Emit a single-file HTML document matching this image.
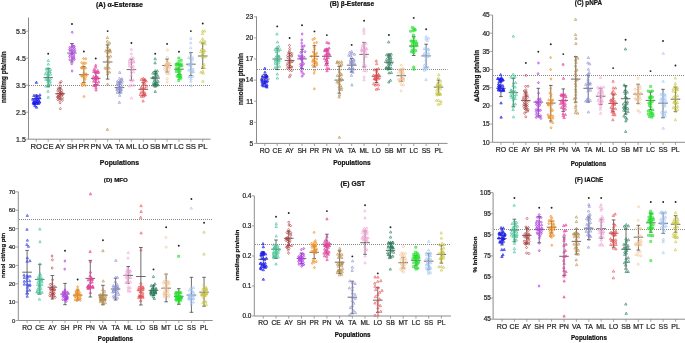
<!DOCTYPE html>
<html><head><meta charset="utf-8"><style>
html,body{margin:0;padding:0;background:#fff;}
svg{display:block;filter:blur(0.35px);}
text{font-family:"Liberation Sans", sans-serif;} .r{stroke:#262626;stroke-width:0.22px;} .b{stroke:#111;stroke-width:0.2px;}
</style></head><body>
<svg width="685" height="343" viewBox="0 0 685 343">
<rect width="685" height="343" fill="#fff"/>
<line x1="29" y1="85.5" x2="210.6" y2="85.5" stroke="#8a8a8a" stroke-width="1" stroke-dasharray="1 1"/>
<path d="M36.30,95.00V102.50M34.50,95.00H38.10M34.50,102.50H38.10" stroke="#3c3c3c" stroke-width="0.75" fill="none"/>
<path d="M31.50,98.70H41.10" stroke="#5a5a5a" stroke-width="0.9" fill="none"/>
<path d="M36.37,81.14L37.57,83.36L35.17,83.36ZM36.53,105.94L37.73,108.16L35.33,108.16ZM36.49,101.75L37.69,103.97L35.29,103.97ZM36.30,102.36L37.50,104.58L35.10,104.58ZM34.81,100.35L36.01,102.57L33.61,102.57ZM38.17,95.09L39.37,97.31L36.97,97.31ZM36.15,99.38L37.35,101.60L34.95,101.60ZM39.82,96.56L41.02,98.78L38.62,98.78ZM39.38,100.88L40.58,103.10L38.18,103.10ZM36.51,96.22L37.71,98.44L35.31,98.44ZM33.87,102.64L35.07,104.86L32.67,104.86ZM34.16,101.34L35.36,103.56L32.96,103.56ZM34.14,101.81L35.34,104.03L32.94,104.03ZM38.49,102.30L39.69,104.52L37.29,104.52ZM38.52,98.85L39.72,101.07L37.32,101.07ZM37.91,97.87L39.11,100.09L36.71,100.09ZM34.96,104.52L36.16,106.74L33.76,106.74ZM37.54,100.28L38.74,102.50L36.34,102.50ZM33.34,101.54L34.54,103.76L32.14,103.76ZM39.60,100.78L40.80,103.00L38.40,103.00ZM34.45,102.31L35.65,104.53L33.25,104.53ZM33.93,94.33L35.13,96.55L32.73,96.55ZM36.45,94.24L37.65,96.46L35.25,96.46ZM38.01,101.57L39.21,103.79L36.81,103.79ZM39.93,93.67L41.13,95.89L38.73,95.89ZM34.91,97.54L36.11,99.76L33.71,99.76ZM33.72,100.48L34.92,102.70L32.52,102.70ZM32.84,98.13L34.04,100.35L31.64,100.35Z" fill="#1818ee" fill-opacity="0.42" stroke="#1818ee" stroke-width="0.6"/>
<path d="M48.19,68.40V86.40M46.39,68.40H49.99M46.39,86.40H49.99" stroke="#3c3c3c" stroke-width="0.75" fill="none"/>
<path d="M43.39,77.60H52.99" stroke="#5a5a5a" stroke-width="0.9" fill="none"/>
<path d="M48.31,59.24L49.51,61.46L47.11,61.46ZM48.27,96.04L49.47,98.26L47.07,98.26ZM49.39,70.84L50.59,73.06L48.19,73.06ZM46.14,67.70L47.34,69.92L44.94,69.92ZM48.33,62.92L49.53,65.14L47.13,65.14ZM47.90,72.43L49.10,74.65L46.70,74.65ZM45.89,84.88L47.09,87.10L44.69,87.10ZM48.00,90.01L49.20,92.23L46.80,92.23ZM47.29,78.29L48.49,80.51L46.09,80.51ZM47.89,74.34L49.09,76.56L46.69,76.56ZM48.10,78.52L49.30,80.74L46.90,80.74ZM50.36,82.79L51.56,85.01L49.16,85.01ZM47.98,80.44L49.18,82.66L46.78,82.66ZM48.72,79.10L49.92,81.32L47.52,81.32ZM48.43,73.43L49.63,75.65L47.23,75.65ZM45.39,72.76L46.59,74.98L44.19,74.98ZM48.48,85.20L49.68,87.42L47.28,87.42ZM48.16,67.18L49.36,69.40L46.96,69.40ZM48.33,82.82L49.53,85.04L47.13,85.04ZM50.47,68.19L51.67,70.41L49.27,70.41ZM50.26,77.68L51.46,79.90L49.06,79.90ZM46.72,70.67L47.92,72.89L45.52,72.89ZM45.95,78.02L47.15,80.24L44.75,80.24ZM50.14,70.34L51.34,72.56L48.94,72.56ZM50.52,73.05L51.72,75.27L49.32,75.27ZM50.12,80.10L51.32,82.32L48.92,82.32Z" fill="none" stroke="#3cc494" stroke-width="0.62"/>
<circle cx="48.19" cy="53.70" r="0.95" fill="#222"/>
<path d="M60.08,88.00V99.00M58.28,88.00H61.88M58.28,99.00H61.88" stroke="#3c3c3c" stroke-width="0.75" fill="none"/>
<path d="M55.28,93.70H64.88" stroke="#5a5a5a" stroke-width="0.9" fill="none"/>
<path d="M61.19,80.40L62.23,81.70L61.19,83.00L60.15,81.70ZM60.13,101.50L61.17,102.80L60.13,104.10L59.09,102.80ZM58.28,95.38L59.32,96.68L58.28,97.98L57.24,96.68ZM61.58,88.96L62.62,90.26L61.58,91.56L60.54,90.26ZM59.92,90.54L60.96,91.84L59.92,93.14L58.88,91.84ZM58.13,87.62L59.17,88.92L58.13,90.22L57.09,88.92ZM57.63,96.18L58.67,97.48L57.63,98.78L56.59,97.48ZM57.78,89.57L58.82,90.87L57.78,92.17L56.74,90.87ZM59.91,81.85L60.95,83.15L59.91,84.45L58.87,83.15ZM61.64,93.85L62.68,95.15L61.64,96.45L60.60,95.15ZM62.64,93.29L63.68,94.59L62.64,95.89L61.60,94.59ZM61.98,91.37L63.02,92.67L61.98,93.97L60.94,92.67ZM62.34,92.80L63.38,94.10L62.34,95.40L61.30,94.10ZM60.10,93.87L61.14,95.17L60.10,96.47L59.06,95.17ZM59.22,94.55L60.26,95.85L59.22,97.15L58.18,95.85ZM59.90,98.95L60.94,100.25L59.90,101.55L58.86,100.25ZM62.47,96.47L63.51,97.77L62.47,99.07L61.43,97.77ZM57.89,98.27L58.93,99.57L57.89,100.87L56.85,99.57ZM59.80,96.42L60.84,97.72L59.80,99.02L58.76,97.72ZM57.86,95.36L58.90,96.66L57.86,97.96L56.82,96.66ZM61.44,91.76L62.48,93.06L61.44,94.36L60.40,93.06ZM57.69,92.81L58.73,94.11L57.69,95.41L56.65,94.11ZM60.19,85.13L61.23,86.43L60.19,87.73L59.15,86.43ZM62.43,98.87L63.47,100.17L62.43,101.47L61.39,100.17ZM59.92,91.95L60.96,93.25L59.92,94.55L58.88,93.25ZM59.83,87.05L60.87,88.35L59.83,89.65L58.79,88.35ZM60.36,107.40L61.40,108.70L60.36,110.00L59.32,108.70Z" fill="none" stroke="#b03838" stroke-width="0.62"/>
<path d="M71.97,43.50V62.00M70.17,43.50H73.77M70.17,62.00H73.77" stroke="#3c3c3c" stroke-width="0.75" fill="none"/>
<path d="M67.17,53.00H76.77" stroke="#5a5a5a" stroke-width="0.9" fill="none"/>
<path d="M72.24,30.90L73.28,32.20L72.24,33.50L71.20,32.20ZM72.09,69.70L73.13,71.00L72.09,72.30L71.05,71.00ZM69.93,53.22L70.97,54.52L69.93,55.82L68.89,54.52ZM71.80,49.45L72.84,50.75L71.80,52.05L70.76,50.75ZM73.49,45.09L74.53,46.39L73.49,47.69L72.45,46.39ZM71.72,62.54L72.76,63.84L71.72,65.14L70.68,63.84ZM71.95,52.20L72.99,53.50L71.95,54.80L70.91,53.50ZM72.25,43.61L73.29,44.91L72.25,46.21L71.21,44.91ZM74.09,55.80L75.13,57.10L74.09,58.40L73.05,57.10ZM73.97,53.70L75.01,55.00L73.97,56.30L72.93,55.00ZM73.70,57.18L74.74,58.48L73.70,59.78L72.66,58.48ZM73.57,51.05L74.61,52.35L73.57,53.65L72.53,52.35ZM74.29,58.15L75.33,59.45L74.29,60.75L73.25,59.45ZM69.88,46.27L70.92,47.57L69.88,48.87L68.84,47.57ZM69.79,58.51L70.83,59.81L69.79,61.11L68.75,59.81ZM70.07,49.44L71.11,50.74L70.07,52.04L69.03,50.74ZM72.08,58.87L73.12,60.17L72.08,61.47L71.04,60.17ZM71.80,52.95L72.84,54.25L71.80,55.55L70.76,54.25ZM69.63,55.27L70.67,56.57L69.63,57.87L68.59,56.57ZM74.59,47.19L75.63,48.49L74.59,49.79L73.55,48.49ZM75.04,49.56L76.08,50.86L75.04,52.16L74.00,50.86ZM69.67,48.23L70.71,49.53L69.67,50.83L68.63,49.53ZM73.52,48.32L74.56,49.62L73.52,50.92L72.48,49.62ZM72.04,56.21L73.08,57.51L72.04,58.81L71.00,57.51ZM74.30,45.08L75.34,46.38L74.30,47.68L73.26,46.38ZM71.72,45.76L72.76,47.06L71.72,48.36L70.68,47.06Z" fill="#b23ee6" fill-opacity="0.42" stroke="#b23ee6" stroke-width="0.6"/>
<circle cx="71.97" cy="24.00" r="0.95" fill="#222"/>
<path d="M83.86,66.70V82.50M82.06,66.70H85.66M82.06,82.50H85.66" stroke="#3c3c3c" stroke-width="0.75" fill="none"/>
<path d="M79.06,74.70H88.66" stroke="#5a5a5a" stroke-width="0.9" fill="none"/>
<path d="M83.57,57.30L84.61,58.60L83.57,59.90L82.53,58.60ZM82.39,84.40L83.43,85.70L82.39,87.00L81.35,85.70ZM83.84,67.08L84.88,68.38L83.84,69.68L82.80,68.38ZM81.93,74.23L82.97,75.53L81.93,76.83L80.89,75.53ZM83.39,74.64L84.43,75.94L83.39,77.24L82.35,75.94ZM83.42,63.45L84.46,64.75L83.42,66.05L82.38,64.75ZM86.07,75.03L87.11,76.33L86.07,77.63L85.03,76.33ZM83.79,71.72L84.83,73.02L83.79,74.32L82.75,73.02ZM81.39,66.46L82.43,67.76L81.39,69.06L80.35,67.76ZM85.82,57.52L86.86,58.82L85.82,60.12L84.78,58.82ZM81.58,74.82L82.62,76.12L81.58,77.42L80.54,76.12ZM83.73,76.54L84.77,77.84L83.73,79.14L82.69,77.84ZM85.67,61.92L86.71,63.22L85.67,64.52L84.63,63.22ZM83.79,74.08L84.83,75.38L83.79,76.68L82.75,75.38ZM82.04,66.82L83.08,68.12L82.04,69.42L81.00,68.12ZM81.53,66.27L82.57,67.57L81.53,68.87L80.49,67.57ZM85.76,66.81L86.80,68.11L85.76,69.41L84.72,68.11ZM85.30,83.95L86.34,85.25L85.30,86.55L84.26,85.25ZM83.75,82.76L84.79,84.06L83.75,85.36L82.71,84.06ZM85.97,72.70L87.01,74.00L85.97,75.30L84.93,74.00ZM85.21,77.87L86.25,79.17L85.21,80.47L84.17,79.17ZM81.91,82.52L82.95,83.82L81.91,85.12L80.87,83.82ZM84.15,80.85L85.19,82.15L84.15,83.45L83.11,82.15ZM83.87,61.59L84.91,62.89L83.87,64.19L82.83,62.89ZM86.33,73.24L87.37,74.54L86.33,75.84L85.29,74.54ZM81.68,61.45L82.72,62.75L81.68,64.05L80.64,62.75ZM83.99,95.30L85.03,96.60L83.99,97.90L82.95,96.60Z" fill="#f29022" fill-opacity="0.42" stroke="#f29022" stroke-width="0.6"/>
<circle cx="83.86" cy="51.50" r="0.95" fill="#222"/>
<path d="M95.75,72.20V84.50M93.95,72.20H97.55M93.95,84.50H97.55" stroke="#3c3c3c" stroke-width="0.75" fill="none"/>
<path d="M90.95,78.40H100.55" stroke="#5a5a5a" stroke-width="0.9" fill="none"/>
<path d="M95.74,63.94L96.94,66.16L94.54,66.16ZM96.05,88.74L97.25,90.96L94.85,90.96ZM93.55,75.19L94.75,77.41L92.35,77.41ZM95.38,84.58L96.58,86.80L94.18,86.80ZM93.79,70.35L94.99,72.57L92.59,72.57ZM95.62,69.30L96.82,71.52L94.42,71.52ZM96.42,74.83L97.62,77.05L95.22,77.05ZM93.95,68.24L95.15,70.46L92.75,70.46ZM95.62,71.52L96.82,73.74L94.42,73.74ZM98.68,80.62L99.88,82.84L97.48,82.84ZM93.69,84.27L94.89,86.49L92.49,86.49ZM96.09,76.31L97.29,78.53L94.89,78.53ZM93.70,77.53L94.90,79.75L92.50,79.75ZM97.72,71.35L98.92,73.57L96.52,73.57ZM97.69,83.25L98.89,85.47L96.49,85.47ZM97.45,77.58L98.65,79.80L96.25,79.80ZM98.49,70.99L99.69,73.21L97.29,73.21ZM97.92,76.29L99.12,78.51L96.72,78.51ZM95.66,78.05L96.86,80.27L94.46,80.27ZM96.05,80.67L97.25,82.89L94.85,82.89ZM95.99,86.30L97.19,88.52L94.79,88.52ZM93.69,80.09L94.89,82.31L92.49,82.31ZM95.55,66.00L96.75,68.22L94.35,68.22ZM95.83,75.18L97.03,77.40L94.63,77.40ZM95.53,83.87L96.73,86.09L94.33,86.09ZM97.73,69.37L98.93,71.59L96.53,71.59Z" fill="#e6409e" fill-opacity="0.42" stroke="#e6409e" stroke-width="0.6"/>
<circle cx="95.75" cy="58.50" r="0.95" fill="#222"/>
<path d="M107.64,45.00V79.10M105.84,45.00H109.44M105.84,79.10H109.44" stroke="#3c3c3c" stroke-width="0.75" fill="none"/>
<path d="M102.84,62.00H112.44" stroke="#5a5a5a" stroke-width="0.9" fill="none"/>
<path d="M107.40,36.34L108.60,38.56L106.20,38.56ZM107.71,82.94L108.91,85.16L106.51,85.16ZM109.08,66.81L110.28,69.03L107.88,69.03ZM105.08,66.81L106.28,69.03L103.88,69.03ZM109.24,49.59L110.44,51.81L108.04,51.81ZM107.72,63.10L108.92,65.32L106.52,65.32ZM109.50,70.91L110.70,73.13L108.30,73.13ZM107.57,42.91L108.77,45.13L106.37,45.13ZM110.48,54.86L111.68,57.08L109.28,57.08ZM107.49,51.37L108.69,53.59L106.29,53.59ZM105.84,49.60L107.04,51.82L104.64,51.82ZM107.45,48.51L108.65,50.73L106.25,50.73ZM107.48,70.10L108.68,72.32L106.28,72.32ZM109.61,49.09L110.81,51.31L108.41,51.31ZM107.58,45.88L108.78,48.10L106.38,48.10ZM109.63,41.77L110.83,43.99L108.43,43.99ZM110.36,50.58L111.56,52.80L109.16,52.80ZM108.84,56.02L110.04,58.24L107.64,58.24ZM107.88,58.57L109.08,60.79L106.68,60.79ZM106.99,67.77L108.19,69.99L105.79,69.99ZM107.54,72.63L108.74,74.85L106.34,74.85ZM109.93,48.64L111.13,50.86L108.73,50.86ZM107.36,65.26L108.56,67.48L106.16,67.48ZM108.24,61.20L109.44,63.42L107.04,63.42ZM107.38,39.93L108.58,42.15L106.18,42.15ZM107.34,54.71L108.54,56.93L106.14,56.93ZM107.38,128.14L108.58,130.36L106.18,130.36Z" fill="none" stroke="#b48a48" stroke-width="0.62"/>
<circle cx="107.64" cy="31.10" r="0.95" fill="#222"/>
<path d="M119.53,82.00V93.00M117.73,82.00H121.33M117.73,93.00H121.33" stroke="#3c3c3c" stroke-width="0.75" fill="none"/>
<path d="M114.73,87.60H124.33" stroke="#5a5a5a" stroke-width="0.9" fill="none"/>
<path d="M119.76,71.24L120.96,73.46L118.56,73.46ZM119.36,101.14L120.56,103.36L118.16,103.36ZM117.25,91.09L118.45,93.31L116.05,93.31ZM121.44,88.22L122.64,90.44L120.24,90.44ZM119.64,94.07L120.84,96.29L118.44,96.29ZM116.90,88.42L118.10,90.64L115.70,90.64ZM117.49,80.03L118.69,82.25L116.29,82.25ZM117.52,82.19L118.72,84.41L116.32,84.41ZM119.43,89.71L120.63,91.93L118.23,91.93ZM117.34,83.56L118.54,85.78L116.14,85.78ZM117.44,86.74L118.64,88.96L116.24,88.96ZM121.24,78.54L122.44,80.76L120.04,80.76ZM119.34,85.06L120.54,87.28L118.14,87.28ZM120.41,86.10L121.61,88.32L119.21,88.32ZM121.01,90.92L122.21,93.14L119.81,93.14ZM121.49,81.99L122.69,84.21L120.29,84.21ZM119.55,77.19L120.75,79.41L118.35,79.41ZM120.67,88.87L121.87,91.09L119.47,91.09ZM119.45,87.72L120.65,89.94L118.25,89.94ZM117.33,87.62L118.53,89.84L116.13,89.84ZM119.82,82.72L121.02,84.94L118.62,84.94ZM122.33,79.90L123.53,82.12L121.13,82.12ZM119.89,80.46L121.09,82.68L118.69,82.68ZM121.86,85.56L123.06,87.78L120.66,87.78ZM120.43,88.02L121.63,90.24L119.23,90.24ZM121.87,77.49L123.07,79.71L120.67,79.71ZM119.79,81.89L120.99,84.11L118.59,84.11ZM119.81,80.22L121.01,82.44L118.61,82.44Z" fill="none" stroke="#8c90d0" stroke-width="0.62"/>
<path d="M131.42,59.30V80.40M129.62,59.30H133.22M129.62,80.40H133.22" stroke="#3c3c3c" stroke-width="0.75" fill="none"/>
<path d="M126.62,69.60H136.22" stroke="#5a5a5a" stroke-width="0.9" fill="none"/>
<path d="M131.39,48.04L132.59,50.26L130.19,50.26ZM129.33,84.74L130.53,86.96L128.13,86.96ZM131.65,79.62L132.85,81.84L130.45,81.84ZM131.30,52.50L132.50,54.72L130.10,54.72ZM133.30,78.76L134.50,80.98L132.10,80.98ZM131.39,68.58L132.59,70.80L130.19,70.80ZM133.26,67.71L134.46,69.93L132.06,69.93ZM131.62,65.35L132.82,67.57L130.42,67.57ZM131.22,64.72L132.42,66.94L130.02,66.94ZM131.32,83.83L132.52,86.05L130.12,86.05ZM131.60,56.25L132.80,58.47L130.40,58.47ZM131.96,59.46L133.16,61.68L130.76,61.68ZM131.37,61.33L132.57,63.55L130.17,63.55ZM133.33,64.94L134.53,67.16L132.13,67.16ZM133.84,60.17L135.04,62.39L132.64,62.39ZM129.75,58.27L130.95,60.49L128.55,60.49ZM130.24,78.54L131.44,80.76L129.04,80.76ZM131.36,70.83L132.56,73.05L130.16,73.05ZM133.67,70.63L134.87,72.85L132.47,72.85ZM129.34,62.10L130.54,64.32L128.14,64.32ZM133.41,56.76L134.61,58.98L132.21,58.98ZM133.72,83.96L134.92,86.18L132.52,86.18ZM133.44,60.92L134.64,63.14L132.24,63.14ZM129.21,64.76L130.41,66.98L128.01,66.98ZM129.27,60.19L130.47,62.41L128.07,62.41ZM131.24,74.21L132.44,76.43L130.04,76.43ZM131.48,96.74L132.68,98.96L130.28,98.96Z" fill="none" stroke="#f0a6d6" stroke-width="0.62"/>
<circle cx="131.42" cy="43.00" r="0.95" fill="#222"/>
<path d="M143.31,82.70V95.80M141.51,82.70H145.11M141.51,95.80H145.11" stroke="#3c3c3c" stroke-width="0.75" fill="none"/>
<path d="M138.51,89.30H148.11" stroke="#5a5a5a" stroke-width="0.9" fill="none"/>
<path d="M143.21,77.14L144.41,79.36L142.01,79.36ZM143.13,99.74L144.33,101.96L141.93,101.96ZM141.37,86.05L142.57,88.27L140.17,88.27ZM144.92,78.59L146.12,80.81L143.72,80.81ZM141.18,87.62L142.38,89.84L139.98,89.84ZM143.46,80.19L144.66,82.41L142.26,82.41ZM143.01,90.33L144.21,92.55L141.81,92.55ZM143.47,78.65L144.67,80.87L142.27,80.87ZM144.98,93.61L146.18,95.83L143.78,95.83ZM141.33,78.20L142.53,80.42L140.13,80.42ZM143.41,92.97L144.61,95.19L142.21,95.19ZM143.68,93.15L144.88,95.37L142.48,95.37ZM145.13,83.14L146.33,85.36L143.93,85.36ZM144.75,78.90L145.95,81.12L143.55,81.12ZM146.18,79.80L147.38,82.02L144.98,82.02ZM141.09,91.08L142.29,93.30L139.89,93.30ZM144.76,91.51L145.96,93.73L143.56,93.73ZM146.34,84.98L147.54,87.20L145.14,87.20ZM143.40,87.40L144.60,89.62L142.20,89.62ZM145.22,93.58L146.42,95.80L144.02,95.80ZM140.36,93.34L141.56,95.56L139.16,95.56ZM141.39,95.13L142.59,97.35L140.19,97.35ZM144.87,78.33L146.07,80.55L143.67,80.55ZM143.28,83.30L144.48,85.52L142.08,85.52ZM145.12,87.15L146.32,89.37L143.92,89.37ZM143.49,95.04L144.69,97.26L142.29,97.26Z" fill="none" stroke="#ea4a4e" stroke-width="0.62"/>
<path d="M155.20,71.50V85.10M153.40,71.50H157.00M153.40,85.10H157.00" stroke="#3c3c3c" stroke-width="0.75" fill="none"/>
<path d="M150.40,78.10H160.00" stroke="#5a5a5a" stroke-width="0.9" fill="none"/>
<path d="M155.18,57.54L156.38,59.76L153.98,59.76ZM155.24,90.24L156.44,92.46L154.04,92.46ZM152.98,83.84L154.18,86.06L151.78,86.06ZM157.31,69.64L158.51,71.86L156.11,71.86ZM155.80,71.98L157.00,74.20L154.60,74.20ZM155.10,82.51L156.30,84.73L153.90,84.73ZM156.32,73.58L157.52,75.80L155.12,75.80ZM156.37,82.16L157.57,84.38L155.17,84.38ZM157.78,74.64L158.98,76.86L156.58,76.86ZM157.60,83.78L158.80,86.00L156.40,86.00ZM155.76,84.60L156.96,86.82L154.56,86.82ZM153.67,81.08L154.87,83.30L152.47,83.30ZM156.02,83.81L157.22,86.03L154.82,86.03ZM154.91,84.96L156.11,87.18L153.71,87.18ZM154.16,82.90L155.36,85.12L152.96,85.12ZM157.34,82.39L158.54,84.61L156.14,84.61ZM155.08,61.60L156.28,63.82L153.88,63.82ZM155.99,80.13L157.19,82.35L154.79,82.35ZM152.89,71.82L154.09,74.04L151.69,74.04ZM158.04,80.02L159.24,82.24L156.84,82.24ZM153.03,76.12L154.23,78.34L151.83,78.34ZM156.39,71.44L157.59,73.66L155.19,73.66ZM154.98,72.48L156.18,74.70L153.78,74.70ZM156.56,77.06L157.76,79.28L155.36,79.28ZM155.17,75.59L156.37,77.81L153.97,77.81ZM154.50,78.46L155.70,80.68L153.30,80.68ZM155.33,69.49L156.53,71.71L154.13,71.71ZM152.99,76.56L154.19,78.78L151.79,78.78Z" fill="none" stroke="#287e5c" stroke-width="0.62"/>
<circle cx="155.20" cy="53.70" r="0.95" fill="#222"/>
<path d="M167.09,59.00V72.00M165.29,59.00H168.89M165.29,72.00H168.89" stroke="#3c3c3c" stroke-width="0.75" fill="none"/>
<path d="M162.29,65.50H171.89" stroke="#5a5a5a" stroke-width="0.9" fill="none"/>
<path d="M166.34,50.00a1.05,1.05 0 1,0 2.1,0a1.05,1.05 0 1,0 -2.1,0M166.13,82.00a1.05,1.05 0 1,0 2.1,0a1.05,1.05 0 1,0 -2.1,0M168.48,67.65a1.05,1.05 0 1,0 2.1,0a1.05,1.05 0 1,0 -2.1,0M167.09,63.75a1.05,1.05 0 1,0 2.1,0a1.05,1.05 0 1,0 -2.1,0M165.87,73.75a1.05,1.05 0 1,0 2.1,0a1.05,1.05 0 1,0 -2.1,0M165.77,70.59a1.05,1.05 0 1,0 2.1,0a1.05,1.05 0 1,0 -2.1,0M167.47,65.25a1.05,1.05 0 1,0 2.1,0a1.05,1.05 0 1,0 -2.1,0M164.93,65.10a1.05,1.05 0 1,0 2.1,0a1.05,1.05 0 1,0 -2.1,0M166.28,57.42a1.05,1.05 0 1,0 2.1,0a1.05,1.05 0 1,0 -2.1,0M168.01,70.69a1.05,1.05 0 1,0 2.1,0a1.05,1.05 0 1,0 -2.1,0M167.87,65.09a1.05,1.05 0 1,0 2.1,0a1.05,1.05 0 1,0 -2.1,0M165.86,66.43a1.05,1.05 0 1,0 2.1,0a1.05,1.05 0 1,0 -2.1,0M167.51,64.18a1.05,1.05 0 1,0 2.1,0a1.05,1.05 0 1,0 -2.1,0M163.83,67.43a1.05,1.05 0 1,0 2.1,0a1.05,1.05 0 1,0 -2.1,0M165.90,64.73a1.05,1.05 0 1,0 2.1,0a1.05,1.05 0 1,0 -2.1,0M168.89,63.30a1.05,1.05 0 1,0 2.1,0a1.05,1.05 0 1,0 -2.1,0M163.83,69.60a1.05,1.05 0 1,0 2.1,0a1.05,1.05 0 1,0 -2.1,0M166.80,63.00a1.05,1.05 0 1,0 2.1,0a1.05,1.05 0 1,0 -2.1,0M166.15,78.69a1.05,1.05 0 1,0 2.1,0a1.05,1.05 0 1,0 -2.1,0M166.27,67.60a1.05,1.05 0 1,0 2.1,0a1.05,1.05 0 1,0 -2.1,0M168.00,73.83a1.05,1.05 0 1,0 2.1,0a1.05,1.05 0 1,0 -2.1,0M165.31,63.68a1.05,1.05 0 1,0 2.1,0a1.05,1.05 0 1,0 -2.1,0M166.56,64.16a1.05,1.05 0 1,0 2.1,0a1.05,1.05 0 1,0 -2.1,0M168.40,67.07a1.05,1.05 0 1,0 2.1,0a1.05,1.05 0 1,0 -2.1,0M166.05,61.19a1.05,1.05 0 1,0 2.1,0a1.05,1.05 0 1,0 -2.1,0M164.20,64.98a1.05,1.05 0 1,0 2.1,0a1.05,1.05 0 1,0 -2.1,0" fill="none" stroke="#f2c290" stroke-width="0.62"/>
<circle cx="167.09" cy="43.90" r="0.95" fill="#222"/>
<path d="M178.98,64.00V74.50M177.18,64.00H180.78M177.18,74.50H180.78" stroke="#3c3c3c" stroke-width="0.75" fill="none"/>
<path d="M174.18,69.20H183.78" stroke="#5a5a5a" stroke-width="0.9" fill="none"/>
<path d="M177.80,57.00h2.0v2.0h-2.0ZM177.70,79.50h2.0v2.0h-2.0ZM179.56,64.88h2.0v2.0h-2.0ZM178.48,72.80h2.0v2.0h-2.0ZM177.85,75.22h2.0v2.0h-2.0ZM175.34,70.60h2.0v2.0h-2.0ZM175.20,63.44h2.0v2.0h-2.0ZM179.11,69.78h2.0v2.0h-2.0ZM179.19,64.45h2.0v2.0h-2.0ZM177.93,60.34h2.0v2.0h-2.0ZM180.94,64.85h2.0v2.0h-2.0ZM180.23,59.32h2.0v2.0h-2.0ZM176.25,62.63h2.0v2.0h-2.0ZM177.86,71.03h2.0v2.0h-2.0ZM176.18,75.23h2.0v2.0h-2.0ZM175.26,63.63h2.0v2.0h-2.0ZM175.91,68.73h2.0v2.0h-2.0ZM177.87,67.63h2.0v2.0h-2.0ZM175.69,66.70h2.0v2.0h-2.0ZM179.31,75.91h2.0v2.0h-2.0ZM180.28,62.93h2.0v2.0h-2.0ZM179.81,74.51h2.0v2.0h-2.0ZM179.90,77.18h2.0v2.0h-2.0ZM177.77,63.41h2.0v2.0h-2.0ZM178.28,75.17h2.0v2.0h-2.0ZM178.05,77.39h2.0v2.0h-2.0Z" fill="#22e02a" fill-opacity="0.42" stroke="#22e02a" stroke-width="0.6"/>
<circle cx="178.98" cy="51.80" r="0.95" fill="#222"/>
<path d="M190.87,52.50V75.50M189.07,52.50H192.67M189.07,75.50H192.67" stroke="#3c3c3c" stroke-width="0.75" fill="none"/>
<path d="M186.07,64.20H195.67" stroke="#5a5a5a" stroke-width="0.9" fill="none"/>
<path d="M190.83,37.14L192.03,39.36L189.63,39.36ZM191.15,84.44L192.35,86.66L189.95,86.66ZM188.81,68.83L190.01,71.05L187.61,71.05ZM193.31,70.20L194.51,72.42L192.11,72.42ZM191.06,69.16L192.26,71.38L189.86,71.38ZM190.61,51.65L191.81,53.87L189.41,53.87ZM193.11,67.80L194.31,70.02L191.91,70.02ZM192.97,70.47L194.17,72.69L191.77,72.69ZM189.06,75.53L190.26,77.75L187.86,77.75ZM192.69,56.52L193.89,58.74L191.49,58.74ZM188.89,56.37L190.09,58.59L187.69,58.59ZM190.83,79.95L192.03,82.17L189.63,82.17ZM190.59,61.45L191.79,63.67L189.39,63.67ZM190.93,75.50L192.13,77.72L189.73,77.72ZM192.37,58.63L193.57,60.85L191.17,60.85ZM188.85,63.70L190.05,65.92L187.65,65.92ZM190.65,46.53L191.85,48.75L189.45,48.75ZM191.08,71.07L192.28,73.29L189.88,73.29ZM190.81,57.26L192.01,59.48L189.61,59.48ZM190.74,41.59L191.94,43.81L189.54,43.81ZM191.05,77.50L192.25,79.72L189.85,79.72ZM189.45,62.92L190.65,65.14L188.25,65.14ZM192.85,74.99L194.05,77.21L191.65,77.21ZM192.40,62.70L193.60,64.92L191.20,64.92ZM191.00,66.44L192.20,68.66L189.80,68.66ZM190.85,64.33L192.05,66.55L189.65,66.55Z" fill="none" stroke="#a2c4f4" stroke-width="0.62"/>
<circle cx="190.87" cy="31.10" r="0.95" fill="#222"/>
<path d="M202.76,43.00V68.30M200.96,43.00H204.56M200.96,68.30H204.56" stroke="#3c3c3c" stroke-width="0.75" fill="none"/>
<path d="M197.96,56.00H207.56" stroke="#5a5a5a" stroke-width="0.9" fill="none"/>
<path d="M204.57,29.74L205.77,31.96L203.37,31.96ZM202.86,80.04L204.06,82.26L201.66,82.26ZM201.44,54.31L202.64,56.53L200.24,56.53ZM200.70,50.54L201.90,52.76L199.50,52.76ZM203.75,49.33L204.95,51.55L202.55,51.55ZM202.78,39.94L203.98,42.16L201.58,42.16ZM202.91,52.25L204.11,54.47L201.71,54.47ZM204.25,66.50L205.45,68.72L203.05,68.72ZM202.68,29.86L203.88,32.08L201.48,32.08ZM204.84,49.47L206.04,51.69L203.64,51.69ZM203.31,71.88L204.51,74.10L202.11,74.10ZM200.50,40.58L201.70,42.80L199.30,42.80ZM202.75,70.04L203.95,72.26L201.55,72.26ZM204.10,63.24L205.30,65.46L202.90,65.46ZM202.52,42.08L203.72,44.30L201.32,44.30ZM200.89,71.07L202.09,73.29L199.69,73.29ZM202.64,55.90L203.84,58.12L201.44,58.12ZM205.05,55.64L206.25,57.86L203.85,57.86ZM201.43,48.37L202.63,50.59L200.23,50.59ZM202.66,37.44L203.86,39.66L201.46,39.66ZM203.44,51.18L204.64,53.40L202.24,53.40ZM202.63,50.00L203.83,52.22L201.43,52.22ZM204.99,40.11L206.19,42.33L203.79,42.33ZM202.54,32.32L203.74,34.54L201.34,34.54ZM202.77,64.85L203.97,67.07L201.57,67.07ZM205.07,42.59L206.27,44.81L203.87,44.81Z" fill="none" stroke="#c8c444" stroke-width="0.62"/>
<circle cx="202.76" cy="23.50" r="0.95" fill="#222"/>
<path d="M28.5,17.5V139.2H210.6" stroke="#8c8c8c" stroke-width="1" fill="none"/>
<path d="M26.1,31.2H28.5M26.1,58.2H28.5M26.1,85.2H28.5M26.1,112.2H28.5M26.1,139.2H28.5" stroke="#8c8c8c" stroke-width="0.8" fill="none"/>
<text x="25.80" y="33.65" text-anchor="end" font-size="7.0" fill="#262626" class="r">5.5</text>
<text x="25.80" y="60.65" text-anchor="end" font-size="7.0" fill="#262626" class="r">4.5</text>
<text x="25.80" y="87.65" text-anchor="end" font-size="7.0" fill="#262626" class="r">3.5</text>
<text x="25.80" y="114.65" text-anchor="end" font-size="7.0" fill="#262626" class="r">2.5</text>
<text x="25.80" y="141.65" text-anchor="end" font-size="7.0" fill="#262626" class="r">1.5</text>
<path d="M36.30,139.2v2.6M48.19,139.2v2.6M60.08,139.2v2.6M71.97,139.2v2.6M83.86,139.2v2.6M95.75,139.2v2.6M107.64,139.2v2.6M119.53,139.2v2.6M131.42,139.2v2.6M143.31,139.2v2.6M155.20,139.2v2.6M167.09,139.2v2.6M178.98,139.2v2.6M190.87,139.2v2.6M202.76,139.2v2.6" stroke="#8c8c8c" stroke-width="0.8" fill="none"/>
<text x="36.30" y="148.9" text-anchor="middle" font-size="7.7" fill="#262626" class="r">RO</text>
<text x="48.19" y="148.9" text-anchor="middle" font-size="7.7" fill="#262626" class="r">CE</text>
<text x="60.08" y="148.9" text-anchor="middle" font-size="7.7" fill="#262626" class="r">AY</text>
<text x="71.97" y="148.9" text-anchor="middle" font-size="7.7" fill="#262626" class="r">SH</text>
<text x="83.86" y="148.9" text-anchor="middle" font-size="7.7" fill="#262626" class="r">PR</text>
<text x="95.75" y="148.9" text-anchor="middle" font-size="7.7" fill="#262626" class="r">PN</text>
<text x="107.64" y="148.9" text-anchor="middle" font-size="7.7" fill="#262626" class="r">VA</text>
<text x="119.53" y="148.9" text-anchor="middle" font-size="7.7" fill="#262626" class="r">TA</text>
<text x="131.42" y="148.9" text-anchor="middle" font-size="7.7" fill="#262626" class="r">ML</text>
<text x="143.31" y="148.9" text-anchor="middle" font-size="7.7" fill="#262626" class="r">LO</text>
<text x="155.20" y="148.9" text-anchor="middle" font-size="7.7" fill="#262626" class="r">SB</text>
<text x="167.09" y="148.9" text-anchor="middle" font-size="7.7" fill="#262626" class="r">MT</text>
<text x="178.98" y="148.9" text-anchor="middle" font-size="7.7" fill="#262626" class="r">LC</text>
<text x="190.87" y="148.9" text-anchor="middle" font-size="7.7" fill="#262626" class="r">SS</text>
<text x="202.76" y="148.9" text-anchor="middle" font-size="7.7" fill="#262626" class="r">PL</text>
<text x="95.93" y="6.70" font-size="6.4" font-weight="bold" fill="#111" class="b" textLength="47.04" lengthAdjust="spacingAndGlyphs">(A) α-Esterase</text>
<text x="99.86" y="164.90" font-size="6.9" font-weight="bold" fill="#111" class="b" textLength="39.28" lengthAdjust="spacingAndGlyphs">Populations</text>
<text transform="rotate(-90)" x="-102.96" y="6.30" font-size="6.3" font-weight="bold" fill="#111" class="b" textLength="51.59" lengthAdjust="spacingAndGlyphs">nmol/mg pts/min</text>
<line x1="257" y1="69.5" x2="447.6" y2="69.5" stroke="#8a8a8a" stroke-width="1" stroke-dasharray="1 1"/>
<path d="M264.80,74.50V84.00M263.00,74.50H266.60M263.00,84.00H266.60" stroke="#3c3c3c" stroke-width="0.75" fill="none"/>
<path d="M260.00,79.10H269.60" stroke="#5a5a5a" stroke-width="0.9" fill="none"/>
<path d="M264.83,67.14L266.03,69.36L263.63,69.36ZM266.86,85.84L268.06,88.06L265.66,88.06ZM267.10,75.11L268.30,77.33L265.90,77.33ZM266.12,76.31L267.32,78.53L264.92,78.53ZM266.47,75.50L267.67,77.72L265.27,77.72ZM264.98,70.98L266.18,73.20L263.78,73.20ZM264.29,79.28L265.49,81.50L263.09,81.50ZM261.74,78.58L262.94,80.80L260.54,80.80ZM264.80,81.12L266.00,83.34L263.60,83.34ZM262.59,76.09L263.79,78.31L261.39,78.31ZM266.37,84.92L267.57,87.14L265.17,87.14ZM262.09,80.80L263.29,83.02L260.89,83.02ZM266.79,80.65L267.99,82.87L265.59,82.87ZM262.19,79.17L263.39,81.39L260.99,81.39ZM265.03,84.75L266.23,86.97L263.83,86.97ZM264.73,82.15L265.93,84.37L263.53,84.37ZM266.60,74.25L267.80,76.47L265.40,76.47ZM262.92,81.83L264.12,84.05L261.72,84.05ZM262.45,74.73L263.65,76.95L261.25,76.95ZM267.01,83.85L268.21,86.07L265.81,86.07ZM264.91,75.17L266.11,77.39L263.71,77.39ZM265.77,79.68L266.97,81.90L264.57,81.90ZM266.37,74.18L267.57,76.40L265.17,76.40ZM267.52,79.56L268.72,81.78L266.32,81.78ZM263.05,84.63L264.25,86.85L261.85,86.85ZM262.18,83.51L263.38,85.73L260.98,85.73Z" fill="#1818ee" fill-opacity="0.42" stroke="#1818ee" stroke-width="0.6"/>
<path d="M277.21,48.30V69.60M275.41,48.30H279.01M275.41,69.60H279.01" stroke="#3c3c3c" stroke-width="0.75" fill="none"/>
<path d="M272.41,59.00H282.01" stroke="#5a5a5a" stroke-width="0.9" fill="none"/>
<path d="M277.50,40.74L278.70,42.96L276.30,42.96ZM277.37,76.84L278.57,79.06L276.17,79.06ZM279.17,59.21L280.37,61.43L277.97,61.43ZM277.00,62.72L278.20,64.94L275.80,64.94ZM279.05,55.02L280.25,57.24L277.85,57.24ZM278.78,55.73L279.98,57.95L277.58,57.95ZM275.24,62.07L276.44,64.29L274.04,64.29ZM278.56,45.03L279.76,47.25L277.36,47.25ZM277.28,72.78L278.48,75.00L276.08,75.00ZM278.57,58.89L279.77,61.11L277.37,61.11ZM279.39,65.07L280.59,67.29L278.19,67.29ZM275.09,48.49L276.29,50.71L273.89,50.71ZM278.47,49.62L279.67,51.84L277.27,51.84ZM277.18,58.35L278.38,60.57L275.98,60.57ZM274.90,66.23L276.10,68.45L273.70,68.45ZM276.37,50.53L277.57,52.75L275.17,52.75ZM276.76,46.32L277.96,48.54L275.56,48.54ZM280.16,48.37L281.36,50.59L278.96,50.59ZM275.93,55.62L277.13,57.84L274.73,57.84ZM277.16,65.84L278.36,68.06L275.96,68.06ZM277.34,54.35L278.54,56.57L276.14,56.57ZM277.48,47.99L278.68,50.21L276.28,50.21ZM278.63,54.85L279.83,57.07L277.43,57.07ZM275.58,59.82L276.78,62.04L274.38,62.04ZM275.32,58.47L276.52,60.69L274.12,60.69ZM278.75,61.62L279.95,63.84L277.55,63.84ZM276.94,32.74L278.14,34.96L275.74,34.96Z" fill="none" stroke="#3cc494" stroke-width="0.62"/>
<circle cx="277.21" cy="26.40" r="0.95" fill="#222"/>
<path d="M289.62,53.00V68.00M287.82,53.00H291.42M287.82,68.00H291.42" stroke="#3c3c3c" stroke-width="0.75" fill="none"/>
<path d="M284.82,60.40H294.42" stroke="#5a5a5a" stroke-width="0.9" fill="none"/>
<path d="M289.44,44.10L290.48,45.40L289.44,46.70L288.40,45.40ZM289.40,75.60L290.44,76.90L289.40,78.20L288.36,76.90ZM288.98,59.64L290.02,60.94L288.98,62.24L287.94,60.94ZM287.25,63.97L288.29,65.27L287.25,66.57L286.21,65.27ZM291.96,65.73L293.00,67.03L291.96,68.33L290.92,67.03ZM291.82,69.27L292.86,70.57L291.82,71.87L290.78,70.57ZM289.45,49.64L290.49,50.94L289.45,52.24L288.41,50.94ZM290.12,53.32L291.16,54.62L290.12,55.92L289.08,54.62ZM289.41,65.73L290.45,67.03L289.41,68.33L288.37,67.03ZM287.75,54.30L288.79,55.60L287.75,56.90L286.71,55.60ZM289.64,63.82L290.68,65.12L289.64,66.42L288.60,65.12ZM292.52,60.24L293.56,61.54L292.52,62.84L291.48,61.54ZM289.77,47.28L290.81,48.58L289.77,49.88L288.73,48.58ZM289.88,57.87L290.92,59.17L289.88,60.47L288.84,59.17ZM287.62,66.92L288.66,68.22L287.62,69.52L286.58,68.22ZM291.89,54.70L292.93,56.00L291.89,57.30L290.85,56.00ZM291.44,60.56L292.48,61.86L291.44,63.16L290.40,61.86ZM289.58,69.05L290.62,70.35L289.58,71.65L288.54,70.35ZM290.56,65.29L291.60,66.59L290.56,67.89L289.52,66.59ZM287.78,56.41L288.82,57.71L287.78,59.01L286.74,57.71ZM290.41,73.83L291.45,75.13L290.41,76.43L289.37,75.13ZM291.79,52.29L292.83,53.59L291.79,54.89L290.75,53.59ZM288.73,51.49L289.77,52.79L288.73,54.09L287.69,52.79ZM289.60,55.11L290.64,56.41L289.60,57.71L288.56,56.41ZM289.77,61.60L290.81,62.90L289.77,64.20L288.73,62.90ZM287.70,61.73L288.74,63.03L287.70,64.33L286.66,63.03Z" fill="none" stroke="#b03838" stroke-width="0.62"/>
<circle cx="289.62" cy="38.00" r="0.95" fill="#222"/>
<path d="M302.03,49.30V68.50M300.23,49.30H303.83M300.23,68.50H303.83" stroke="#3c3c3c" stroke-width="0.75" fill="none"/>
<path d="M297.23,58.90H306.83" stroke="#5a5a5a" stroke-width="0.9" fill="none"/>
<path d="M301.80,38.70L302.84,40.00L301.80,41.30L300.76,40.00ZM302.08,74.90L303.12,76.20L302.08,77.50L301.04,76.20ZM301.37,69.46L302.41,70.76L301.37,72.06L300.33,70.76ZM300.85,65.28L301.89,66.58L300.85,67.88L299.81,66.58ZM304.26,44.58L305.30,45.88L304.26,47.18L303.22,45.88ZM302.06,71.23L303.10,72.53L302.06,73.83L301.02,72.53ZM302.20,64.04L303.24,65.34L302.20,66.64L301.16,65.34ZM302.32,60.76L303.36,62.06L302.32,63.36L301.28,62.06ZM302.17,58.48L303.21,59.78L302.17,61.08L301.13,59.78ZM303.66,62.57L304.70,63.87L303.66,65.17L302.62,63.87ZM300.88,57.68L301.92,58.98L300.88,60.28L299.84,58.98ZM304.27,56.02L305.31,57.32L304.27,58.62L303.23,57.32ZM300.42,62.94L301.46,64.24L300.42,65.54L299.38,64.24ZM298.96,54.52L300.00,55.82L298.96,57.12L297.92,55.82ZM300.79,51.07L301.83,52.37L300.79,53.67L299.75,52.37ZM301.74,41.80L302.78,43.10L301.74,44.40L300.70,43.10ZM302.24,56.50L303.28,57.80L302.24,59.10L301.20,57.80ZM302.30,50.07L303.34,51.37L302.30,52.67L301.26,51.37ZM303.57,72.84L304.61,74.14L303.57,75.44L302.53,74.14ZM301.34,54.78L302.38,56.08L301.34,57.38L300.30,56.08ZM302.23,54.45L303.27,55.75L302.23,57.05L301.19,55.75ZM305.03,50.40L306.07,51.70L305.03,53.00L303.99,51.70ZM301.88,44.68L302.92,45.98L301.88,47.28L300.84,45.98ZM301.78,67.32L302.82,68.62L301.78,69.92L300.74,68.62ZM302.51,46.55L303.55,47.85L302.51,49.15L301.47,47.85ZM300.18,56.46L301.22,57.76L300.18,59.06L299.14,57.76ZM302.16,32.70L303.20,34.00L302.16,35.30L301.12,34.00Z" fill="#b23ee6" fill-opacity="0.42" stroke="#b23ee6" stroke-width="0.6"/>
<circle cx="302.03" cy="25.20" r="0.95" fill="#222"/>
<path d="M314.44,45.70V67.00M312.64,45.70H316.24M312.64,67.00H316.24" stroke="#3c3c3c" stroke-width="0.75" fill="none"/>
<path d="M309.64,56.30H319.24" stroke="#5a5a5a" stroke-width="0.9" fill="none"/>
<path d="M314.65,37.10L315.69,38.40L314.65,39.70L313.61,38.40ZM314.17,71.90L315.21,73.20L314.17,74.50L313.13,73.20ZM314.24,45.92L315.28,47.22L314.24,48.52L313.20,47.22ZM311.53,55.01L312.57,56.31L311.53,57.61L310.49,56.31ZM313.96,58.97L315.00,60.27L313.96,61.57L312.92,60.27ZM314.68,59.83L315.72,61.13L314.68,62.43L313.64,61.13ZM312.88,38.19L313.92,39.49L312.88,40.79L311.84,39.49ZM317.03,63.62L318.07,64.92L317.03,66.22L315.99,64.92ZM314.69,64.15L315.73,65.45L314.69,66.75L313.65,65.45ZM314.55,62.22L315.59,63.52L314.55,64.82L313.51,63.52ZM312.86,58.66L313.90,59.96L312.86,61.26L311.82,59.96ZM313.82,54.38L314.86,55.68L313.82,56.98L312.78,55.68ZM315.84,53.89L316.88,55.19L315.84,56.49L314.80,55.19ZM314.61,52.30L315.65,53.60L314.61,54.90L313.57,53.60ZM312.56,60.55L313.60,61.85L312.56,63.15L311.52,61.85ZM316.77,57.74L317.81,59.04L316.77,60.34L315.73,59.04ZM312.53,64.17L313.57,65.47L312.53,66.77L311.49,65.47ZM314.51,69.31L315.55,70.61L314.51,71.91L313.47,70.61ZM316.67,61.76L317.71,63.06L316.67,64.36L315.63,63.06ZM313.03,50.72L314.07,52.02L313.03,53.32L311.99,52.02ZM315.98,61.08L317.02,62.38L315.98,63.68L314.94,62.38ZM314.60,47.88L315.64,49.18L314.60,50.48L313.56,49.18ZM314.51,57.00L315.55,58.30L314.51,59.60L313.47,58.30ZM316.76,41.10L317.80,42.40L316.76,43.70L315.72,42.40ZM314.26,41.90L315.30,43.20L314.26,44.50L313.22,43.20ZM316.66,51.88L317.70,53.18L316.66,54.48L315.62,53.18ZM314.36,87.60L315.40,88.90L314.36,90.20L313.32,88.90Z" fill="#f29022" fill-opacity="0.42" stroke="#f29022" stroke-width="0.6"/>
<circle cx="314.44" cy="31.40" r="0.95" fill="#222"/>
<path d="M326.85,49.00V63.50M325.05,49.00H328.65M325.05,63.50H328.65" stroke="#3c3c3c" stroke-width="0.75" fill="none"/>
<path d="M322.05,56.30H331.65" stroke="#5a5a5a" stroke-width="0.9" fill="none"/>
<path d="M326.90,41.14L328.10,43.36L325.70,43.36ZM327.04,69.54L328.24,71.76L325.84,71.76ZM325.61,49.05L326.81,51.27L324.41,51.27ZM326.90,54.43L328.10,56.65L325.70,56.65ZM328.90,53.09L330.10,55.31L327.70,55.31ZM324.68,49.63L325.88,51.85L323.48,51.85ZM326.86,48.64L328.06,50.86L325.66,50.86ZM324.49,57.21L325.69,59.43L323.29,59.43ZM324.88,48.47L326.08,50.69L323.68,50.69ZM329.10,46.82L330.30,49.04L327.90,49.04ZM326.98,67.04L328.18,69.26L325.78,69.26ZM325.67,59.64L326.87,61.86L324.47,61.86ZM328.12,49.04L329.32,51.26L326.92,51.26ZM328.28,56.25L329.48,58.47L327.08,58.47ZM324.94,54.26L326.14,56.48L323.74,56.48ZM327.45,60.06L328.65,62.28L326.25,62.28ZM326.71,57.74L327.91,59.96L325.51,59.96ZM328.01,50.98L329.21,53.20L326.81,53.20ZM325.68,63.54L326.88,65.76L324.48,65.76ZM329.40,52.98L330.60,55.20L328.20,55.20ZM326.60,52.26L327.80,54.48L325.40,54.48ZM328.94,67.41L330.14,69.63L327.74,69.63ZM328.86,41.90L330.06,44.12L327.66,44.12ZM326.87,47.68L328.07,49.90L325.67,49.90ZM326.78,61.91L327.98,64.13L325.58,64.13ZM327.35,63.79L328.55,66.01L326.15,66.01Z" fill="#e6409e" fill-opacity="0.42" stroke="#e6409e" stroke-width="0.6"/>
<circle cx="326.85" cy="35.10" r="0.95" fill="#222"/>
<path d="M339.26,66.40V93.20M337.46,66.40H341.06M337.46,93.20H341.06" stroke="#3c3c3c" stroke-width="0.75" fill="none"/>
<path d="M334.46,80.10H344.06" stroke="#5a5a5a" stroke-width="0.9" fill="none"/>
<path d="M337.22,60.34L338.42,62.56L336.02,62.56ZM339.14,95.74L340.34,97.96L337.94,97.96ZM341.54,86.41L342.74,88.63L340.34,88.63ZM339.48,76.80L340.68,79.02L338.28,79.02ZM340.73,79.06L341.93,81.28L339.53,81.28ZM341.79,63.12L342.99,65.34L340.59,65.34ZM340.60,64.74L341.80,66.96L339.40,66.96ZM337.37,74.35L338.57,76.57L336.17,76.57ZM341.57,77.34L342.77,79.56L340.37,79.56ZM339.43,70.44L340.63,72.66L338.23,72.66ZM339.48,74.20L340.68,76.42L338.28,76.42ZM339.03,82.07L340.23,84.29L337.83,84.29ZM338.99,80.02L340.19,82.24L337.79,82.24ZM341.49,88.43L342.69,90.65L340.29,90.65ZM341.58,73.50L342.78,75.72L340.38,75.72ZM339.29,85.58L340.49,87.80L338.09,87.80ZM340.70,72.78L341.90,75.00L339.50,75.00ZM337.03,80.78L338.23,83.00L335.83,83.00ZM340.43,84.14L341.63,86.36L339.23,86.36ZM339.26,68.00L340.46,70.22L338.06,70.22ZM339.42,87.80L340.62,90.02L338.22,90.02ZM339.11,60.69L340.31,62.91L337.91,62.91ZM341.62,60.50L342.82,62.72L340.42,62.72ZM339.46,63.08L340.66,65.30L338.26,65.30ZM339.54,93.65L340.74,95.87L338.34,95.87ZM337.07,61.49L338.27,63.71L335.87,63.71ZM339.39,136.04L340.59,138.26L338.19,138.26Z" fill="none" stroke="#b48a48" stroke-width="0.62"/>
<path d="M351.67,58.50V72.00M349.87,58.50H353.47M349.87,72.00H353.47" stroke="#3c3c3c" stroke-width="0.75" fill="none"/>
<path d="M346.87,65.20H356.47" stroke="#5a5a5a" stroke-width="0.9" fill="none"/>
<path d="M351.52,50.24L352.72,52.46L350.32,52.46ZM351.41,74.14L352.61,76.36L350.21,76.36ZM352.39,62.02L353.59,64.24L351.19,64.24ZM350.37,61.30L351.57,63.52L349.17,63.52ZM350.44,58.98L351.64,61.20L349.24,61.20ZM352.48,66.02L353.68,68.24L351.28,68.24ZM353.58,68.05L354.78,70.27L352.38,70.27ZM354.50,52.99L355.70,55.21L353.30,55.21ZM353.00,62.08L354.20,64.30L351.80,64.30ZM351.55,67.37L352.75,69.59L350.35,69.59ZM351.93,59.95L353.13,62.17L350.73,62.17ZM351.38,70.01L352.58,72.23L350.18,72.23ZM349.75,51.02L350.95,53.24L348.55,53.24ZM350.75,53.83L351.95,56.05L349.55,56.05ZM354.60,62.29L355.80,64.51L353.40,64.51ZM349.44,67.39L350.64,69.61L348.24,69.61ZM353.53,58.95L354.73,61.17L352.33,61.17ZM354.09,58.88L355.29,61.10L352.89,61.10ZM350.76,63.38L351.96,65.60L349.56,65.60ZM348.82,54.01L350.02,56.23L347.62,56.23ZM352.24,52.06L353.44,54.28L351.04,54.28ZM351.50,60.31L352.70,62.53L350.30,62.53ZM351.80,67.88L353.00,70.10L350.60,70.10ZM349.24,67.11L350.44,69.33L348.04,69.33ZM352.88,70.97L354.08,73.19L351.68,73.19ZM351.53,56.00L352.73,58.22L350.33,58.22ZM351.94,83.64L353.14,85.86L350.74,85.86Z" fill="none" stroke="#8c90d0" stroke-width="0.62"/>
<circle cx="351.67" cy="44.90" r="0.95" fill="#222"/>
<path d="M364.08,42.40V67.00M362.28,42.40H365.88M362.28,67.00H365.88" stroke="#3c3c3c" stroke-width="0.75" fill="none"/>
<path d="M359.28,54.40H368.88" stroke="#5a5a5a" stroke-width="0.9" fill="none"/>
<path d="M363.88,27.64L365.08,29.86L362.68,29.86ZM366.35,69.54L367.55,71.76L365.15,71.76ZM361.81,47.85L363.01,50.07L360.61,50.07ZM366.14,42.04L367.34,44.26L364.94,44.26ZM366.54,47.17L367.74,49.39L365.34,49.39ZM363.82,29.70L365.02,31.92L362.62,31.92ZM362.82,43.49L364.02,45.71L361.62,45.71ZM364.48,44.84L365.68,47.06L363.28,47.06ZM362.40,45.57L363.60,47.79L361.20,47.79ZM364.02,60.45L365.22,62.67L362.82,62.67ZM365.74,50.89L366.94,53.11L364.54,53.11ZM363.95,48.47L365.15,50.69L362.75,50.69ZM364.12,54.35L365.32,56.57L362.92,56.57ZM363.87,62.90L365.07,65.12L362.67,65.12ZM364.23,42.20L365.43,44.42L363.03,44.42ZM366.07,55.11L367.27,57.33L364.87,57.33ZM364.81,48.05L366.01,50.27L363.61,50.27ZM362.50,50.94L363.70,53.16L361.30,53.16ZM364.33,67.00L365.53,69.22L363.13,69.22ZM365.49,64.23L366.69,66.45L364.29,66.45ZM361.68,49.06L362.88,51.28L360.48,51.28ZM363.97,69.32L365.17,71.54L362.77,71.54ZM364.15,52.33L365.35,54.55L362.95,54.55ZM361.75,48.87L362.95,51.09L360.55,51.09ZM364.12,32.11L365.32,34.33L362.92,34.33ZM366.12,47.91L367.32,50.13L364.92,50.13ZM364.19,75.64L365.39,77.86L362.99,77.86ZM364.09,78.54L365.29,80.76L362.89,80.76Z" fill="none" stroke="#f0a6d6" stroke-width="0.62"/>
<circle cx="364.08" cy="20.80" r="0.95" fill="#222"/>
<path d="M376.49,69.30V82.50M374.69,69.30H378.29M374.69,82.50H378.29" stroke="#3c3c3c" stroke-width="0.75" fill="none"/>
<path d="M371.69,76.20H381.29" stroke="#5a5a5a" stroke-width="0.9" fill="none"/>
<path d="M376.29,59.54L377.49,61.76L375.09,61.76ZM376.33,88.04L377.53,90.26L375.13,90.26ZM378.39,73.08L379.59,75.30L377.19,75.30ZM376.99,76.28L378.19,78.50L375.79,78.50ZM378.67,67.36L379.87,69.58L377.47,69.58ZM375.33,83.83L376.53,86.05L374.13,86.05ZM376.28,78.89L377.48,81.11L375.08,81.11ZM374.30,68.53L375.50,70.75L373.10,70.75ZM376.72,70.12L377.92,72.34L375.52,72.34ZM376.67,62.48L377.87,64.70L375.47,64.70ZM378.42,73.48L379.62,75.70L377.22,75.70ZM376.48,73.52L377.68,75.74L375.28,75.74ZM374.99,77.41L376.19,79.63L373.79,79.63ZM378.68,83.66L379.88,85.88L377.48,85.88ZM375.05,77.85L376.25,80.07L373.85,80.07ZM378.34,77.52L379.54,79.74L377.14,79.74ZM376.56,82.61L377.76,84.83L375.36,84.83ZM376.21,73.57L377.41,75.79L375.01,75.79ZM378.32,87.49L379.52,89.71L377.12,89.71ZM373.70,74.06L374.90,76.28L372.50,76.28ZM376.78,76.35L377.98,78.57L375.58,78.57ZM376.77,68.20L377.97,70.42L375.57,70.42ZM375.49,75.18L376.69,77.40L374.29,77.40ZM374.33,77.38L375.53,79.60L373.13,79.60ZM379.29,76.32L380.49,78.54L378.09,78.54ZM373.64,82.55L374.84,84.77L372.44,84.77Z" fill="none" stroke="#ea4a4e" stroke-width="0.62"/>
<path d="M388.90,54.00V69.60M387.10,54.00H390.70M387.10,69.60H390.70" stroke="#3c3c3c" stroke-width="0.75" fill="none"/>
<path d="M384.10,62.20H393.70" stroke="#5a5a5a" stroke-width="0.9" fill="none"/>
<path d="M388.68,40.74L389.88,42.96L387.48,42.96ZM388.81,80.74L390.01,82.96L387.61,82.96ZM390.45,79.02L391.65,81.24L389.25,81.24ZM388.61,62.14L389.81,64.36L387.41,64.36ZM387.79,67.80L388.99,70.02L386.59,70.02ZM389.11,66.67L390.31,68.89L387.91,68.89ZM389.75,67.27L390.95,69.49L388.55,69.49ZM391.46,61.63L392.66,63.85L390.26,63.85ZM390.93,56.33L392.13,58.55L389.73,58.55ZM386.11,67.01L387.31,69.23L384.91,69.23ZM386.55,58.24L387.75,60.46L385.35,60.46ZM390.01,54.46L391.21,56.68L388.81,56.68ZM388.24,55.38L389.44,57.60L387.04,57.60ZM387.67,65.22L388.87,67.44L386.47,67.44ZM388.91,53.49L390.11,55.71L387.71,55.71ZM390.85,58.29L392.05,60.51L389.65,60.51ZM391.15,52.88L392.35,55.10L389.95,55.10ZM387.05,60.89L388.25,63.11L385.85,63.11ZM388.98,57.46L390.18,59.68L387.78,59.68ZM386.17,66.55L387.37,68.77L384.97,68.77ZM389.03,71.62L390.23,73.84L387.83,73.84ZM389.79,60.50L390.99,62.72L388.59,62.72ZM386.67,53.58L387.87,55.80L385.47,55.80ZM391.30,71.32L392.50,73.54L390.10,73.54ZM390.39,63.69L391.59,65.91L389.19,65.91ZM391.28,67.04L392.48,69.26L390.08,69.26Z" fill="none" stroke="#287e5c" stroke-width="0.62"/>
<circle cx="388.90" cy="35.00" r="0.95" fill="#222"/>
<path d="M401.31,69.90V81.50M399.51,69.90H403.11M399.51,81.50H403.11" stroke="#3c3c3c" stroke-width="0.75" fill="none"/>
<path d="M396.51,75.70H406.11" stroke="#5a5a5a" stroke-width="0.9" fill="none"/>
<path d="M400.13,65.20a1.05,1.05 0 1,0 2.1,0a1.05,1.05 0 1,0 -2.1,0M400.07,90.80a1.05,1.05 0 1,0 2.1,0a1.05,1.05 0 1,0 -2.1,0M401.88,79.21a1.05,1.05 0 1,0 2.1,0a1.05,1.05 0 1,0 -2.1,0M398.36,70.16a1.05,1.05 0 1,0 2.1,0a1.05,1.05 0 1,0 -2.1,0M400.48,69.28a1.05,1.05 0 1,0 2.1,0a1.05,1.05 0 1,0 -2.1,0M401.83,78.49a1.05,1.05 0 1,0 2.1,0a1.05,1.05 0 1,0 -2.1,0M399.29,69.77a1.05,1.05 0 1,0 2.1,0a1.05,1.05 0 1,0 -2.1,0M398.74,81.48a1.05,1.05 0 1,0 2.1,0a1.05,1.05 0 1,0 -2.1,0M402.26,73.07a1.05,1.05 0 1,0 2.1,0a1.05,1.05 0 1,0 -2.1,0M400.11,80.75a1.05,1.05 0 1,0 2.1,0a1.05,1.05 0 1,0 -2.1,0M397.47,72.77a1.05,1.05 0 1,0 2.1,0a1.05,1.05 0 1,0 -2.1,0M399.99,75.02a1.05,1.05 0 1,0 2.1,0a1.05,1.05 0 1,0 -2.1,0M401.79,70.93a1.05,1.05 0 1,0 2.1,0a1.05,1.05 0 1,0 -2.1,0M402.63,68.98a1.05,1.05 0 1,0 2.1,0a1.05,1.05 0 1,0 -2.1,0M401.42,68.76a1.05,1.05 0 1,0 2.1,0a1.05,1.05 0 1,0 -2.1,0M402.31,84.97a1.05,1.05 0 1,0 2.1,0a1.05,1.05 0 1,0 -2.1,0M397.56,79.48a1.05,1.05 0 1,0 2.1,0a1.05,1.05 0 1,0 -2.1,0M400.18,84.56a1.05,1.05 0 1,0 2.1,0a1.05,1.05 0 1,0 -2.1,0M402.46,80.83a1.05,1.05 0 1,0 2.1,0a1.05,1.05 0 1,0 -2.1,0M402.30,78.36a1.05,1.05 0 1,0 2.1,0a1.05,1.05 0 1,0 -2.1,0M402.54,79.07a1.05,1.05 0 1,0 2.1,0a1.05,1.05 0 1,0 -2.1,0M401.82,73.90a1.05,1.05 0 1,0 2.1,0a1.05,1.05 0 1,0 -2.1,0M397.97,79.86a1.05,1.05 0 1,0 2.1,0a1.05,1.05 0 1,0 -2.1,0M399.88,71.51a1.05,1.05 0 1,0 2.1,0a1.05,1.05 0 1,0 -2.1,0M399.97,72.33a1.05,1.05 0 1,0 2.1,0a1.05,1.05 0 1,0 -2.1,0M400.28,78.19a1.05,1.05 0 1,0 2.1,0a1.05,1.05 0 1,0 -2.1,0" fill="none" stroke="#f2c290" stroke-width="0.62"/>
<path d="M413.72,36.60V55.50M411.92,36.60H415.52M411.92,55.50H415.52" stroke="#3c3c3c" stroke-width="0.75" fill="none"/>
<path d="M408.92,46.00H418.52" stroke="#5a5a5a" stroke-width="0.9" fill="none"/>
<path d="M411.38,26.40h2.0v2.0h-2.0ZM412.83,68.30h2.0v2.0h-2.0ZM412.86,36.70h2.0v2.0h-2.0ZM412.53,34.07h2.0v2.0h-2.0ZM413.32,42.03h2.0v2.0h-2.0ZM412.78,66.10h2.0v2.0h-2.0ZM409.98,39.97h2.0v2.0h-2.0ZM411.14,40.27h2.0v2.0h-2.0ZM414.95,44.68h2.0v2.0h-2.0ZM411.58,43.26h2.0v2.0h-2.0ZM414.54,40.00h2.0v2.0h-2.0ZM411.21,49.20h2.0v2.0h-2.0ZM412.92,45.25h2.0v2.0h-2.0ZM412.74,27.69h2.0v2.0h-2.0ZM412.80,51.89h2.0v2.0h-2.0ZM413.81,28.56h2.0v2.0h-2.0ZM410.39,45.20h2.0v2.0h-2.0ZM409.63,30.13h2.0v2.0h-2.0ZM415.77,42.11h2.0v2.0h-2.0ZM412.25,29.79h2.0v2.0h-2.0ZM415.64,43.14h2.0v2.0h-2.0ZM412.46,40.39h2.0v2.0h-2.0ZM410.63,50.88h2.0v2.0h-2.0ZM414.79,49.71h2.0v2.0h-2.0ZM414.11,29.09h2.0v2.0h-2.0ZM412.85,48.65h2.0v2.0h-2.0Z" fill="#22e02a" fill-opacity="0.42" stroke="#22e02a" stroke-width="0.6"/>
<circle cx="413.72" cy="17.90" r="0.95" fill="#222"/>
<path d="M426.13,44.20V67.40M424.33,44.20H427.93M424.33,67.40H427.93" stroke="#3c3c3c" stroke-width="0.75" fill="none"/>
<path d="M421.33,55.90H430.93" stroke="#5a5a5a" stroke-width="0.9" fill="none"/>
<path d="M426.00,35.34L427.20,37.56L424.80,37.56ZM426.00,78.24L427.20,80.46L424.80,80.46ZM425.97,37.83L427.17,40.05L424.77,40.05ZM428.06,55.22L429.26,57.44L426.86,57.44ZM424.45,68.98L425.65,71.20L423.25,71.20ZM425.91,47.89L427.11,50.11L424.71,50.11ZM426.15,65.29L427.35,67.51L424.95,67.51ZM424.25,52.15L425.45,54.37L423.05,54.37ZM424.20,47.43L425.40,49.65L423.00,49.65ZM424.32,64.06L425.52,66.28L423.12,66.28ZM428.36,48.24L429.56,50.46L427.16,50.46ZM426.34,67.90L427.54,70.12L425.14,70.12ZM425.99,62.21L427.19,64.43L424.79,64.43ZM425.46,66.37L426.66,68.59L424.26,68.59ZM426.00,52.49L427.20,54.71L424.80,54.71ZM426.31,46.72L427.51,48.94L425.11,48.94ZM428.46,47.83L429.66,50.05L427.26,50.05ZM427.95,65.93L429.15,68.15L426.75,68.15ZM423.79,54.12L424.99,56.34L422.59,56.34ZM425.89,55.34L427.09,57.56L424.69,57.56ZM428.36,51.67L429.56,53.89L427.16,53.89ZM428.41,36.90L429.61,39.12L427.21,39.12ZM425.94,58.33L427.14,60.55L424.74,60.55ZM428.88,53.79L430.08,56.01L427.68,56.01ZM423.48,67.25L424.68,69.47L422.28,69.47ZM427.39,39.20L428.59,41.42L426.19,41.42Z" fill="none" stroke="#a2c4f4" stroke-width="0.62"/>
<circle cx="426.13" cy="29.20" r="0.95" fill="#222"/>
<path d="M438.54,80.10V94.10M436.74,80.10H440.34M436.74,94.10H440.34" stroke="#3c3c3c" stroke-width="0.75" fill="none"/>
<path d="M433.74,87.10H443.34" stroke="#5a5a5a" stroke-width="0.9" fill="none"/>
<path d="M438.76,73.44L439.96,75.66L437.56,75.66ZM438.24,103.04L439.44,105.26L437.04,105.26ZM436.65,85.03L437.85,87.25L435.45,87.25ZM440.51,92.59L441.71,94.81L439.31,94.81ZM438.35,93.32L439.55,95.54L437.15,95.54ZM438.38,87.09L439.58,89.31L437.18,89.31ZM438.46,80.82L439.66,83.04L437.26,83.04ZM436.85,88.73L438.05,90.95L435.65,90.95ZM440.04,83.74L441.24,85.96L438.84,85.96ZM438.71,91.75L439.91,93.97L437.51,93.97ZM437.92,83.16L439.12,85.38L436.72,85.38ZM438.64,99.25L439.84,101.47L437.44,101.47ZM438.65,89.97L439.85,92.19L437.45,92.19ZM438.42,76.82L439.62,79.04L437.22,79.04ZM440.25,93.19L441.45,95.41L439.05,95.41ZM437.00,93.58L438.20,95.80L435.80,95.80ZM440.79,83.55L441.99,85.77L439.59,85.77ZM436.49,91.86L437.69,94.08L435.29,94.08ZM436.45,98.98L437.65,101.20L435.25,101.20ZM438.82,92.78L440.02,95.00L437.62,95.00ZM438.58,84.17L439.78,86.39L437.38,86.39ZM440.53,102.47L441.73,104.69L439.33,104.69ZM440.90,100.24L442.10,102.46L439.70,102.46ZM437.18,82.86L438.38,85.08L435.98,85.08ZM440.71,79.87L441.91,82.09L439.51,82.09ZM440.40,87.58L441.60,89.80L439.20,89.80Z" fill="none" stroke="#c8c444" stroke-width="0.62"/>
<path d="M256.5,16.5V143.4H447.6" stroke="#8c8c8c" stroke-width="1" fill="none"/>
<path d="M254.1,16.8H256.5M254.1,37.9H256.5M254.1,59.0H256.5M254.1,80.1H256.5M254.1,101.2H256.5M254.1,122.3H256.5M254.1,143.4H256.5" stroke="#8c8c8c" stroke-width="0.8" fill="none"/>
<text x="253.30" y="19.14" text-anchor="end" font-size="6.7" fill="#262626" class="r">23</text>
<text x="253.30" y="40.24" text-anchor="end" font-size="6.7" fill="#262626" class="r">20</text>
<text x="253.30" y="61.34" text-anchor="end" font-size="6.7" fill="#262626" class="r">17</text>
<text x="253.30" y="82.44" text-anchor="end" font-size="6.7" fill="#262626" class="r">14</text>
<text x="253.30" y="103.55" text-anchor="end" font-size="6.7" fill="#262626" class="r">11</text>
<text x="253.30" y="124.64" text-anchor="end" font-size="6.7" fill="#262626" class="r">8</text>
<text x="253.30" y="145.75" text-anchor="end" font-size="6.7" fill="#262626" class="r">5</text>
<path d="M264.80,143.4v2.6M277.21,143.4v2.6M289.62,143.4v2.6M302.03,143.4v2.6M314.44,143.4v2.6M326.85,143.4v2.6M339.26,143.4v2.6M351.67,143.4v2.6M364.08,143.4v2.6M376.49,143.4v2.6M388.90,143.4v2.6M401.31,143.4v2.6M413.72,143.4v2.6M426.13,143.4v2.6M438.54,143.4v2.6" stroke="#8c8c8c" stroke-width="0.8" fill="none"/>
<text x="264.80" y="152.8" text-anchor="middle" font-size="6.7" fill="#262626" class="r">RO</text>
<text x="277.21" y="152.8" text-anchor="middle" font-size="6.7" fill="#262626" class="r">CE</text>
<text x="289.62" y="152.8" text-anchor="middle" font-size="6.7" fill="#262626" class="r">AY</text>
<text x="302.03" y="152.8" text-anchor="middle" font-size="6.7" fill="#262626" class="r">SH</text>
<text x="314.44" y="152.8" text-anchor="middle" font-size="6.7" fill="#262626" class="r">PR</text>
<text x="326.85" y="152.8" text-anchor="middle" font-size="6.7" fill="#262626" class="r">PN</text>
<text x="339.26" y="152.8" text-anchor="middle" font-size="6.7" fill="#262626" class="r">VA</text>
<text x="351.67" y="152.8" text-anchor="middle" font-size="6.7" fill="#262626" class="r">TA</text>
<text x="364.08" y="152.8" text-anchor="middle" font-size="6.7" fill="#262626" class="r">ML</text>
<text x="376.49" y="152.8" text-anchor="middle" font-size="6.7" fill="#262626" class="r">LO</text>
<text x="388.90" y="152.8" text-anchor="middle" font-size="6.7" fill="#262626" class="r">SB</text>
<text x="401.31" y="152.8" text-anchor="middle" font-size="6.7" fill="#262626" class="r">MT</text>
<text x="413.72" y="152.8" text-anchor="middle" font-size="6.7" fill="#262626" class="r">LC</text>
<text x="426.13" y="152.8" text-anchor="middle" font-size="6.7" fill="#262626" class="r">SS</text>
<text x="438.54" y="152.8" text-anchor="middle" font-size="6.7" fill="#262626" class="r">PL</text>
<text x="329.84" y="5.90" font-size="6.3" font-weight="bold" fill="#111" class="b" textLength="44.23" lengthAdjust="spacingAndGlyphs">(B) β-Esterase</text>
<text x="333.21" y="165.20" font-size="6.7" font-weight="bold" fill="#111" class="b" textLength="37.42" lengthAdjust="spacingAndGlyphs">Populations</text>
<text transform="rotate(-90)" x="-104.96" y="242.80" font-size="6.3" font-weight="bold" fill="#111" class="b" textLength="51.89" lengthAdjust="spacingAndGlyphs">nmol/mg ptn/min</text>
<line x1="493" y1="75.5" x2="685" y2="75.5" stroke="#8a8a8a" stroke-width="1" stroke-dasharray="1 1"/>
<path d="M500.90,79.80V96.60M499.10,79.80H502.70M499.10,96.60H502.70" stroke="#3c3c3c" stroke-width="0.75" fill="none"/>
<path d="M496.10,88.30H505.70" stroke="#5a5a5a" stroke-width="0.9" fill="none"/>
<path d="M500.70,73.44L501.90,75.66L499.50,75.66ZM501.05,101.74L502.25,103.96L499.85,103.96ZM502.97,86.87L504.17,89.09L501.77,89.09ZM503.18,88.29L504.38,90.51L501.98,90.51ZM500.83,86.56L502.03,88.78L499.63,88.78ZM501.11,89.65L502.31,91.87L499.91,91.87ZM502.81,78.90L504.01,81.12L501.61,81.12ZM501.16,79.65L502.36,81.87L499.96,81.87ZM500.47,77.96L501.67,80.18L499.27,80.18ZM500.60,78.39L501.80,80.61L499.40,80.61ZM498.47,88.66L499.67,90.88L497.27,90.88ZM502.85,84.39L504.05,86.61L501.65,86.61ZM500.11,78.32L501.31,80.54L498.91,80.54ZM503.11,78.60L504.31,80.82L501.91,80.82ZM500.16,88.66L501.36,90.88L498.96,90.88ZM497.93,77.14L499.13,79.36L496.73,79.36ZM500.85,80.17L502.05,82.39L499.65,82.39ZM499.80,85.24L501.00,87.46L498.60,87.46ZM502.83,89.06L504.03,91.28L501.63,91.28ZM503.73,89.31L504.93,91.53L502.53,91.53ZM499.06,80.21L500.26,82.43L497.86,82.43ZM501.37,76.37L502.57,78.59L500.17,78.59ZM501.70,77.23L502.90,79.45L500.50,79.45ZM498.66,84.85L499.86,87.07L497.46,87.07ZM500.64,83.82L501.84,86.04L499.44,86.04ZM498.85,88.79L500.05,91.01L497.65,91.01ZM498.55,87.00L499.75,89.22L497.35,89.22ZM503.48,88.25L504.68,90.47L502.28,90.47ZM499.94,77.65L501.14,79.87L498.74,79.87ZM497.93,77.31L499.13,79.53L496.73,79.53ZM498.50,82.79L499.70,85.01L497.30,85.01ZM498.90,84.94L500.10,87.16L497.70,87.16ZM501.13,115.94L502.33,118.16L499.93,118.16Z" fill="#1818ee" fill-opacity="0.42" stroke="#1818ee" stroke-width="0.6"/>
<path d="M513.37,78.40V106.40M511.57,78.40H515.17M511.57,106.40H515.17" stroke="#3c3c3c" stroke-width="0.75" fill="none"/>
<path d="M508.57,92.70H518.17" stroke="#5a5a5a" stroke-width="0.9" fill="none"/>
<path d="M513.19,73.04L514.39,75.26L511.99,75.26ZM513.12,108.34L514.32,110.56L511.92,110.56ZM511.81,90.81L513.01,93.03L510.61,93.03ZM515.21,97.29L516.41,99.51L514.01,99.51ZM513.16,84.36L514.36,86.58L511.96,86.58ZM513.49,81.71L514.69,83.93L512.29,83.93ZM515.31,102.76L516.51,104.98L514.11,104.98ZM515.06,85.83L516.26,88.05L513.86,88.05ZM513.29,102.78L514.49,105.00L512.09,105.00ZM510.99,88.88L512.19,91.10L509.79,91.10ZM513.15,76.70L514.35,78.92L511.95,78.92ZM510.87,94.14L512.07,96.36L509.67,96.36ZM513.52,89.65L514.72,91.87L512.32,91.87ZM513.27,105.47L514.47,107.69L512.07,107.69ZM511.30,89.48L512.50,91.70L510.10,91.70ZM510.98,75.83L512.18,78.05L509.78,78.05ZM513.13,96.54L514.33,98.76L511.93,98.76ZM512.57,93.66L513.77,95.88L511.37,95.88ZM511.55,95.95L512.75,98.17L510.35,98.17ZM515.46,90.37L516.66,92.59L514.26,92.59ZM515.70,81.39L516.90,83.61L514.50,83.61ZM514.58,95.02L515.78,97.24L513.38,97.24ZM514.89,75.39L516.09,77.61L513.69,77.61ZM516.16,93.59L517.36,95.81L514.96,95.81ZM513.19,98.77L514.39,100.99L511.99,100.99ZM513.40,89.72L514.60,91.94L512.20,91.94ZM513.35,34.94L514.55,37.16L512.15,37.16ZM513.46,115.64L514.66,117.86L512.26,117.86Z" fill="none" stroke="#3cc494" stroke-width="0.62"/>
<path d="M525.84,92.00V109.00M524.04,92.00H527.64M524.04,109.00H527.64" stroke="#3c3c3c" stroke-width="0.75" fill="none"/>
<path d="M521.04,100.40H530.64" stroke="#5a5a5a" stroke-width="0.9" fill="none"/>
<path d="M526.00,74.10L527.04,75.40L526.00,76.70L524.96,75.40ZM524.58,111.90L525.62,113.20L524.58,114.50L523.54,113.20ZM527.82,109.72L528.86,111.02L527.82,112.32L526.78,111.02ZM525.59,85.02L526.63,86.32L525.59,87.62L524.55,86.32ZM528.08,84.94L529.12,86.24L528.08,87.54L527.04,86.24ZM525.73,97.78L526.77,99.08L525.73,100.38L524.69,99.08ZM524.44,107.07L525.48,108.37L524.44,109.67L523.40,108.37ZM523.98,103.04L525.02,104.34L523.98,105.64L522.94,104.34ZM525.76,104.14L526.80,105.44L525.76,106.74L524.72,105.44ZM523.61,95.82L524.65,97.12L523.61,98.42L522.57,97.12ZM526.01,94.60L527.05,95.90L526.01,97.20L524.97,95.90ZM525.05,103.09L526.09,104.39L525.05,105.69L524.01,104.39ZM524.71,92.70L525.75,94.00L524.71,95.30L523.67,94.00ZM528.00,108.23L529.04,109.53L528.00,110.83L526.96,109.53ZM523.80,104.98L524.84,106.28L523.80,107.58L522.76,106.28ZM528.13,99.96L529.17,101.26L528.13,102.56L527.09,101.26ZM527.73,95.94L528.77,97.24L527.73,98.54L526.69,97.24ZM526.08,110.43L527.12,111.73L526.08,113.03L525.04,111.73ZM523.87,100.28L524.91,101.58L523.87,102.88L522.83,101.58ZM524.16,89.70L525.20,91.00L524.16,92.30L523.12,91.00ZM526.01,95.17L527.05,96.47L526.01,97.77L524.97,96.47ZM526.05,88.58L527.09,89.88L526.05,91.18L525.01,89.88ZM527.17,105.48L528.21,106.78L527.17,108.08L526.13,106.78ZM527.25,93.66L528.29,94.96L527.25,96.26L526.21,94.96ZM525.82,100.17L526.86,101.47L525.82,102.77L524.78,101.47ZM527.14,103.17L528.18,104.47L527.14,105.77L526.10,104.47ZM525.92,108.26L526.96,109.56L525.92,110.86L524.88,109.56ZM526.05,91.57L527.09,92.87L526.05,94.17L525.01,92.87ZM525.66,104.36L526.70,105.66L525.66,106.96L524.62,105.66ZM523.45,97.73L524.49,99.03L523.45,100.33L522.41,99.03ZM525.76,115.60L526.80,116.90L525.76,118.20L524.72,116.90Z" fill="none" stroke="#b03838" stroke-width="0.62"/>
<circle cx="525.84" cy="62.90" r="0.95" fill="#222"/>
<path d="M538.31,88.30V116.00M536.51,88.30H540.11M536.51,116.00H540.11" stroke="#3c3c3c" stroke-width="0.75" fill="none"/>
<path d="M533.51,102.10H543.11" stroke="#5a5a5a" stroke-width="0.9" fill="none"/>
<path d="M538.42,81.40L539.46,82.70L538.42,84.00L537.38,82.70ZM540.93,117.10L541.97,118.40L540.93,119.70L539.89,118.40ZM540.31,102.18L541.35,103.48L540.31,104.78L539.27,103.48ZM540.69,114.51L541.73,115.81L540.69,117.11L539.65,115.81ZM538.20,108.84L539.24,110.14L538.20,111.44L537.16,110.14ZM537.63,101.54L538.67,102.84L537.63,104.14L536.59,102.84ZM538.21,102.16L539.25,103.46L538.21,104.76L537.17,103.46ZM538.34,107.93L539.38,109.23L538.34,110.53L537.30,109.23ZM538.47,100.10L539.51,101.40L538.47,102.70L537.43,101.40ZM538.54,109.90L539.58,111.20L538.54,112.50L537.50,111.20ZM536.28,113.08L537.32,114.38L536.28,115.68L535.24,114.38ZM536.20,110.29L537.24,111.59L536.20,112.89L535.16,111.59ZM540.17,97.64L541.21,98.94L540.17,100.24L539.13,98.94ZM538.43,115.25L539.47,116.55L538.43,117.85L537.39,116.55ZM538.07,105.22L539.11,106.52L538.07,107.82L537.03,106.52ZM536.14,116.08L537.18,117.38L536.14,118.68L535.10,117.38ZM540.56,108.93L541.60,110.23L540.56,111.53L539.52,110.23ZM539.61,104.16L540.65,105.46L539.61,106.76L538.57,105.46ZM538.59,91.89L539.63,93.19L538.59,94.49L537.55,93.19ZM540.51,99.57L541.55,100.87L540.51,102.17L539.47,100.87ZM536.10,108.26L537.14,109.56L536.10,110.86L535.06,109.56ZM538.28,112.20L539.32,113.50L538.28,114.80L537.24,113.50ZM539.51,115.51L540.55,116.81L539.51,118.11L538.47,116.81ZM538.23,98.09L539.27,99.39L538.23,100.69L537.19,99.39ZM536.08,100.58L537.12,101.88L536.08,103.18L535.04,101.88ZM536.41,103.13L537.45,104.43L536.41,105.73L535.37,104.43ZM538.46,61.70L539.50,63.00L538.46,64.30L537.42,63.00ZM538.09,72.40L539.13,73.70L538.09,75.00L537.05,73.70Z" fill="#b23ee6" fill-opacity="0.42" stroke="#b23ee6" stroke-width="0.6"/>
<circle cx="538.31" cy="51.80" r="0.95" fill="#222"/>
<path d="M550.78,85.40V121.00M548.98,85.40H552.58M548.98,121.00H552.58" stroke="#3c3c3c" stroke-width="0.75" fill="none"/>
<path d="M545.98,103.10H555.58" stroke="#5a5a5a" stroke-width="0.9" fill="none"/>
<path d="M550.99,77.70L552.03,79.00L550.99,80.30L549.95,79.00ZM552.81,121.40L553.85,122.70L552.81,124.00L551.77,122.70ZM548.07,113.49L549.11,114.79L548.07,116.09L547.03,114.79ZM550.91,98.92L551.95,100.22L550.91,101.52L549.87,100.22ZM552.98,116.99L554.02,118.29L552.98,119.59L551.94,118.29ZM551.23,93.28L552.27,94.58L551.23,95.88L550.19,94.58ZM548.70,98.74L549.74,100.04L548.70,101.34L547.66,100.04ZM547.76,102.47L548.80,103.77L547.76,105.07L546.72,103.77ZM550.91,95.10L551.95,96.40L550.91,97.70L549.87,96.40ZM549.80,103.79L550.84,105.09L549.80,106.39L548.76,105.09ZM552.69,109.14L553.73,110.44L552.69,111.74L551.65,110.44ZM550.85,114.01L551.89,115.31L550.85,116.61L549.81,115.31ZM548.23,102.83L549.27,104.13L548.23,105.43L547.19,104.13ZM551.04,101.40L552.08,102.70L551.04,104.00L550.00,102.70ZM548.92,115.29L549.96,116.59L548.92,117.89L547.88,116.59ZM550.97,107.26L552.01,108.56L550.97,109.86L549.93,108.56ZM549.93,91.65L550.97,92.95L549.93,94.25L548.89,92.95ZM550.88,117.25L551.92,118.55L550.88,119.85L549.84,118.55ZM549.51,115.91L550.55,117.21L549.51,118.51L548.47,117.21ZM552.93,98.69L553.97,99.99L552.93,101.29L551.89,99.99ZM548.90,116.44L549.94,117.74L548.90,119.04L547.86,117.74ZM552.01,102.99L553.05,104.29L552.01,105.59L550.97,104.29ZM552.97,114.90L554.01,116.20L552.97,117.50L551.93,116.20ZM551.93,99.84L552.97,101.14L551.93,102.44L550.89,101.14ZM550.77,120.77L551.81,122.07L550.77,123.37L549.73,122.07ZM550.59,86.99L551.63,88.29L550.59,89.59L549.55,88.29ZM548.25,103.79L549.29,105.09L548.25,106.39L547.21,105.09ZM550.84,109.61L551.88,110.91L550.84,112.21L549.80,110.91ZM550.59,56.30L551.63,57.60L550.59,58.90L549.55,57.60ZM550.61,68.30L551.65,69.60L550.61,70.90L549.57,69.60ZM551.00,126.50L552.04,127.80L551.00,129.10L549.96,127.80Z" fill="#f29022" fill-opacity="0.42" stroke="#f29022" stroke-width="0.6"/>
<circle cx="550.78" cy="44.20" r="0.95" fill="#222"/>
<path d="M563.25,88.90V111.40M561.45,88.90H565.05M561.45,111.40H565.05" stroke="#3c3c3c" stroke-width="0.75" fill="none"/>
<path d="M558.45,100.40H568.05" stroke="#5a5a5a" stroke-width="0.9" fill="none"/>
<path d="M563.48,77.14L564.68,79.36L562.28,79.36ZM564.14,116.34L565.34,118.56L562.94,118.56ZM562.61,101.21L563.81,103.43L561.41,103.43ZM563.31,93.04L564.51,95.26L562.11,95.26ZM565.09,93.46L566.29,95.68L563.89,95.68ZM563.37,93.10L564.57,95.32L562.17,95.32ZM561.45,106.31L562.65,108.53L560.25,108.53ZM563.26,101.68L564.46,103.90L562.06,103.90ZM565.44,99.16L566.64,101.38L564.24,101.38ZM561.01,93.49L562.21,95.71L559.81,95.71ZM565.25,104.89L566.45,107.11L564.05,107.11ZM561.76,94.51L562.96,96.73L560.56,96.73ZM563.55,107.06L564.75,109.28L562.35,109.28ZM565.20,102.55L566.40,104.77L564.00,104.77ZM565.31,107.98L566.51,110.20L564.11,110.20ZM565.39,113.37L566.59,115.59L564.19,115.59ZM563.08,112.36L564.28,114.58L561.88,114.58ZM563.41,103.99L564.61,106.21L562.21,106.21ZM560.53,102.35L561.73,104.57L559.33,104.57ZM563.07,100.59L564.27,102.81L561.87,102.81ZM561.90,93.96L563.10,96.18L560.70,96.18ZM564.00,95.44L565.20,97.66L562.80,97.66ZM563.21,114.54L564.41,116.76L562.01,116.76ZM561.44,99.67L562.64,101.89L560.24,101.89ZM565.98,95.53L567.18,97.75L564.78,97.75ZM563.05,98.38L564.25,100.60L561.85,100.60ZM563.10,63.04L564.30,65.26L561.90,65.26Z" fill="#e6409e" fill-opacity="0.42" stroke="#e6409e" stroke-width="0.6"/>
<circle cx="563.25" cy="54.10" r="0.95" fill="#222"/>
<path d="M575.72,56.50V102.20M573.92,56.50H577.52M573.92,102.20H577.52" stroke="#3c3c3c" stroke-width="0.75" fill="none"/>
<path d="M570.92,79.10H580.52" stroke="#5a5a5a" stroke-width="0.9" fill="none"/>
<path d="M575.72,55.74L576.92,57.96L574.52,57.96ZM577.67,111.94L578.87,114.16L576.47,114.16ZM577.79,56.99L578.99,59.21L576.59,59.21ZM575.59,58.71L576.79,60.93L574.39,60.93ZM575.95,61.17L577.15,63.39L574.75,63.39ZM575.50,64.42L576.70,66.64L574.30,66.64ZM576.83,68.51L578.03,70.73L575.63,70.73ZM575.66,69.81L576.86,72.03L574.46,72.03ZM575.50,72.34L576.70,74.56L574.30,74.56ZM575.80,74.77L577.00,76.99L574.60,76.99ZM577.12,78.16L578.32,80.38L575.92,80.38ZM575.76,79.64L576.96,81.86L574.56,81.86ZM575.44,82.28L576.64,84.50L574.24,84.50ZM575.88,84.70L577.08,86.92L574.68,86.92ZM575.53,87.86L576.73,90.08L574.33,90.08ZM575.88,90.17L577.08,92.39L574.68,92.39ZM575.77,93.04L576.97,95.26L574.57,95.26ZM575.95,96.45L577.15,98.67L574.75,98.67ZM574.25,97.49L575.45,99.71L573.05,99.71ZM575.42,100.76L576.62,102.98L574.22,102.98ZM575.92,104.26L577.12,106.48L574.72,106.48ZM575.50,106.17L576.70,108.39L574.30,108.39ZM576.00,108.99L577.20,111.21L574.80,111.21ZM575.43,111.46L576.63,113.68L574.23,113.68ZM575.58,18.14L576.78,20.36L574.38,20.36ZM575.53,33.44L576.73,35.66L574.33,35.66ZM575.92,37.14L577.12,39.36L574.72,39.36ZM575.93,42.24L577.13,44.46L574.73,44.46Z" fill="none" stroke="#b48a48" stroke-width="0.62"/>
<path d="M588.19,75.10V102.10M586.39,75.10H589.99M586.39,102.10H589.99" stroke="#3c3c3c" stroke-width="0.75" fill="none"/>
<path d="M583.39,88.30H592.99" stroke="#5a5a5a" stroke-width="0.9" fill="none"/>
<path d="M588.33,56.34L589.53,58.56L587.13,58.56ZM588.41,110.74L589.61,112.96L587.21,112.96ZM587.91,61.63L589.11,63.85L586.71,63.85ZM590.33,81.84L591.53,84.06L589.13,84.06ZM589.93,82.97L591.13,85.19L588.73,85.19ZM587.06,98.42L588.26,100.64L585.86,100.64ZM588.21,82.42L589.41,84.64L587.01,84.64ZM588.03,89.79L589.23,92.01L586.83,92.01ZM585.67,99.80L586.87,102.02L584.47,102.02ZM585.81,83.13L587.01,85.35L584.61,85.35ZM590.51,88.95L591.71,91.17L589.31,91.17ZM588.29,87.57L589.49,89.79L587.09,89.79ZM588.40,75.10L589.60,77.32L587.20,77.32ZM588.16,96.95L589.36,99.17L586.96,99.17ZM589.16,71.26L590.36,73.48L587.96,73.48ZM590.25,99.23L591.45,101.45L589.05,101.45ZM589.73,62.65L590.93,64.87L588.53,64.87ZM588.28,82.73L589.48,84.95L587.08,84.95ZM588.12,100.36L589.32,102.58L586.92,102.58ZM587.92,72.98L589.12,75.20L586.72,75.20ZM587.99,80.15L589.19,82.37L586.79,82.37ZM587.01,86.23L588.21,88.45L585.81,88.45ZM588.36,68.06L589.56,70.28L587.16,70.28ZM588.08,78.01L589.28,80.23L586.88,80.23Z" fill="none" stroke="#8c90d0" stroke-width="0.62"/>
<path d="M600.66,88.30V104.50M598.86,88.30H602.46M598.86,104.50H602.46" stroke="#3c3c3c" stroke-width="0.75" fill="none"/>
<path d="M595.86,96.20H605.46" stroke="#5a5a5a" stroke-width="0.9" fill="none"/>
<path d="M600.53,76.34L601.73,78.56L599.33,78.56ZM600.62,111.94L601.82,114.16L599.42,114.16ZM597.86,86.00L599.06,88.22L596.66,88.22ZM602.10,89.16L603.30,91.38L600.90,91.38ZM600.89,88.77L602.09,90.99L599.69,90.99ZM599.52,87.13L600.72,89.35L598.32,89.35ZM599.05,102.11L600.25,104.33L597.85,104.33ZM602.48,99.75L603.68,101.97L601.28,101.97ZM599.25,97.41L600.45,99.63L598.05,99.63ZM601.39,97.86L602.59,100.08L600.19,100.08ZM599.32,90.25L600.52,92.47L598.12,92.47ZM602.68,92.67L603.88,94.89L601.48,94.89ZM600.37,103.44L601.57,105.66L599.17,105.66ZM601.26,101.39L602.46,103.61L600.06,103.61ZM600.95,86.01L602.15,88.23L599.75,88.23ZM600.49,91.76L601.69,93.98L599.29,93.98ZM597.98,99.23L599.18,101.45L596.78,101.45ZM602.32,95.62L603.52,97.84L601.12,97.84ZM598.37,92.09L599.57,94.31L597.17,94.31ZM600.59,94.22L601.79,96.44L599.39,96.44ZM601.53,100.67L602.73,102.89L600.33,102.89ZM600.40,99.64L601.60,101.86L599.20,101.86ZM600.42,107.93L601.62,110.15L599.22,110.15ZM602.27,90.31L603.47,92.53L601.07,92.53ZM600.60,105.69L601.80,107.91L599.40,107.91ZM603.72,85.76L604.92,87.98L602.52,87.98Z" fill="none" stroke="#f0a6d6" stroke-width="0.62"/>
<path d="M613.13,94.10V111.80M611.33,94.10H614.93M611.33,111.80H614.93" stroke="#3c3c3c" stroke-width="0.75" fill="none"/>
<path d="M608.33,103.40H617.93" stroke="#5a5a5a" stroke-width="0.9" fill="none"/>
<path d="M613.10,80.04L614.30,82.26L611.90,82.26ZM612.86,118.54L614.06,120.76L611.66,120.76ZM615.50,86.77L616.70,88.99L614.30,88.99ZM613.16,89.90L614.36,92.12L611.96,92.12ZM615.51,107.55L616.71,109.77L614.31,109.77ZM613.34,106.72L614.54,108.94L612.14,108.94ZM611.29,99.09L612.49,101.31L610.09,101.31ZM611.96,91.72L613.16,93.94L610.76,93.94ZM613.06,113.31L614.26,115.53L611.86,115.53ZM612.98,101.57L614.18,103.79L611.78,103.79ZM613.28,96.67L614.48,98.89L612.08,98.89ZM612.14,108.42L613.34,110.64L610.94,110.64ZM613.25,86.71L614.45,88.93L612.05,88.93ZM614.60,103.02L615.80,105.24L613.40,105.24ZM614.14,102.72L615.34,104.94L612.94,104.94ZM615.22,92.63L616.42,94.85L614.02,94.85ZM613.30,93.33L614.50,95.55L612.10,95.55ZM612.02,110.59L613.22,112.81L610.82,112.81ZM611.03,106.20L612.23,108.42L609.83,108.42ZM613.96,111.51L615.16,113.73L612.76,113.73ZM611.09,101.18L612.29,103.40L609.89,103.40ZM612.63,103.54L613.83,105.76L611.43,105.76ZM615.24,100.53L616.44,102.75L614.04,102.75ZM610.78,98.70L611.98,100.92L609.58,100.92ZM613.23,98.69L614.43,100.91L612.03,100.91ZM614.94,113.64L616.14,115.86L613.74,115.86Z" fill="none" stroke="#ea4a4e" stroke-width="0.62"/>
<circle cx="613.13" cy="68.10" r="0.95" fill="#222"/>
<path d="M625.60,85.70V114.00M623.80,85.70H627.40M623.80,114.00H627.40" stroke="#3c3c3c" stroke-width="0.75" fill="none"/>
<path d="M620.80,98.70H630.40" stroke="#5a5a5a" stroke-width="0.9" fill="none"/>
<path d="M624.13,83.74L625.33,85.96L622.93,85.96ZM625.83,119.74L627.03,121.96L624.63,121.96ZM627.42,100.73L628.62,102.95L626.22,102.95ZM625.37,107.28L626.57,109.50L624.17,109.50ZM623.78,108.98L624.98,111.20L622.58,111.20ZM625.78,84.91L626.98,87.13L624.58,87.13ZM625.35,100.33L626.55,102.55L624.15,102.55ZM626.76,117.74L627.96,119.96L625.56,119.96ZM625.33,92.38L626.53,94.60L624.13,94.60ZM623.54,105.97L624.74,108.19L622.34,108.19ZM625.66,105.85L626.86,108.07L624.46,108.07ZM625.46,95.33L626.66,97.55L624.26,97.55ZM625.56,104.01L626.76,106.23L624.36,106.23ZM626.84,96.90L628.04,99.12L625.64,99.12ZM624.42,90.41L625.62,92.63L623.22,92.63ZM628.00,110.32L629.20,112.54L626.80,112.54ZM625.71,116.14L626.91,118.36L624.51,118.36ZM625.32,88.67L626.52,90.89L624.12,90.89ZM627.22,90.86L628.42,93.08L626.02,93.08ZM623.96,114.85L625.16,117.07L622.76,117.07ZM627.70,107.20L628.90,109.42L626.50,109.42ZM624.62,106.24L625.82,108.46L623.42,108.46ZM626.92,102.48L628.12,104.70L625.72,104.70ZM625.55,109.41L626.75,111.63L624.35,111.63ZM623.39,102.82L624.59,105.04L622.19,105.04ZM625.68,112.38L626.88,114.60L624.48,114.60ZM625.45,47.74L626.65,49.96L624.25,49.96ZM625.67,130.24L626.87,132.46L624.47,132.46Z" fill="none" stroke="#287e5c" stroke-width="0.62"/>
<circle cx="625.60" cy="39.80" r="0.95" fill="#222"/>
<path d="M638.07,84.20V103.40M636.27,84.20H639.87M636.27,103.40H639.87" stroke="#3c3c3c" stroke-width="0.75" fill="none"/>
<path d="M633.27,94.10H642.87" stroke="#5a5a5a" stroke-width="0.9" fill="none"/>
<path d="M637.02,78.40a1.05,1.05 0 1,0 2.1,0a1.05,1.05 0 1,0 -2.1,0M638.54,112.20a1.05,1.05 0 1,0 2.1,0a1.05,1.05 0 1,0 -2.1,0M638.11,94.77a1.05,1.05 0 1,0 2.1,0a1.05,1.05 0 1,0 -2.1,0M636.53,95.31a1.05,1.05 0 1,0 2.1,0a1.05,1.05 0 1,0 -2.1,0M635.40,94.97a1.05,1.05 0 1,0 2.1,0a1.05,1.05 0 1,0 -2.1,0M639.02,86.32a1.05,1.05 0 1,0 2.1,0a1.05,1.05 0 1,0 -2.1,0M635.08,99.38a1.05,1.05 0 1,0 2.1,0a1.05,1.05 0 1,0 -2.1,0M637.01,110.55a1.05,1.05 0 1,0 2.1,0a1.05,1.05 0 1,0 -2.1,0M637.12,103.68a1.05,1.05 0 1,0 2.1,0a1.05,1.05 0 1,0 -2.1,0M636.43,99.79a1.05,1.05 0 1,0 2.1,0a1.05,1.05 0 1,0 -2.1,0M636.85,87.09a1.05,1.05 0 1,0 2.1,0a1.05,1.05 0 1,0 -2.1,0M636.95,85.03a1.05,1.05 0 1,0 2.1,0a1.05,1.05 0 1,0 -2.1,0M638.99,88.53a1.05,1.05 0 1,0 2.1,0a1.05,1.05 0 1,0 -2.1,0M637.84,91.74a1.05,1.05 0 1,0 2.1,0a1.05,1.05 0 1,0 -2.1,0M639.02,97.65a1.05,1.05 0 1,0 2.1,0a1.05,1.05 0 1,0 -2.1,0M637.01,100.30a1.05,1.05 0 1,0 2.1,0a1.05,1.05 0 1,0 -2.1,0M634.15,89.44a1.05,1.05 0 1,0 2.1,0a1.05,1.05 0 1,0 -2.1,0M636.79,89.38a1.05,1.05 0 1,0 2.1,0a1.05,1.05 0 1,0 -2.1,0M640.04,93.28a1.05,1.05 0 1,0 2.1,0a1.05,1.05 0 1,0 -2.1,0M639.25,103.38a1.05,1.05 0 1,0 2.1,0a1.05,1.05 0 1,0 -2.1,0M636.93,98.31a1.05,1.05 0 1,0 2.1,0a1.05,1.05 0 1,0 -2.1,0M637.09,93.56a1.05,1.05 0 1,0 2.1,0a1.05,1.05 0 1,0 -2.1,0M634.25,98.52a1.05,1.05 0 1,0 2.1,0a1.05,1.05 0 1,0 -2.1,0M634.36,93.38a1.05,1.05 0 1,0 2.1,0a1.05,1.05 0 1,0 -2.1,0M638.38,94.95a1.05,1.05 0 1,0 2.1,0a1.05,1.05 0 1,0 -2.1,0M639.19,99.55a1.05,1.05 0 1,0 2.1,0a1.05,1.05 0 1,0 -2.1,0" fill="none" stroke="#f2c290" stroke-width="0.62"/>
<path d="M650.54,92.20V109.60M648.74,92.20H652.34M648.74,109.60H652.34" stroke="#3c3c3c" stroke-width="0.75" fill="none"/>
<path d="M645.74,100.40H655.34" stroke="#5a5a5a" stroke-width="0.9" fill="none"/>
<path d="M649.65,85.40h2.0v2.0h-2.0ZM650.65,116.20h2.0v2.0h-2.0ZM647.24,110.00h2.0v2.0h-2.0ZM649.72,90.44h2.0v2.0h-2.0ZM652.08,114.74h2.0v2.0h-2.0ZM651.92,112.77h2.0v2.0h-2.0ZM651.43,96.15h2.0v2.0h-2.0ZM650.47,112.30h2.0v2.0h-2.0ZM647.94,101.91h2.0v2.0h-2.0ZM649.82,103.00h2.0v2.0h-2.0ZM649.61,109.97h2.0v2.0h-2.0ZM649.67,100.77h2.0v2.0h-2.0ZM648.43,96.57h2.0v2.0h-2.0ZM648.26,115.66h2.0v2.0h-2.0ZM649.82,96.62h2.0v2.0h-2.0ZM651.43,89.97h2.0v2.0h-2.0ZM648.32,104.44h2.0v2.0h-2.0ZM647.17,90.07h2.0v2.0h-2.0ZM647.28,113.08h2.0v2.0h-2.0ZM651.75,108.91h2.0v2.0h-2.0ZM649.32,97.27h2.0v2.0h-2.0ZM651.63,100.29h2.0v2.0h-2.0ZM649.72,95.42h2.0v2.0h-2.0ZM649.63,112.09h2.0v2.0h-2.0ZM649.83,114.61h2.0v2.0h-2.0ZM649.84,105.98h2.0v2.0h-2.0Z" fill="#22e02a" fill-opacity="0.42" stroke="#22e02a" stroke-width="0.6"/>
<circle cx="650.54" cy="71.10" r="0.95" fill="#222"/>
<path d="M663.01,89.30V117.60M661.21,89.30H664.81M661.21,117.60H664.81" stroke="#3c3c3c" stroke-width="0.75" fill="none"/>
<path d="M658.21,103.20H667.81" stroke="#5a5a5a" stroke-width="0.9" fill="none"/>
<path d="M663.11,80.04L664.31,82.26L661.91,82.26ZM663.00,116.34L664.20,118.56L661.80,118.56ZM662.75,96.13L663.95,98.35L661.55,98.35ZM662.91,114.40L664.11,116.62L661.71,116.62ZM662.84,112.48L664.04,114.70L661.64,114.70ZM662.82,100.55L664.02,102.77L661.62,102.77ZM662.62,98.40L663.82,100.62L661.42,100.62ZM665.17,104.76L666.37,106.98L663.97,106.98ZM664.12,99.21L665.32,101.43L662.92,101.43ZM661.09,93.05L662.29,95.27L659.89,95.27ZM666.09,100.17L667.29,102.39L664.89,102.39ZM660.77,97.81L661.97,100.03L659.57,100.03ZM664.55,102.41L665.75,104.63L663.35,104.63ZM662.99,97.01L664.19,99.23L661.79,99.23ZM665.27,94.06L666.47,96.28L664.07,96.28ZM665.12,97.07L666.32,99.29L663.92,99.29ZM665.19,114.48L666.39,116.70L663.99,116.70ZM664.62,93.07L665.82,95.29L663.42,95.29ZM663.18,109.75L664.38,111.97L661.98,111.97ZM662.94,103.95L664.14,106.17L661.74,106.17ZM662.93,91.82L664.13,94.04L661.73,94.04ZM660.66,100.93L661.86,103.15L659.46,103.15ZM665.77,110.35L666.97,112.57L664.57,112.57ZM664.87,112.04L666.07,114.26L663.67,114.26ZM661.56,111.02L662.76,113.24L660.36,113.24ZM663.10,94.07L664.30,96.29L661.90,96.29ZM663.25,52.14L664.45,54.36L662.05,54.36ZM663.23,127.04L664.43,129.26L662.03,129.26Z" fill="none" stroke="#a2c4f4" stroke-width="0.62"/>
<circle cx="663.01" cy="41.00" r="0.95" fill="#222"/>
<path d="M675.48,87.10V111.40M673.68,87.10H677.28M673.68,111.40H677.28" stroke="#3c3c3c" stroke-width="0.75" fill="none"/>
<path d="M670.68,99.20H680.28" stroke="#5a5a5a" stroke-width="0.9" fill="none"/>
<path d="M675.36,76.84L676.56,79.06L674.16,79.06ZM675.73,110.14L676.93,112.36L674.53,112.36ZM677.64,105.18L678.84,107.40L676.44,107.40ZM675.20,94.43L676.40,96.65L674.00,96.65ZM675.39,82.17L676.59,84.39L674.19,84.39ZM677.49,86.39L678.69,88.61L676.29,88.61ZM673.43,87.30L674.63,89.52L672.23,89.52ZM676.06,101.63L677.26,103.85L674.86,103.85ZM675.44,107.65L676.64,109.87L674.24,109.87ZM673.67,95.78L674.87,98.00L672.47,98.00ZM674.66,100.84L675.86,103.06L673.46,103.06ZM677.40,101.31L678.60,103.53L676.20,103.53ZM673.18,89.83L674.38,92.05L671.98,92.05ZM673.28,106.30L674.48,108.52L672.08,108.52ZM675.26,98.83L676.46,101.05L674.06,101.05ZM675.66,102.43L676.86,104.65L674.46,104.65ZM675.59,90.68L676.79,92.90L674.39,92.90ZM675.21,84.65L676.41,86.87L674.01,86.87ZM677.54,108.17L678.74,110.39L676.34,110.39ZM677.44,94.31L678.64,96.53L676.24,96.53ZM675.55,105.35L676.75,107.57L674.35,107.57ZM676.61,88.07L677.81,90.29L675.41,90.29ZM673.83,100.98L675.03,103.20L672.63,103.20ZM675.74,96.53L676.94,98.75L674.54,98.75ZM677.39,88.49L678.59,90.71L676.19,90.71ZM675.56,87.53L676.76,89.75L674.36,89.75ZM675.47,118.54L676.67,120.76L674.27,120.76Z" fill="none" stroke="#c8c444" stroke-width="0.62"/>
<circle cx="675.48" cy="65.50" r="0.95" fill="#222"/>
<path d="M492.6,15V142.3H685" stroke="#8c8c8c" stroke-width="1" fill="none"/>
<path d="M490.20000000000005,15H492.6M490.20000000000005,33.2H492.6M490.20000000000005,51.4H492.6M490.20000000000005,69.5H492.6M490.20000000000005,87.7H492.6M490.20000000000005,105.9H492.6M490.20000000000005,124.1H492.6M490.20000000000005,142.3H492.6" stroke="#8c8c8c" stroke-width="0.8" fill="none"/>
<text x="489.75" y="17.31" text-anchor="end" font-size="6.6" fill="#262626" class="r">45</text>
<text x="489.75" y="35.51" text-anchor="end" font-size="6.6" fill="#262626" class="r">40</text>
<text x="489.75" y="53.71" text-anchor="end" font-size="6.6" fill="#262626" class="r">35</text>
<text x="489.75" y="71.81" text-anchor="end" font-size="6.6" fill="#262626" class="r">30</text>
<text x="489.75" y="90.01" text-anchor="end" font-size="6.6" fill="#262626" class="r">25</text>
<text x="489.75" y="108.21" text-anchor="end" font-size="6.6" fill="#262626" class="r">20</text>
<text x="489.75" y="126.41" text-anchor="end" font-size="6.6" fill="#262626" class="r">15</text>
<text x="489.75" y="144.61" text-anchor="end" font-size="6.6" fill="#262626" class="r">10</text>
<path d="M500.90,142.3v2.6M513.37,142.3v2.6M525.84,142.3v2.6M538.31,142.3v2.6M550.78,142.3v2.6M563.25,142.3v2.6M575.72,142.3v2.6M588.19,142.3v2.6M600.66,142.3v2.6M613.13,142.3v2.6M625.60,142.3v2.6M638.07,142.3v2.6M650.54,142.3v2.6M663.01,142.3v2.6M675.48,142.3v2.6" stroke="#8c8c8c" stroke-width="0.8" fill="none"/>
<text x="500.90" y="151.8" text-anchor="middle" font-size="6.9" fill="#262626" class="r">RO</text>
<text x="513.37" y="151.8" text-anchor="middle" font-size="6.9" fill="#262626" class="r">CE</text>
<text x="525.84" y="151.8" text-anchor="middle" font-size="6.9" fill="#262626" class="r">AY</text>
<text x="538.31" y="151.8" text-anchor="middle" font-size="6.9" fill="#262626" class="r">SH</text>
<text x="550.78" y="151.8" text-anchor="middle" font-size="6.9" fill="#262626" class="r">PR</text>
<text x="563.25" y="151.8" text-anchor="middle" font-size="6.9" fill="#262626" class="r">PN</text>
<text x="575.72" y="151.8" text-anchor="middle" font-size="6.9" fill="#262626" class="r">VA</text>
<text x="588.19" y="151.8" text-anchor="middle" font-size="6.9" fill="#262626" class="r">TA</text>
<text x="600.66" y="151.8" text-anchor="middle" font-size="6.9" fill="#262626" class="r">ML</text>
<text x="613.13" y="151.8" text-anchor="middle" font-size="6.9" fill="#262626" class="r">LO</text>
<text x="625.60" y="151.8" text-anchor="middle" font-size="6.9" fill="#262626" class="r">SB</text>
<text x="638.07" y="151.8" text-anchor="middle" font-size="6.9" fill="#262626" class="r">MT</text>
<text x="650.54" y="151.8" text-anchor="middle" font-size="6.9" fill="#262626" class="r">LC</text>
<text x="663.01" y="151.8" text-anchor="middle" font-size="6.9" fill="#262626" class="r">SS</text>
<text x="675.48" y="151.8" text-anchor="middle" font-size="6.9" fill="#262626" class="r">PL</text>
<text x="574.81" y="4.85" font-size="6.8" font-weight="bold" fill="#111" class="b" textLength="27.24" lengthAdjust="spacingAndGlyphs">(C) pNPA</text>
<text x="570.73" y="166.30" font-size="6.5" font-weight="bold" fill="#111" class="b" textLength="35.40" lengthAdjust="spacingAndGlyphs">Populations</text>
<text transform="rotate(-90)" x="-101.88" y="479.00" font-size="6.3" font-weight="bold" fill="#111" class="b" textLength="52.02" lengthAdjust="spacingAndGlyphs">∆Abs/mg ptn/min</text>
<line x1="19" y1="219.5" x2="212.7" y2="219.5" stroke="#8a8a8a" stroke-width="1" stroke-dasharray="1 1"/>
<path d="M27.10,250.40V294.00M25.30,250.40H28.90M25.30,294.00H28.90" stroke="#3c3c3c" stroke-width="0.75" fill="none"/>
<path d="M22.30,272.20H31.90" stroke="#5a5a5a" stroke-width="0.9" fill="none"/>
<path d="M27.32,256.74L28.52,258.96L26.12,258.96ZM27.19,295.04L28.39,297.26L25.99,297.26ZM27.23,291.87L28.43,294.09L26.03,294.09ZM27.13,277.00L28.33,279.22L25.93,279.22ZM30.05,274.94L31.25,277.16L28.85,277.16ZM29.94,259.56L31.14,261.78L28.74,261.78ZM26.85,279.80L28.05,282.02L25.65,282.02ZM30.06,283.46L31.26,285.68L28.86,285.68ZM24.04,273.85L25.24,276.07L22.84,276.07ZM27.78,275.06L28.98,277.28L26.58,277.28ZM27.07,260.13L28.27,262.35L25.87,262.35ZM24.33,282.93L25.53,285.15L23.13,285.15ZM27.09,274.40L28.29,276.62L25.89,276.62ZM27.39,286.14L28.59,288.36L26.19,288.36ZM27.22,282.95L28.42,285.17L26.02,285.17ZM24.23,280.01L25.43,282.23L23.03,282.23ZM24.37,276.37L25.57,278.59L23.17,278.59ZM29.74,279.63L30.94,281.85L28.54,281.85ZM29.49,284.39L30.69,286.61L28.29,286.61ZM29.63,288.90L30.83,291.12L28.43,291.12ZM27.14,289.24L28.34,291.46L25.94,291.46ZM27.77,283.74L28.97,285.96L26.57,285.96ZM27.29,214.24L28.49,216.46L26.09,216.46ZM26.98,228.14L28.18,230.36L25.78,230.36ZM27.40,238.94L28.60,241.16L26.20,241.16ZM26.86,243.34L28.06,245.56L25.66,245.56ZM28.43,245.14L29.63,247.36L27.23,247.36Z" fill="#3c4ce6" fill-opacity="0.42" stroke="#3c4ce6" stroke-width="0.6"/>
<path d="M39.74,264.30V294.10M37.94,264.30H41.54M37.94,294.10H41.54" stroke="#3c3c3c" stroke-width="0.75" fill="none"/>
<path d="M34.94,279.40H44.54" stroke="#5a5a5a" stroke-width="0.9" fill="none"/>
<path d="M40.03,262.74L41.23,264.96L38.83,264.96ZM38.30,292.14L39.50,294.36L37.10,294.36ZM39.60,288.37L40.80,290.59L38.40,290.59ZM42.01,277.42L43.21,279.64L40.81,279.64ZM41.87,283.50L43.07,285.72L40.67,285.72ZM40.53,274.25L41.73,276.47L39.33,276.47ZM39.91,279.73L41.11,281.95L38.71,281.95ZM41.54,278.46L42.74,280.68L40.34,280.68ZM36.99,290.79L38.19,293.01L35.79,293.01ZM40.91,287.07L42.11,289.29L39.71,289.29ZM40.04,276.69L41.24,278.91L38.84,278.91ZM37.82,287.86L39.02,290.08L36.62,290.08ZM39.76,282.10L40.96,284.32L38.56,284.32ZM38.89,286.07L40.09,288.29L37.69,288.29ZM38.07,280.90L39.27,283.12L36.87,283.12ZM38.44,275.51L39.64,277.73L37.24,277.73ZM42.06,291.10L43.26,293.32L40.86,293.32ZM39.96,290.85L41.16,293.07L38.76,293.07ZM39.43,284.42L40.63,286.64L38.23,286.64ZM40.01,272.32L41.21,274.54L38.81,274.54ZM42.00,280.46L43.20,282.68L40.80,282.68ZM38.19,277.71L39.39,279.93L36.99,279.93ZM39.96,278.55L41.16,280.77L38.76,280.77ZM37.41,290.11L38.61,292.33L36.21,292.33ZM39.72,284.05L40.92,286.27L38.52,286.27ZM37.79,283.32L38.99,285.54L36.59,285.54ZM39.85,227.84L41.05,230.06L38.65,230.06ZM40.00,240.44L41.20,242.66L38.80,242.66ZM39.45,297.94L40.65,300.16L38.25,300.16Z" fill="none" stroke="#3cc494" stroke-width="0.62"/>
<path d="M52.38,275.50V299.00M50.58,275.50H54.18M50.58,299.00H54.18" stroke="#3c3c3c" stroke-width="0.75" fill="none"/>
<path d="M47.58,287.20H57.18" stroke="#5a5a5a" stroke-width="0.9" fill="none"/>
<path d="M52.21,266.70L53.25,268.00L52.21,269.30L51.17,268.00ZM52.47,296.40L53.51,297.70L52.47,299.00L51.43,297.70ZM54.34,284.90L55.38,286.20L54.34,287.50L53.30,286.20ZM52.11,285.71L53.15,287.01L52.11,288.31L51.07,287.01ZM54.55,288.22L55.59,289.52L54.55,290.82L53.51,289.52ZM52.09,282.44L53.13,283.74L52.09,285.04L51.05,283.74ZM53.38,292.77L54.42,294.07L53.38,295.37L52.34,294.07ZM53.97,294.53L55.01,295.83L53.97,297.13L52.93,295.83ZM50.16,292.01L51.20,293.31L50.16,294.61L49.12,293.31ZM54.34,291.95L55.38,293.25L54.34,294.55L53.30,293.25ZM52.55,278.46L53.59,279.76L52.55,281.06L51.51,279.76ZM53.10,289.01L54.14,290.31L53.10,291.61L52.06,290.31ZM51.54,287.23L52.58,288.53L51.54,289.83L50.50,288.53ZM52.62,287.94L53.66,289.24L52.62,290.54L51.58,289.24ZM50.26,287.69L51.30,288.99L50.26,290.29L49.22,288.99ZM49.83,294.50L50.87,295.80L49.83,297.10L48.79,295.80ZM52.61,291.47L53.65,292.77L52.61,294.07L51.57,292.77ZM52.82,292.96L53.86,294.26L52.82,295.56L51.78,294.26ZM53.14,288.14L54.18,289.44L53.14,290.74L52.10,289.44ZM51.10,287.19L52.14,288.49L51.10,289.79L50.06,288.49ZM50.26,283.17L51.30,284.47L50.26,285.77L49.22,284.47ZM52.25,292.96L53.29,294.26L52.25,295.56L51.21,294.26ZM50.81,289.89L51.85,291.19L50.81,292.49L49.77,291.19ZM55.20,296.02L56.24,297.32L55.20,298.62L54.16,297.32ZM54.62,288.73L55.66,290.03L54.62,291.33L53.58,290.03ZM51.60,294.66L52.64,295.96L51.60,297.26L50.56,295.96ZM52.10,254.70L53.14,256.00L52.10,257.30L51.06,256.00ZM52.41,258.60L53.45,259.90L52.41,261.20L51.37,259.90Z" fill="none" stroke="#b03838" stroke-width="0.62"/>
<path d="M65.02,283.40V304.70M63.22,283.40H66.82M63.22,304.70H66.82" stroke="#3c3c3c" stroke-width="0.75" fill="none"/>
<path d="M60.22,294.10H69.82" stroke="#5a5a5a" stroke-width="0.9" fill="none"/>
<path d="M65.07,288.70L66.11,290.00L65.07,291.30L64.03,290.00ZM66.26,300.10L67.30,301.40L66.26,302.70L65.22,301.40ZM66.67,295.27L67.71,296.57L66.67,297.87L65.63,296.57ZM68.00,291.60L69.04,292.90L68.00,294.20L66.96,292.90ZM67.07,290.92L68.11,292.22L67.07,293.52L66.03,292.22ZM64.90,295.91L65.94,297.21L64.90,298.51L63.86,297.21ZM66.02,297.69L67.06,298.99L66.02,300.29L64.98,298.99ZM63.16,290.62L64.20,291.92L63.16,293.22L62.12,291.92ZM66.52,297.42L67.56,298.72L66.52,300.02L65.48,298.72ZM66.94,295.05L67.98,296.35L66.94,297.65L65.90,296.35ZM65.02,291.21L66.06,292.51L65.02,293.81L63.98,292.51ZM63.04,294.04L64.08,295.34L63.04,296.64L62.00,295.34ZM63.30,295.23L64.34,296.53L63.30,297.83L62.26,296.53ZM67.33,297.65L68.37,298.95L67.33,300.25L66.29,298.95ZM67.33,296.30L68.37,297.60L67.33,298.90L66.29,297.60ZM66.37,294.45L67.41,295.75L66.37,297.05L65.33,295.75ZM62.80,298.41L63.84,299.71L62.80,301.01L61.76,299.71ZM65.08,297.97L66.12,299.27L65.08,300.57L64.04,299.27ZM65.06,298.54L66.10,299.84L65.06,301.14L64.02,299.84ZM62.85,291.83L63.89,293.13L62.85,294.43L61.81,293.13ZM64.76,290.65L65.80,291.95L64.76,293.25L63.72,291.95ZM66.94,295.65L67.98,296.95L66.94,298.25L65.90,296.95ZM63.12,295.10L64.16,296.40L63.12,297.70L62.08,296.40ZM67.26,296.82L68.30,298.12L67.26,299.42L66.22,298.12ZM65.00,293.06L66.04,294.36L65.00,295.66L63.96,294.36ZM66.20,296.62L67.24,297.92L66.20,299.22L65.16,297.92ZM64.94,259.70L65.98,261.00L64.94,262.30L63.90,261.00ZM64.74,267.80L65.78,269.10L64.74,270.40L63.70,269.10Z" fill="#b23ee6" fill-opacity="0.42" stroke="#b23ee6" stroke-width="0.6"/>
<circle cx="65.02" cy="250.70" r="0.95" fill="#222"/>
<path d="M77.66,290.00V300.00M75.86,290.00H79.46M75.86,300.00H79.46" stroke="#3c3c3c" stroke-width="0.75" fill="none"/>
<path d="M72.86,295.10H82.46" stroke="#5a5a5a" stroke-width="0.9" fill="none"/>
<path d="M77.65,285.50L78.69,286.80L77.65,288.10L76.61,286.80ZM77.07,299.40L78.11,300.70L77.07,302.00L76.03,300.70ZM80.17,297.17L81.21,298.47L80.17,299.77L79.13,298.47ZM79.68,293.64L80.72,294.94L79.68,296.24L78.64,294.94ZM79.79,291.34L80.83,292.64L79.79,293.94L78.75,292.64ZM80.69,294.49L81.73,295.79L80.69,297.09L79.65,295.79ZM76.06,292.11L77.10,293.41L76.06,294.71L75.02,293.41ZM75.00,298.59L76.04,299.89L75.00,301.19L73.96,299.89ZM75.45,295.20L76.49,296.50L75.45,297.80L74.41,296.50ZM78.32,290.80L79.36,292.10L78.32,293.40L77.28,292.10ZM76.26,290.04L77.30,291.34L76.26,292.64L75.22,291.34ZM77.67,287.72L78.71,289.02L77.67,290.32L76.63,289.02ZM77.29,292.87L78.33,294.17L77.29,295.47L76.25,294.17ZM78.52,295.63L79.56,296.93L78.52,298.23L77.48,296.93ZM76.29,296.24L77.33,297.54L76.29,298.84L75.25,297.54ZM76.01,290.49L77.05,291.79L76.01,293.09L74.97,291.79ZM77.94,297.62L78.98,298.92L77.94,300.22L76.90,298.92ZM74.76,294.83L75.80,296.13L74.76,297.43L73.72,296.13ZM78.84,293.42L79.88,294.72L78.84,296.02L77.80,294.72ZM77.72,292.05L78.76,293.35L77.72,294.65L76.68,293.35ZM75.74,292.82L76.78,294.12L75.74,295.42L74.70,294.12ZM77.57,293.13L78.61,294.43L77.57,295.73L76.53,294.43ZM77.09,294.42L78.13,295.72L77.09,297.02L76.05,295.72ZM79.69,297.34L80.73,298.64L79.69,299.94L78.65,298.64ZM80.25,298.93L81.29,300.23L80.25,301.53L79.21,300.23ZM78.20,289.53L79.24,290.83L78.20,292.13L77.16,290.83Z" fill="#f29022" fill-opacity="0.42" stroke="#f29022" stroke-width="0.6"/>
<circle cx="77.66" cy="279.50" r="0.95" fill="#222"/>
<path d="M90.30,260.40V297.00M88.50,260.40H92.10M88.50,297.00H92.10" stroke="#3c3c3c" stroke-width="0.75" fill="none"/>
<path d="M85.50,278.40H95.10" stroke="#5a5a5a" stroke-width="0.9" fill="none"/>
<path d="M90.45,260.14L91.65,262.36L89.25,262.36ZM90.37,291.34L91.57,293.56L89.17,293.56ZM92.91,285.33L94.11,287.55L91.71,287.55ZM91.67,277.35L92.87,279.57L90.47,279.57ZM87.75,285.88L88.95,288.10L86.55,288.10ZM92.54,285.29L93.74,287.51L91.34,287.51ZM89.32,286.70L90.52,288.92L88.12,288.92ZM90.58,285.63L91.78,287.85L89.38,287.85ZM90.71,285.53L91.91,287.75L89.51,287.75ZM92.96,286.46L94.16,288.68L91.76,288.68ZM92.47,278.02L93.67,280.24L91.27,280.24ZM89.02,284.12L90.22,286.34L87.82,286.34ZM91.12,276.38L92.32,278.60L89.92,278.60ZM88.24,278.67L89.44,280.89L87.04,280.89ZM90.71,285.76L91.91,287.98L89.51,287.98ZM90.13,278.07L91.33,280.29L88.93,280.29ZM90.03,274.55L91.23,276.77L88.83,276.77ZM91.84,278.10L93.04,280.32L90.64,280.32ZM87.88,284.94L89.08,287.16L86.68,287.16ZM88.36,287.06L89.56,289.28L87.16,289.28ZM88.67,284.22L89.87,286.44L87.47,286.44ZM88.16,287.04L89.36,289.26L86.96,289.26ZM90.47,270.88L91.67,273.10L89.27,273.10ZM90.39,281.14L91.59,283.36L89.19,283.36ZM87.95,285.89L89.15,288.11L86.75,288.11ZM92.13,280.74L93.33,282.96L90.93,282.96ZM90.47,192.64L91.67,194.86L89.27,194.86ZM90.14,250.34L91.34,252.56L88.94,252.56Z" fill="#e6409e" fill-opacity="0.42" stroke="#e6409e" stroke-width="0.6"/>
<path d="M102.94,285.30V304.30M101.14,285.30H104.74M101.14,304.30H104.74" stroke="#3c3c3c" stroke-width="0.75" fill="none"/>
<path d="M98.14,295.10H107.74" stroke="#5a5a5a" stroke-width="0.9" fill="none"/>
<path d="M102.80,288.44L104.00,290.66L101.60,290.66ZM102.94,303.04L104.14,305.26L101.74,305.26ZM105.24,301.50L106.44,303.72L104.04,303.72ZM105.16,293.88L106.36,296.10L103.96,296.10ZM100.98,298.78L102.18,301.00L99.78,301.00ZM101.00,298.85L102.20,301.07L99.80,301.07ZM104.02,297.34L105.22,299.56L102.82,299.56ZM100.65,298.10L101.85,300.32L99.45,300.32ZM100.36,300.43L101.56,302.65L99.16,302.65ZM104.61,290.09L105.81,292.31L103.41,292.31ZM100.59,293.31L101.79,295.53L99.39,295.53ZM100.32,296.51L101.52,298.73L99.12,298.73ZM102.66,296.49L103.86,298.71L101.46,298.71ZM104.75,298.72L105.95,300.94L103.55,300.94ZM103.08,291.96L104.28,294.18L101.88,294.18ZM102.77,294.50L103.97,296.72L101.57,296.72ZM100.77,297.43L101.97,299.65L99.57,299.65ZM100.35,294.61L101.55,296.83L99.15,296.83ZM103.08,298.64L104.28,300.86L101.88,300.86ZM105.61,295.76L106.81,297.98L104.41,297.98ZM104.55,297.91L105.75,300.13L103.35,300.13ZM102.82,300.80L104.02,303.02L101.62,303.02ZM100.84,295.80L102.04,298.02L99.64,298.02ZM101.48,298.48L102.68,300.70L100.28,300.70ZM105.20,297.88L106.40,300.10L104.00,300.10ZM99.98,295.22L101.18,297.44L98.78,297.44ZM102.92,249.44L104.12,251.66L101.72,251.66ZM103.23,279.74L104.43,281.96L102.03,281.96Z" fill="none" stroke="#b48a48" stroke-width="0.62"/>
<circle cx="102.94" cy="240.20" r="0.95" fill="#222"/>
<path d="M115.58,278.20V300.00M113.78,278.20H117.38M113.78,300.00H117.38" stroke="#3c3c3c" stroke-width="0.75" fill="none"/>
<path d="M110.78,289.00H120.38" stroke="#5a5a5a" stroke-width="0.9" fill="none"/>
<path d="M117.39,276.04L118.59,278.26L116.19,278.26ZM117.45,296.74L118.65,298.96L116.25,298.96ZM115.50,288.52L116.70,290.74L114.30,290.74ZM113.57,294.90L114.77,297.12L112.37,297.12ZM117.91,287.75L119.11,289.97L116.71,289.97ZM115.79,290.46L116.99,292.68L114.59,292.68ZM113.48,288.99L114.68,291.21L112.28,291.21ZM116.98,287.83L118.18,290.05L115.78,290.05ZM117.82,291.07L119.02,293.29L116.62,293.29ZM115.84,292.93L117.04,295.15L114.64,295.15ZM113.57,288.25L114.77,290.47L112.37,290.47ZM113.34,284.42L114.54,286.64L112.14,286.64ZM115.37,280.39L116.57,282.61L114.17,282.61ZM114.05,296.41L115.25,298.63L112.85,298.63ZM113.79,285.58L114.99,287.80L112.59,287.80ZM117.84,285.33L119.04,287.55L116.64,287.55ZM115.72,276.43L116.92,278.65L114.52,278.65ZM116.49,286.28L117.69,288.50L115.29,288.50ZM117.08,283.10L118.28,285.32L115.88,285.32ZM117.95,286.57L119.15,288.79L116.75,288.79ZM112.81,290.83L114.01,293.05L111.61,293.05ZM115.85,284.65L117.05,286.87L114.65,286.87ZM113.31,290.23L114.51,292.45L112.11,292.45ZM114.93,286.47L116.13,288.69L113.73,288.69ZM115.76,295.73L116.96,297.95L114.56,297.95ZM118.68,293.19L119.88,295.41L117.48,295.41ZM115.85,259.14L117.05,261.36L114.65,261.36Z" fill="none" stroke="#8c90d0" stroke-width="0.62"/>
<path d="M128.22,266.50V283.40M126.42,266.50H130.02M126.42,283.40H130.02" stroke="#3c3c3c" stroke-width="0.75" fill="none"/>
<path d="M123.42,275.40H133.02" stroke="#5a5a5a" stroke-width="0.9" fill="none"/>
<path d="M128.01,256.74L129.21,258.96L126.81,258.96ZM130.11,289.94L131.31,292.16L128.91,292.16ZM128.65,268.81L129.85,271.03L127.45,271.03ZM125.63,273.31L126.83,275.53L124.43,275.53ZM130.11,276.42L131.31,278.64L128.91,278.64ZM126.84,271.84L128.04,274.06L125.64,274.06ZM127.93,279.29L129.13,281.51L126.73,281.51ZM127.70,267.08L128.90,269.30L126.50,269.30ZM128.34,287.66L129.54,289.88L127.14,289.88ZM126.79,269.44L127.99,271.66L125.59,271.66ZM127.57,270.08L128.77,272.30L126.37,272.30ZM126.02,281.23L127.22,283.45L124.82,283.45ZM126.14,275.82L127.34,278.04L124.94,278.04ZM130.47,276.22L131.67,278.44L129.27,278.44ZM129.60,272.31L130.80,274.53L128.40,274.53ZM126.92,280.67L128.12,282.89L125.72,282.89ZM128.38,276.33L129.58,278.55L127.18,278.55ZM130.42,280.78L131.62,283.00L129.22,283.00ZM128.38,281.78L129.58,284.00L127.18,284.00ZM128.50,270.68L129.70,272.90L127.30,272.90ZM128.28,285.68L129.48,287.90L127.08,287.90ZM127.01,276.88L128.21,279.10L125.81,279.10ZM130.09,270.02L131.29,272.24L128.89,272.24ZM130.28,286.22L131.48,288.44L129.08,288.44ZM130.38,269.58L131.58,271.80L129.18,271.80ZM128.13,289.84L129.33,292.06L126.93,292.06ZM128.30,251.34L129.50,253.56L127.10,253.56Z" fill="none" stroke="#f0a6d6" stroke-width="0.62"/>
<path d="M140.86,247.50V305.00M139.06,247.50H142.66M139.06,305.00H142.66" stroke="#3c3c3c" stroke-width="0.75" fill="none"/>
<path d="M136.06,276.50H145.66" stroke="#5a5a5a" stroke-width="0.9" fill="none"/>
<path d="M140.95,248.74L142.15,250.96L139.75,250.96ZM140.65,299.44L141.85,301.66L139.45,301.66ZM138.94,286.02L140.14,288.24L137.74,288.24ZM140.53,290.32L141.73,292.54L139.33,292.54ZM143.02,296.01L144.22,298.23L141.82,298.23ZM142.50,295.62L143.70,297.84L141.30,297.84ZM139.05,294.51L140.25,296.73L137.85,296.73ZM143.15,286.63L144.35,288.85L141.95,288.85ZM140.93,284.53L142.13,286.75L139.73,286.75ZM140.88,281.85L142.08,284.07L139.68,284.07ZM140.62,290.69L141.82,292.91L139.42,292.91ZM141.05,294.67L142.25,296.89L139.85,296.89ZM142.80,293.89L144.00,296.11L141.60,296.11ZM138.73,296.44L139.93,298.66L137.53,298.66ZM142.29,288.40L143.49,290.62L141.09,290.62ZM140.82,286.99L142.02,289.21L139.62,289.21ZM140.33,294.90L141.53,297.12L139.13,297.12ZM143.01,288.05L144.21,290.27L141.81,290.27ZM142.89,285.78L144.09,288.00L141.69,288.00ZM140.03,295.77L141.23,297.99L138.83,297.99ZM138.28,288.70L139.48,290.92L137.08,290.92ZM138.85,288.30L140.05,290.52L137.65,290.52ZM142.83,291.60L144.03,293.82L141.63,293.82ZM139.98,294.81L141.18,297.03L138.78,297.03ZM141.10,204.54L142.30,206.76L139.90,206.76ZM141.15,210.34L142.35,212.56L139.95,212.56ZM140.66,216.14L141.86,218.36L139.46,218.36ZM141.12,231.74L142.32,233.96L139.92,233.96Z" fill="none" stroke="#ea4a4e" stroke-width="0.62"/>
<path d="M153.50,285.30V295.50M151.70,285.30H155.30M151.70,295.50H155.30" stroke="#3c3c3c" stroke-width="0.75" fill="none"/>
<path d="M148.70,290.40H158.30" stroke="#5a5a5a" stroke-width="0.9" fill="none"/>
<path d="M153.40,275.34L154.60,277.56L152.20,277.56ZM154.23,297.24L155.43,299.46L153.03,299.46ZM155.41,289.82L156.61,292.04L154.21,292.04ZM152.33,287.00L153.53,289.22L151.13,289.22ZM155.21,291.28L156.41,293.50L154.01,293.50ZM150.95,291.61L152.15,293.83L149.75,293.83ZM153.71,284.25L154.91,286.47L152.51,286.47ZM155.63,291.81L156.83,294.03L154.43,294.03ZM151.40,293.62L152.60,295.84L150.20,295.84ZM156.06,287.22L157.26,289.44L154.86,289.44ZM151.09,290.68L152.29,292.90L149.89,292.90ZM155.71,291.08L156.91,293.30L154.51,293.30ZM151.24,284.42L152.44,286.64L150.04,286.64ZM153.55,286.56L154.75,288.78L152.35,288.78ZM151.08,290.78L152.28,293.00L149.88,293.00ZM155.68,287.77L156.88,289.99L154.48,289.99ZM152.68,291.38L153.88,293.60L151.48,293.60ZM155.32,290.69L156.52,292.91L154.12,292.91ZM154.91,282.62L156.11,284.84L153.71,284.84ZM151.12,289.67L152.32,291.89L149.92,291.89ZM152.06,288.06L153.26,290.28L150.86,290.28ZM151.00,292.17L152.20,294.39L149.80,294.39ZM153.75,292.85L154.95,295.07L152.55,295.07ZM153.65,293.20L154.85,295.42L152.45,295.42ZM153.39,288.89L154.59,291.11L152.19,291.11ZM153.37,295.48L154.57,297.70L152.17,297.70Z" fill="none" stroke="#287e5c" stroke-width="0.62"/>
<circle cx="153.50" cy="269.40" r="0.95" fill="#222"/>
<path d="M166.14,274.10V301.80M164.34,274.10H167.94M164.34,301.80H167.94" stroke="#3c3c3c" stroke-width="0.75" fill="none"/>
<path d="M161.34,288.20H170.94" stroke="#5a5a5a" stroke-width="0.9" fill="none"/>
<path d="M164.95,274.00a1.05,1.05 0 1,0 2.1,0a1.05,1.05 0 1,0 -2.1,0M167.36,297.00a1.05,1.05 0 1,0 2.1,0a1.05,1.05 0 1,0 -2.1,0M163.21,281.34a1.05,1.05 0 1,0 2.1,0a1.05,1.05 0 1,0 -2.1,0M162.78,287.70a1.05,1.05 0 1,0 2.1,0a1.05,1.05 0 1,0 -2.1,0M163.19,296.73a1.05,1.05 0 1,0 2.1,0a1.05,1.05 0 1,0 -2.1,0M162.36,283.27a1.05,1.05 0 1,0 2.1,0a1.05,1.05 0 1,0 -2.1,0M165.01,280.43a1.05,1.05 0 1,0 2.1,0a1.05,1.05 0 1,0 -2.1,0M164.05,288.39a1.05,1.05 0 1,0 2.1,0a1.05,1.05 0 1,0 -2.1,0M163.21,291.60a1.05,1.05 0 1,0 2.1,0a1.05,1.05 0 1,0 -2.1,0M168.00,283.95a1.05,1.05 0 1,0 2.1,0a1.05,1.05 0 1,0 -2.1,0M162.90,293.81a1.05,1.05 0 1,0 2.1,0a1.05,1.05 0 1,0 -2.1,0M163.41,295.09a1.05,1.05 0 1,0 2.1,0a1.05,1.05 0 1,0 -2.1,0M165.24,291.27a1.05,1.05 0 1,0 2.1,0a1.05,1.05 0 1,0 -2.1,0M167.22,288.57a1.05,1.05 0 1,0 2.1,0a1.05,1.05 0 1,0 -2.1,0M167.98,295.16a1.05,1.05 0 1,0 2.1,0a1.05,1.05 0 1,0 -2.1,0M167.59,281.92a1.05,1.05 0 1,0 2.1,0a1.05,1.05 0 1,0 -2.1,0M165.86,284.04a1.05,1.05 0 1,0 2.1,0a1.05,1.05 0 1,0 -2.1,0M165.18,296.54a1.05,1.05 0 1,0 2.1,0a1.05,1.05 0 1,0 -2.1,0M167.27,291.20a1.05,1.05 0 1,0 2.1,0a1.05,1.05 0 1,0 -2.1,0M164.18,282.90a1.05,1.05 0 1,0 2.1,0a1.05,1.05 0 1,0 -2.1,0M165.09,288.01a1.05,1.05 0 1,0 2.1,0a1.05,1.05 0 1,0 -2.1,0M166.68,281.97a1.05,1.05 0 1,0 2.1,0a1.05,1.05 0 1,0 -2.1,0M163.79,293.65a1.05,1.05 0 1,0 2.1,0a1.05,1.05 0 1,0 -2.1,0M166.35,292.97a1.05,1.05 0 1,0 2.1,0a1.05,1.05 0 1,0 -2.1,0M165.02,294.26a1.05,1.05 0 1,0 2.1,0a1.05,1.05 0 1,0 -2.1,0M165.80,286.23a1.05,1.05 0 1,0 2.1,0a1.05,1.05 0 1,0 -2.1,0M164.84,237.50a1.05,1.05 0 1,0 2.1,0a1.05,1.05 0 1,0 -2.1,0M165.20,247.20a1.05,1.05 0 1,0 2.1,0a1.05,1.05 0 1,0 -2.1,0" fill="none" stroke="#f2c290" stroke-width="0.62"/>
<circle cx="166.14" cy="227.20" r="0.95" fill="#222"/>
<path d="M178.78,288.70V304.30M176.98,288.70H180.58M176.98,304.30H180.58" stroke="#3c3c3c" stroke-width="0.75" fill="none"/>
<path d="M173.98,296.30H183.58" stroke="#5a5a5a" stroke-width="0.9" fill="none"/>
<path d="M178.68,291.20h2.0v2.0h-2.0ZM177.90,301.80h2.0v2.0h-2.0ZM179.49,296.07h2.0v2.0h-2.0ZM177.91,292.29h2.0v2.0h-2.0ZM180.33,296.97h2.0v2.0h-2.0ZM178.34,298.51h2.0v2.0h-2.0ZM178.79,297.55h2.0v2.0h-2.0ZM176.41,292.20h2.0v2.0h-2.0ZM179.63,299.31h2.0v2.0h-2.0ZM179.90,291.88h2.0v2.0h-2.0ZM177.92,298.49h2.0v2.0h-2.0ZM177.79,296.71h2.0v2.0h-2.0ZM176.44,295.05h2.0v2.0h-2.0ZM174.68,293.25h2.0v2.0h-2.0ZM175.69,291.36h2.0v2.0h-2.0ZM176.55,297.33h2.0v2.0h-2.0ZM180.12,295.94h2.0v2.0h-2.0ZM180.10,297.04h2.0v2.0h-2.0ZM175.38,296.92h2.0v2.0h-2.0ZM174.88,298.85h2.0v2.0h-2.0ZM178.49,295.25h2.0v2.0h-2.0ZM175.31,295.62h2.0v2.0h-2.0ZM177.88,299.27h2.0v2.0h-2.0ZM175.77,299.19h2.0v2.0h-2.0ZM178.33,295.93h2.0v2.0h-2.0ZM174.92,291.90h2.0v2.0h-2.0ZM177.64,255.30h2.0v2.0h-2.0Z" fill="#22e02a" fill-opacity="0.42" stroke="#22e02a" stroke-width="0.6"/>
<circle cx="178.78" cy="245.80" r="0.95" fill="#222"/>
<path d="M191.42,277.30V312.30M189.62,277.30H193.22M189.62,312.30H193.22" stroke="#3c3c3c" stroke-width="0.75" fill="none"/>
<path d="M186.62,295.10H196.22" stroke="#5a5a5a" stroke-width="0.9" fill="none"/>
<path d="M193.44,286.24L194.64,288.46L192.24,288.46ZM191.21,303.04L192.41,305.26L190.01,305.26ZM190.02,296.98L191.22,299.20L188.82,299.20ZM191.67,294.16L192.87,296.38L190.47,296.38ZM194.13,294.21L195.33,296.43L192.93,296.43ZM193.67,292.43L194.87,294.65L192.47,294.65ZM191.55,297.97L192.75,300.19L190.35,300.19ZM193.53,297.41L194.73,299.63L192.33,299.63ZM189.60,294.26L190.80,296.48L188.40,296.48ZM193.45,296.94L194.65,299.16L192.25,299.16ZM193.44,300.88L194.64,303.10L192.24,303.10ZM191.40,290.38L192.60,292.60L190.20,292.60ZM190.05,293.43L191.25,295.65L188.85,295.65ZM189.74,294.67L190.94,296.89L188.54,296.89ZM192.15,294.30L193.35,296.52L190.95,296.52ZM193.23,290.74L194.43,292.96L192.03,292.96ZM188.83,296.20L190.03,298.42L187.63,298.42ZM191.26,286.39L192.46,288.61L190.06,288.61ZM189.42,297.31L190.62,299.53L188.22,299.53ZM189.43,288.64L190.63,290.86L188.23,290.86ZM191.74,296.94L192.94,299.16L190.54,299.16ZM191.69,288.46L192.89,290.68L190.49,290.68ZM189.05,297.95L190.25,300.17L187.85,300.17ZM191.12,300.63L192.32,302.85L189.92,302.85ZM188.83,293.64L190.03,295.86L187.63,295.86ZM189.15,296.87L190.35,299.09L187.95,299.09ZM191.26,206.94L192.46,209.16L190.06,209.16Z" fill="none" stroke="#a2c4f4" stroke-width="0.62"/>
<circle cx="191.42" cy="199.00" r="0.95" fill="#222"/>
<path d="M204.06,277.30V306.20M202.26,277.30H205.86M202.26,306.20H205.86" stroke="#3c3c3c" stroke-width="0.75" fill="none"/>
<path d="M199.26,292.20H208.86" stroke="#5a5a5a" stroke-width="0.9" fill="none"/>
<path d="M203.84,283.34L205.04,285.56L202.64,285.56ZM206.37,303.44L207.57,305.66L205.17,305.66ZM201.92,291.96L203.12,294.18L200.72,294.18ZM204.21,300.07L205.41,302.29L203.01,302.29ZM202.00,293.94L203.20,296.16L200.80,296.16ZM203.55,295.98L204.75,298.20L202.35,298.20ZM204.83,294.27L206.03,296.49L203.63,296.49ZM202.98,293.30L204.18,295.52L201.78,295.52ZM205.96,300.52L207.16,302.74L204.76,302.74ZM202.92,301.36L204.12,303.58L201.72,303.58ZM206.74,291.59L207.94,293.81L205.54,293.81ZM206.10,286.19L207.30,288.41L204.90,288.41ZM206.28,287.28L207.48,289.50L205.08,289.50ZM204.86,294.33L206.06,296.55L203.66,296.55ZM205.99,292.14L207.19,294.36L204.79,294.36ZM202.82,288.08L204.02,290.30L201.62,290.30ZM204.17,303.00L205.37,305.22L202.97,305.22ZM206.77,292.58L207.97,294.80L205.57,294.80ZM204.04,292.37L205.24,294.59L202.84,294.59ZM206.43,288.86L207.63,291.08L205.23,291.08ZM202.32,293.36L203.52,295.58L201.12,295.58ZM203.88,286.55L205.08,288.77L202.68,288.77ZM205.35,293.31L206.55,295.53L204.15,295.53ZM206.20,288.41L207.40,290.63L205.00,290.63ZM204.32,289.05L205.52,291.27L203.12,291.27ZM201.78,292.94L202.98,295.16L200.58,295.16ZM204.02,230.94L205.22,233.16L202.82,233.16ZM203.94,252.84L205.14,255.06L202.74,255.06Z" fill="none" stroke="#c8c444" stroke-width="0.62"/>
<circle cx="204.06" cy="222.80" r="0.95" fill="#222"/>
<path d="M18.3,191.8V320.5H212.7" stroke="#8c8c8c" stroke-width="1" fill="none"/>
<path d="M15.9,191.8H18.3M15.9,210.2H18.3M15.9,228.6H18.3M15.9,247.0H18.3M15.9,265.4H18.3M15.9,283.8H18.3M15.9,302.1H18.3M15.9,320.5H18.3" stroke="#8c8c8c" stroke-width="0.8" fill="none"/>
<text x="15.45" y="193.90" text-anchor="end" font-size="6.0" fill="#262626" class="r">70</text>
<text x="15.45" y="212.30" text-anchor="end" font-size="6.0" fill="#262626" class="r">60</text>
<text x="15.45" y="230.70" text-anchor="end" font-size="6.0" fill="#262626" class="r">50</text>
<text x="15.45" y="249.10" text-anchor="end" font-size="6.0" fill="#262626" class="r">40</text>
<text x="15.45" y="267.50" text-anchor="end" font-size="6.0" fill="#262626" class="r">30</text>
<text x="15.45" y="285.90" text-anchor="end" font-size="6.0" fill="#262626" class="r">20</text>
<text x="15.45" y="304.20" text-anchor="end" font-size="6.0" fill="#262626" class="r">10</text>
<text x="15.45" y="322.60" text-anchor="end" font-size="6.0" fill="#262626" class="r">0</text>
<path d="M27.10,320.5v2.6M39.74,320.5v2.6M52.38,320.5v2.6M65.02,320.5v2.6M77.66,320.5v2.6M90.30,320.5v2.6M102.94,320.5v2.6M115.58,320.5v2.6M128.22,320.5v2.6M140.86,320.5v2.6M153.50,320.5v2.6M166.14,320.5v2.6M178.78,320.5v2.6M191.42,320.5v2.6M204.06,320.5v2.6" stroke="#8c8c8c" stroke-width="0.8" fill="none"/>
<text x="27.10" y="329.8" text-anchor="middle" font-size="6.6" fill="#262626" class="r">RO</text>
<text x="39.74" y="329.8" text-anchor="middle" font-size="6.6" fill="#262626" class="r">CE</text>
<text x="52.38" y="329.8" text-anchor="middle" font-size="6.6" fill="#262626" class="r">AY</text>
<text x="65.02" y="329.8" text-anchor="middle" font-size="6.6" fill="#262626" class="r">SH</text>
<text x="77.66" y="329.8" text-anchor="middle" font-size="6.6" fill="#262626" class="r">PR</text>
<text x="90.30" y="329.8" text-anchor="middle" font-size="6.6" fill="#262626" class="r">PN</text>
<text x="102.94" y="329.8" text-anchor="middle" font-size="6.6" fill="#262626" class="r">VA</text>
<text x="115.58" y="329.8" text-anchor="middle" font-size="6.6" fill="#262626" class="r">TA</text>
<text x="128.22" y="329.8" text-anchor="middle" font-size="6.6" fill="#262626" class="r">ML</text>
<text x="140.86" y="329.8" text-anchor="middle" font-size="6.6" fill="#262626" class="r">LO</text>
<text x="153.50" y="329.8" text-anchor="middle" font-size="6.6" fill="#262626" class="r">SB</text>
<text x="166.14" y="329.8" text-anchor="middle" font-size="6.6" fill="#262626" class="r">MT</text>
<text x="178.78" y="329.8" text-anchor="middle" font-size="6.6" fill="#262626" class="r">LC</text>
<text x="191.42" y="329.8" text-anchor="middle" font-size="6.6" fill="#262626" class="r">SS</text>
<text x="204.06" y="329.8" text-anchor="middle" font-size="6.6" fill="#262626" class="r">PL</text>
<text x="103.84" y="181.90" font-size="6.2" font-weight="bold" fill="#111" class="b" textLength="24.08" lengthAdjust="spacingAndGlyphs">(D) MFO</text>
<text x="97.83" y="341.00" font-size="6.5" font-weight="bold" fill="#111" class="b" textLength="35.00" lengthAdjust="spacingAndGlyphs">Populations</text>
<text transform="rotate(-90)" x="-277.94" y="4.80" font-size="6.0" font-weight="bold" fill="#111" class="b" textLength="45.14" lengthAdjust="spacingAndGlyphs">nmol cit/mg ptn</text>
<line x1="255" y1="244.5" x2="451" y2="244.5" stroke="#8a8a8a" stroke-width="1" stroke-dasharray="1 1"/>
<path d="M263.30,252.00V266.00M261.50,252.00H265.10M261.50,266.00H265.10" stroke="#3c3c3c" stroke-width="0.75" fill="none"/>
<path d="M258.50,259.30H268.10" stroke="#5a5a5a" stroke-width="0.9" fill="none"/>
<path d="M263.02,242.44L264.22,244.66L261.82,244.66ZM263.29,268.54L264.49,270.76L262.09,270.76ZM261.29,254.51L262.49,256.73L260.09,256.73ZM261.45,257.47L262.65,259.69L260.25,259.69ZM261.88,253.04L263.08,255.26L260.68,255.26ZM263.58,252.67L264.78,254.89L262.38,254.89ZM261.01,267.72L262.21,269.94L259.81,269.94ZM264.59,258.49L265.79,260.71L263.39,260.71ZM266.31,256.84L267.51,259.06L265.11,259.06ZM264.34,265.48L265.54,267.70L263.14,267.70ZM261.25,265.57L262.45,267.79L260.05,267.79ZM266.32,264.95L267.52,267.17L265.12,267.17ZM260.95,253.20L262.15,255.42L259.75,255.42ZM260.45,266.88L261.65,269.10L259.25,269.10ZM264.71,264.03L265.91,266.25L263.51,266.25ZM262.75,251.01L263.95,253.23L261.55,253.23ZM263.43,253.25L264.63,255.47L262.23,255.47ZM265.22,261.94L266.42,264.16L264.02,264.16ZM263.51,250.92L264.71,253.14L262.31,253.14ZM261.40,251.23L262.60,253.45L260.20,253.45ZM263.90,251.43L265.10,253.65L262.70,253.65ZM263.42,262.26L264.62,264.48L262.22,264.48ZM265.63,252.77L266.83,254.99L264.43,254.99ZM263.32,256.82L264.52,259.04L262.12,259.04ZM261.04,261.92L262.24,264.14L259.84,264.14ZM265.45,266.25L266.65,268.47L264.25,268.47ZM263.51,265.67L264.71,267.89L262.31,267.89ZM262.09,263.61L263.29,265.83L260.89,265.83ZM260.21,262.24L261.41,264.46L259.01,264.46ZM263.34,245.59L264.54,247.81L262.14,247.81ZM263.35,278.04L264.55,280.26L262.15,280.26Z" fill="#1818ee" fill-opacity="0.42" stroke="#1818ee" stroke-width="0.6"/>
<path d="M276.02,240.00V258.40M274.22,240.00H277.82M274.22,258.40H277.82" stroke="#3c3c3c" stroke-width="0.75" fill="none"/>
<path d="M271.22,249.20H280.82" stroke="#5a5a5a" stroke-width="0.9" fill="none"/>
<path d="M276.31,234.74L277.51,236.96L275.11,236.96ZM276.06,262.74L277.26,264.96L274.86,264.96ZM275.98,255.33L277.18,257.55L274.78,257.55ZM273.66,251.74L274.86,253.96L272.46,253.96ZM273.77,250.55L274.97,252.77L272.57,252.77ZM278.22,255.84L279.42,258.06L277.02,258.06ZM278.36,249.99L279.56,252.21L277.16,252.21ZM273.38,253.04L274.58,255.26L272.18,255.26ZM274.20,247.82L275.40,250.04L273.00,250.04ZM276.07,249.89L277.27,252.11L274.87,252.11ZM273.72,254.55L274.92,256.77L272.52,256.77ZM274.88,245.48L276.08,247.70L273.68,247.70ZM277.91,244.74L279.11,246.96L276.71,246.96ZM277.12,253.60L278.32,255.82L275.92,255.82ZM274.07,255.26L275.27,257.48L272.87,257.48ZM276.30,247.84L277.50,250.06L275.10,250.06ZM278.03,246.99L279.23,249.21L276.83,249.21ZM276.06,251.90L277.26,254.12L274.86,254.12ZM273.73,243.44L274.93,245.66L272.53,245.66ZM273.88,255.63L275.08,257.85L272.68,257.85ZM274.28,246.69L275.48,248.91L273.08,248.91ZM273.85,247.12L275.05,249.34L272.65,249.34ZM277.99,251.89L279.19,254.11L276.79,254.11ZM278.89,248.15L280.09,250.37L277.69,250.37ZM275.86,244.40L277.06,246.62L274.66,246.62ZM273.80,256.55L275.00,258.77L272.60,258.77ZM276.28,222.44L277.48,224.66L275.08,224.66ZM276.17,225.34L277.37,227.56L274.97,227.56Z" fill="none" stroke="#3cc494" stroke-width="0.62"/>
<circle cx="276.02" cy="216.70" r="0.95" fill="#222"/>
<path d="M288.74,231.00V245.50M286.94,231.00H290.54M286.94,245.50H290.54" stroke="#3c3c3c" stroke-width="0.75" fill="none"/>
<path d="M283.94,238.30H293.54" stroke="#5a5a5a" stroke-width="0.9" fill="none"/>
<path d="M288.77,220.90L289.81,222.20L288.77,223.50L287.73,222.20ZM288.55,251.90L289.59,253.20L288.55,254.50L287.51,253.20ZM286.36,236.90L287.40,238.20L286.36,239.50L285.32,238.20ZM287.26,238.18L288.30,239.48L287.26,240.78L286.22,239.48ZM288.58,230.36L289.62,231.66L288.58,232.96L287.54,231.66ZM288.18,243.45L289.22,244.75L288.18,246.05L287.14,244.75ZM285.86,238.94L286.90,240.24L285.86,241.54L284.82,240.24ZM286.46,245.97L287.50,247.27L286.46,248.57L285.42,247.27ZM288.44,238.15L289.48,239.45L288.44,240.75L287.40,239.45ZM288.58,228.47L289.62,229.77L288.58,231.07L287.54,229.77ZM288.97,247.09L290.01,248.39L288.97,249.69L287.93,248.39ZM288.92,223.74L289.96,225.04L288.92,226.34L287.88,225.04ZM287.26,236.37L288.30,237.67L287.26,238.97L286.22,237.67ZM287.58,244.95L288.62,246.25L287.58,247.55L286.54,246.25ZM291.81,244.39L292.85,245.69L291.81,246.99L290.77,245.69ZM290.89,231.45L291.93,232.75L290.89,234.05L289.85,232.75ZM290.57,224.35L291.61,225.65L290.57,226.95L289.53,225.65ZM286.93,231.33L287.97,232.63L286.93,233.93L285.89,232.63ZM287.79,240.09L288.83,241.39L287.79,242.69L286.75,241.39ZM289.50,244.83L290.54,246.13L289.50,247.43L288.46,246.13ZM290.90,233.73L291.94,235.03L290.90,236.33L289.86,235.03ZM287.28,245.87L288.32,247.17L287.28,248.47L286.24,247.17ZM289.16,241.42L290.20,242.72L289.16,244.02L288.12,242.72ZM287.34,237.42L288.38,238.72L287.34,240.02L286.30,238.72ZM288.20,248.84L289.24,250.14L288.20,251.44L287.16,250.14ZM290.11,239.58L291.15,240.88L290.11,242.18L289.07,240.88ZM290.43,236.71L291.47,238.01L290.43,239.31L289.39,238.01ZM288.65,232.60L289.69,233.90L288.65,235.20L287.61,233.90Z" fill="none" stroke="#b03838" stroke-width="0.62"/>
<circle cx="288.74" cy="213.00" r="0.95" fill="#222"/>
<path d="M301.46,253.00V263.50M299.66,253.00H303.26M299.66,263.50H303.26" stroke="#3c3c3c" stroke-width="0.75" fill="none"/>
<path d="M296.66,258.40H306.26" stroke="#5a5a5a" stroke-width="0.9" fill="none"/>
<path d="M303.78,247.30L304.82,248.60L303.78,249.90L302.74,248.60ZM301.74,264.90L302.78,266.20L301.74,267.50L300.70,266.20ZM303.74,253.09L304.78,254.39L303.74,255.69L302.70,254.39ZM302.78,252.46L303.82,253.76L302.78,255.06L301.74,253.76ZM303.60,254.96L304.64,256.26L303.60,257.56L302.56,256.26ZM301.65,257.16L302.69,258.46L301.65,259.76L300.61,258.46ZM301.93,258.36L302.97,259.66L301.93,260.96L300.89,259.66ZM299.04,257.03L300.08,258.33L299.04,259.63L298.00,258.33ZM303.63,263.40L304.67,264.70L303.63,266.00L302.59,264.70ZM301.43,259.85L302.47,261.15L301.43,262.45L300.39,261.15ZM301.55,255.21L302.59,256.51L301.55,257.81L300.51,256.51ZM301.38,248.33L302.42,249.63L301.38,250.93L300.34,249.63ZM300.01,258.64L301.05,259.94L300.01,261.24L298.97,259.94ZM299.22,256.74L300.26,258.04L299.22,259.34L298.18,258.04ZM298.93,262.93L299.97,264.23L298.93,265.53L297.89,264.23ZM300.53,253.43L301.57,254.73L300.53,256.03L299.49,254.73ZM303.44,258.05L304.48,259.35L303.44,260.65L302.40,259.35ZM303.31,263.29L304.35,264.59L303.31,265.89L302.27,264.59ZM298.53,260.23L299.57,261.53L298.53,262.83L297.49,261.53ZM300.38,255.55L301.42,256.85L300.38,258.15L299.34,256.85ZM301.96,256.15L303.00,257.45L301.96,258.75L300.92,257.45ZM301.18,260.45L302.22,261.75L301.18,263.05L300.14,261.75ZM299.22,258.82L300.26,260.12L299.22,261.42L298.18,260.12ZM298.54,255.46L299.58,256.76L298.54,258.06L297.50,256.76ZM303.43,261.27L304.47,262.57L303.43,263.87L302.39,262.57ZM301.21,262.96L302.25,264.26L301.21,265.56L300.17,264.26Z" fill="#b23ee6" fill-opacity="0.42" stroke="#b23ee6" stroke-width="0.6"/>
<path d="M314.18,246.00V258.50M312.38,246.00H315.98M312.38,258.50H315.98" stroke="#3c3c3c" stroke-width="0.75" fill="none"/>
<path d="M309.38,252.30H318.98" stroke="#5a5a5a" stroke-width="0.9" fill="none"/>
<path d="M315.38,239.50L316.42,240.80L315.38,242.10L314.34,240.80ZM312.22,261.90L313.26,263.20L312.22,264.50L311.18,263.20ZM314.25,252.32L315.29,253.62L314.25,254.92L313.21,253.62ZM314.01,249.14L315.05,250.44L314.01,251.74L312.97,250.44ZM311.60,242.33L312.64,243.63L311.60,244.93L310.56,243.63ZM315.62,244.70L316.66,246.00L315.62,247.30L314.58,246.00ZM315.12,243.94L316.16,245.24L315.12,246.54L314.08,245.24ZM316.48,247.63L317.52,248.93L316.48,250.23L315.44,248.93ZM316.25,251.33L317.29,252.63L316.25,253.93L315.21,252.63ZM315.99,248.84L317.03,250.14L315.99,251.44L314.95,250.14ZM311.77,243.95L312.81,245.25L311.77,246.55L310.73,245.25ZM314.20,245.38L315.24,246.68L314.20,247.98L313.16,246.68ZM315.41,249.18L316.45,250.48L315.41,251.78L314.37,250.48ZM313.06,259.65L314.10,260.95L313.06,262.25L312.02,260.95ZM314.38,260.90L315.42,262.20L314.38,263.50L313.34,262.20ZM313.55,243.49L314.59,244.79L313.55,246.09L312.51,244.79ZM316.32,260.34L317.36,261.64L316.32,262.94L315.28,261.64ZM316.27,248.86L317.31,250.16L316.27,251.46L315.23,250.16ZM314.12,258.03L315.16,259.33L314.12,260.63L313.08,259.33ZM316.08,241.87L317.12,243.17L316.08,244.47L315.04,243.17ZM313.68,250.73L314.72,252.03L313.68,253.33L312.64,252.03ZM315.63,244.52L316.67,245.82L315.63,247.12L314.59,245.82ZM312.01,246.14L313.05,247.44L312.01,248.74L310.97,247.44ZM314.09,241.21L315.13,242.51L314.09,243.81L313.05,242.51ZM311.87,249.90L312.91,251.20L311.87,252.50L310.83,251.20ZM314.21,246.12L315.25,247.42L314.21,248.72L313.17,247.42ZM314.08,231.10L315.12,232.40L314.08,233.70L313.04,232.40ZM314.39,266.30L315.43,267.60L314.39,268.90L313.35,267.60Z" fill="#f29022" fill-opacity="0.42" stroke="#f29022" stroke-width="0.6"/>
<path d="M326.90,234.20V254.00M325.10,234.20H328.70M325.10,254.00H328.70" stroke="#3c3c3c" stroke-width="0.75" fill="none"/>
<path d="M322.10,244.10H331.70" stroke="#5a5a5a" stroke-width="0.9" fill="none"/>
<path d="M326.96,217.64L328.16,219.86L325.76,219.86ZM327.07,258.34L328.27,260.56L325.87,260.56ZM325.46,243.21L326.66,245.43L324.26,245.43ZM324.68,247.94L325.88,250.16L323.48,250.16ZM328.39,253.12L329.59,255.34L327.19,255.34ZM328.06,243.69L329.26,245.91L326.86,245.91ZM329.08,244.59L330.28,246.81L327.88,246.81ZM325.80,249.63L327.00,251.85L324.60,251.85ZM324.74,240.40L325.94,242.62L323.54,242.62ZM326.96,235.14L328.16,237.36L325.76,237.36ZM327.16,240.05L328.36,242.27L325.96,242.27ZM325.90,244.49L327.10,246.71L324.70,246.71ZM326.77,251.71L327.97,253.93L325.57,253.93ZM329.50,244.44L330.70,246.66L328.30,246.66ZM326.96,245.18L328.16,247.40L325.76,247.40ZM328.10,246.62L329.30,248.84L326.90,248.84ZM329.10,250.85L330.30,253.07L327.90,253.07ZM326.68,255.17L327.88,257.39L325.48,257.39ZM326.04,245.22L327.24,247.44L324.84,247.44ZM327.43,249.27L328.63,251.49L326.23,251.49ZM325.75,238.58L326.95,240.80L324.55,240.80ZM324.62,244.30L325.82,246.52L323.42,246.52ZM323.97,251.96L325.17,254.18L322.77,254.18ZM324.51,254.62L325.71,256.84L323.31,256.84ZM325.73,244.19L326.93,246.41L324.53,246.41ZM329.26,241.77L330.46,243.99L328.06,243.99ZM326.88,242.79L328.08,245.01L325.68,245.01ZM325.62,250.29L326.82,252.51L324.42,252.51Z" fill="#e6409e" fill-opacity="0.42" stroke="#e6409e" stroke-width="0.6"/>
<circle cx="326.90" cy="211.10" r="0.95" fill="#222"/>
<path d="M339.62,250.80V273.50M337.82,250.80H341.42M337.82,273.50H341.42" stroke="#3c3c3c" stroke-width="0.75" fill="none"/>
<path d="M334.82,262.20H344.42" stroke="#5a5a5a" stroke-width="0.9" fill="none"/>
<path d="M339.74,247.34L340.94,249.56L338.54,249.56ZM339.53,273.64L340.73,275.86L338.33,275.86ZM341.79,256.30L342.99,258.52L340.59,258.52ZM338.28,264.94L339.48,267.16L337.08,267.16ZM341.87,262.17L343.07,264.39L340.67,264.39ZM341.90,253.19L343.10,255.41L340.70,255.41ZM338.46,269.06L339.66,271.28L337.26,271.28ZM338.04,269.45L339.24,271.67L336.84,271.67ZM339.51,261.06L340.71,263.28L338.31,263.28ZM339.59,249.84L340.79,252.06L338.39,252.06ZM337.69,252.90L338.89,255.12L336.49,255.12ZM342.21,270.46L343.41,272.68L341.01,272.68ZM337.28,271.38L338.48,273.60L336.08,273.60ZM341.78,262.85L342.98,265.07L340.58,265.07ZM339.89,255.20L341.09,257.42L338.69,257.42ZM342.30,261.45L343.50,263.67L341.10,263.67ZM338.42,256.29L339.62,258.51L337.22,258.51ZM340.90,268.85L342.10,271.07L339.70,271.07ZM339.58,268.86L340.78,271.08L338.38,271.08ZM339.51,263.49L340.71,265.71L338.31,265.71ZM342.67,267.62L343.87,269.84L341.47,269.84ZM339.60,270.40L340.80,272.62L338.40,272.62ZM341.66,273.00L342.86,275.22L340.46,275.22ZM341.71,264.47L342.91,266.69L340.51,266.69ZM339.78,253.02L340.98,255.24L338.58,255.24ZM337.55,262.89L338.75,265.11L336.35,265.11Z" fill="none" stroke="#b48a48" stroke-width="0.62"/>
<path d="M352.34,281.20V313.30M350.54,281.20H354.14M350.54,313.30H354.14" stroke="#3c3c3c" stroke-width="0.75" fill="none"/>
<path d="M347.54,297.20H357.14" stroke="#5a5a5a" stroke-width="0.9" fill="none"/>
<path d="M349.75,279.74L350.95,281.96L348.55,281.96ZM349.69,313.74L350.89,315.96L348.49,315.96ZM352.50,281.32L353.70,283.54L351.30,283.54ZM355.10,282.28L356.30,284.50L353.90,284.50ZM352.78,285.80L353.98,288.02L351.58,288.02ZM349.35,286.67L350.55,288.89L348.15,288.89ZM352.48,288.57L353.68,290.79L351.28,290.79ZM352.47,291.91L353.67,294.13L351.27,294.13ZM355.03,293.17L356.23,295.39L353.83,295.39ZM352.44,296.22L353.64,298.44L351.24,298.44ZM355.16,297.17L356.36,299.39L353.96,299.39ZM352.44,299.43L353.64,301.65L351.24,301.65ZM353.73,301.99L354.93,304.21L352.53,304.21ZM352.44,304.63L353.64,306.85L351.24,306.85ZM350.44,306.40L351.64,308.62L349.24,308.62ZM353.65,309.39L354.85,311.61L352.45,311.61ZM355.55,311.47L356.75,313.69L354.35,313.69ZM352.29,311.89L353.49,314.11L351.09,314.11ZM352.62,259.74L353.82,261.96L351.42,261.96ZM352.36,265.94L353.56,268.16L351.16,268.16ZM352.22,269.24L353.42,271.46L351.02,271.46Z" fill="none" stroke="#8c90d0" stroke-width="0.62"/>
<circle cx="352.34" cy="256.40" r="0.95" fill="#222"/>
<path d="M365.06,231.00V254.40M363.26,231.00H366.86M363.26,254.40H366.86" stroke="#3c3c3c" stroke-width="0.75" fill="none"/>
<path d="M360.26,242.70H369.86" stroke="#5a5a5a" stroke-width="0.9" fill="none"/>
<path d="M366.68,226.74L367.88,228.96L365.48,228.96ZM365.07,254.74L366.27,256.96L363.87,256.96ZM365.35,228.77L366.55,230.99L364.15,230.99ZM362.69,235.80L363.89,238.02L361.49,238.02ZM364.52,238.05L365.72,240.27L363.32,240.27ZM364.35,227.11L365.55,229.33L363.15,229.33ZM365.04,233.48L366.24,235.70L363.84,235.70ZM364.76,237.96L365.96,240.18L363.56,240.18ZM366.73,236.56L367.93,238.78L365.53,238.78ZM366.89,248.50L368.09,250.72L365.69,250.72ZM365.09,231.09L366.29,233.31L363.89,233.31ZM363.51,238.60L364.71,240.82L362.31,240.82ZM367.17,230.00L368.37,232.22L365.97,232.22ZM367.10,239.36L368.30,241.58L365.90,241.58ZM362.10,237.09L363.30,239.31L360.90,239.31ZM362.72,231.59L363.92,233.81L361.52,233.81ZM367.05,232.23L368.25,234.45L365.85,234.45ZM363.63,235.08L364.83,237.30L362.43,237.30ZM368.04,236.62L369.24,238.84L366.84,238.84ZM364.83,250.97L366.03,253.19L363.63,253.19ZM365.65,237.65L366.85,239.87L364.45,239.87ZM366.65,239.85L367.85,242.07L365.45,242.07ZM364.78,245.23L365.98,247.45L363.58,247.45ZM365.21,248.27L366.41,250.49L364.01,250.49ZM365.30,235.80L366.50,238.02L364.10,238.02ZM362.99,229.23L364.19,231.45L361.79,231.45ZM364.82,209.54L366.02,211.76L363.62,211.76ZM364.98,216.54L366.18,218.76L363.78,218.76ZM365.14,261.54L366.34,263.76L363.94,263.76Z" fill="none" stroke="#f0a6d6" stroke-width="0.62"/>
<circle cx="365.06" cy="205.30" r="0.95" fill="#222"/>
<path d="M377.78,287.60V312.30M375.98,287.60H379.58M375.98,312.30H379.58" stroke="#3c3c3c" stroke-width="0.75" fill="none"/>
<path d="M372.98,300.20H382.58" stroke="#5a5a5a" stroke-width="0.9" fill="none"/>
<path d="M375.07,275.74L376.27,277.96L373.87,277.96ZM374.98,314.04L376.18,316.26L373.78,316.26ZM377.90,275.92L379.10,278.14L376.70,278.14ZM380.83,279.45L382.03,281.67L379.63,281.67ZM377.71,280.13L378.91,282.35L376.51,282.35ZM374.82,281.98L376.02,284.20L373.62,284.20ZM375.03,285.10L376.23,287.32L373.83,287.32ZM378.06,286.30L379.26,288.52L376.86,288.52ZM375.66,288.35L376.86,290.57L374.46,290.57ZM382.01,289.23L383.21,291.45L380.81,291.45ZM379.63,291.15L380.83,293.37L378.43,293.37ZM377.78,293.43L378.98,295.65L376.58,295.65ZM375.40,295.50L376.60,297.72L374.20,297.72ZM379.60,297.67L380.80,299.89L378.40,299.89ZM377.86,299.89L379.06,302.11L376.66,302.11ZM374.95,301.77L376.15,303.99L373.75,303.99ZM378.06,303.23L379.26,305.45L376.86,305.45ZM380.31,304.47L381.51,306.69L379.11,306.69ZM377.85,306.73L379.05,308.95L376.65,308.95ZM380.80,310.18L382.00,312.40L379.60,312.40ZM377.73,310.76L378.93,312.98L376.53,312.98ZM377.97,313.65L379.17,315.87L376.77,315.87Z" fill="none" stroke="#ea4a4e" stroke-width="0.62"/>
<circle cx="377.78" cy="273.40" r="0.95" fill="#222"/>
<path d="M390.50,243.00V258.00M388.70,243.00H392.30M388.70,258.00H392.30" stroke="#3c3c3c" stroke-width="0.75" fill="none"/>
<path d="M385.70,250.40H395.30" stroke="#5a5a5a" stroke-width="0.9" fill="none"/>
<path d="M390.63,240.94L391.83,243.16L389.43,243.16ZM390.29,267.84L391.49,270.06L389.09,270.06ZM392.94,241.21L394.14,243.43L391.74,243.43ZM392.60,241.14L393.80,243.36L391.40,243.36ZM390.54,242.18L391.74,244.40L389.34,244.40ZM389.55,248.55L390.75,250.77L388.35,250.77ZM393.56,251.01L394.76,253.23L392.36,253.23ZM390.21,250.82L391.41,253.04L389.01,253.04ZM388.47,241.26L389.67,243.48L387.27,243.48ZM392.71,246.57L393.91,248.79L391.51,248.79ZM389.24,256.40L390.44,258.62L388.04,258.62ZM391.33,245.56L392.53,247.78L390.13,247.78ZM390.55,254.73L391.75,256.95L389.35,256.95ZM388.84,253.39L390.04,255.61L387.64,255.61ZM390.60,245.53L391.80,247.75L389.40,247.75ZM387.70,251.35L388.90,253.57L386.50,253.57ZM388.93,241.81L390.13,244.03L387.73,244.03ZM393.21,246.45L394.41,248.67L392.01,248.67ZM388.38,253.42L389.58,255.64L387.18,255.64ZM391.99,249.25L393.19,251.47L390.79,251.47ZM392.49,245.82L393.69,248.04L391.29,248.04ZM388.42,244.77L389.62,246.99L387.22,246.99ZM391.15,245.59L392.35,247.81L389.95,247.81ZM391.75,244.01L392.95,246.23L390.55,246.23ZM392.85,254.91L394.05,257.13L391.65,257.13ZM388.18,245.94L389.38,248.16L386.98,248.16ZM390.65,230.74L391.85,232.96L389.45,232.96ZM390.53,235.84L391.73,238.06L389.33,238.06Z" fill="none" stroke="#287e5c" stroke-width="0.62"/>
<circle cx="390.50" cy="227.20" r="0.95" fill="#222"/>
<path d="M403.22,257.40V268.00M401.42,257.40H405.02M401.42,268.00H405.02" stroke="#3c3c3c" stroke-width="0.75" fill="none"/>
<path d="M398.42,262.70H408.02" stroke="#5a5a5a" stroke-width="0.9" fill="none"/>
<path d="M402.33,246.50a1.05,1.05 0 1,0 2.1,0a1.05,1.05 0 1,0 -2.1,0M402.38,272.00a1.05,1.05 0 1,0 2.1,0a1.05,1.05 0 1,0 -2.1,0M401.87,262.59a1.05,1.05 0 1,0 2.1,0a1.05,1.05 0 1,0 -2.1,0M399.89,259.20a1.05,1.05 0 1,0 2.1,0a1.05,1.05 0 1,0 -2.1,0M404.35,253.55a1.05,1.05 0 1,0 2.1,0a1.05,1.05 0 1,0 -2.1,0M400.77,264.24a1.05,1.05 0 1,0 2.1,0a1.05,1.05 0 1,0 -2.1,0M404.02,258.45a1.05,1.05 0 1,0 2.1,0a1.05,1.05 0 1,0 -2.1,0M400.58,264.68a1.05,1.05 0 1,0 2.1,0a1.05,1.05 0 1,0 -2.1,0M403.33,256.76a1.05,1.05 0 1,0 2.1,0a1.05,1.05 0 1,0 -2.1,0M402.04,265.70a1.05,1.05 0 1,0 2.1,0a1.05,1.05 0 1,0 -2.1,0M401.67,255.98a1.05,1.05 0 1,0 2.1,0a1.05,1.05 0 1,0 -2.1,0M400.82,270.47a1.05,1.05 0 1,0 2.1,0a1.05,1.05 0 1,0 -2.1,0M402.02,267.12a1.05,1.05 0 1,0 2.1,0a1.05,1.05 0 1,0 -2.1,0M399.57,269.18a1.05,1.05 0 1,0 2.1,0a1.05,1.05 0 1,0 -2.1,0M402.33,253.97a1.05,1.05 0 1,0 2.1,0a1.05,1.05 0 1,0 -2.1,0M402.39,269.20a1.05,1.05 0 1,0 2.1,0a1.05,1.05 0 1,0 -2.1,0M400.84,267.69a1.05,1.05 0 1,0 2.1,0a1.05,1.05 0 1,0 -2.1,0M404.99,260.34a1.05,1.05 0 1,0 2.1,0a1.05,1.05 0 1,0 -2.1,0M399.37,262.64a1.05,1.05 0 1,0 2.1,0a1.05,1.05 0 1,0 -2.1,0M404.01,264.79a1.05,1.05 0 1,0 2.1,0a1.05,1.05 0 1,0 -2.1,0M399.57,255.14a1.05,1.05 0 1,0 2.1,0a1.05,1.05 0 1,0 -2.1,0M402.00,258.00a1.05,1.05 0 1,0 2.1,0a1.05,1.05 0 1,0 -2.1,0M403.98,268.27a1.05,1.05 0 1,0 2.1,0a1.05,1.05 0 1,0 -2.1,0M402.01,260.03a1.05,1.05 0 1,0 2.1,0a1.05,1.05 0 1,0 -2.1,0M404.20,262.50a1.05,1.05 0 1,0 2.1,0a1.05,1.05 0 1,0 -2.1,0M400.78,252.88a1.05,1.05 0 1,0 2.1,0a1.05,1.05 0 1,0 -2.1,0" fill="none" stroke="#f2c290" stroke-width="0.62"/>
<path d="M415.94,255.50V265.20M414.14,255.50H417.74M414.14,265.20H417.74" stroke="#3c3c3c" stroke-width="0.75" fill="none"/>
<path d="M411.14,260.30H420.74" stroke="#5a5a5a" stroke-width="0.9" fill="none"/>
<path d="M414.79,246.20h2.0v2.0h-2.0ZM415.18,268.10h2.0v2.0h-2.0ZM416.39,257.95h2.0v2.0h-2.0ZM414.68,259.47h2.0v2.0h-2.0ZM412.67,261.81h2.0v2.0h-2.0ZM415.62,255.34h2.0v2.0h-2.0ZM415.16,261.38h2.0v2.0h-2.0ZM414.90,253.51h2.0v2.0h-2.0ZM414.06,255.48h2.0v2.0h-2.0ZM417.64,261.26h2.0v2.0h-2.0ZM417.86,256.95h2.0v2.0h-2.0ZM416.32,252.26h2.0v2.0h-2.0ZM416.50,263.00h2.0v2.0h-2.0ZM414.39,266.71h2.0v2.0h-2.0ZM412.56,265.60h2.0v2.0h-2.0ZM413.84,256.70h2.0v2.0h-2.0ZM416.95,267.16h2.0v2.0h-2.0ZM417.32,254.06h2.0v2.0h-2.0ZM412.75,253.27h2.0v2.0h-2.0ZM415.22,264.83h2.0v2.0h-2.0ZM416.13,261.00h2.0v2.0h-2.0ZM411.94,257.82h2.0v2.0h-2.0ZM417.59,256.13h2.0v2.0h-2.0ZM414.47,256.94h2.0v2.0h-2.0ZM414.68,251.28h2.0v2.0h-2.0ZM412.81,255.42h2.0v2.0h-2.0Z" fill="#22e02a" fill-opacity="0.42" stroke="#22e02a" stroke-width="0.6"/>
<path d="M428.66,253.30V269.20M426.86,253.30H430.46M426.86,269.20H430.46" stroke="#3c3c3c" stroke-width="0.75" fill="none"/>
<path d="M423.86,261.20H433.46" stroke="#5a5a5a" stroke-width="0.9" fill="none"/>
<path d="M428.64,248.84L429.84,251.06L427.44,251.06ZM428.52,272.04L429.72,274.26L427.32,274.26ZM427.72,268.07L428.92,270.29L426.52,270.29ZM429.63,265.70L430.83,267.92L428.43,267.92ZM426.27,257.50L427.47,259.72L425.07,259.72ZM429.78,254.16L430.98,256.38L428.58,256.38ZM430.69,251.90L431.89,254.12L429.49,254.12ZM430.49,271.32L431.69,273.54L429.29,273.54ZM430.79,258.22L431.99,260.44L429.59,260.44ZM428.73,261.15L429.93,263.37L427.53,263.37ZM430.74,261.48L431.94,263.70L429.54,263.70ZM428.66,267.71L429.86,269.93L427.46,269.93ZM427.34,259.88L428.54,262.10L426.14,262.10ZM428.64,256.68L429.84,258.90L427.44,258.90ZM426.56,253.67L427.76,255.89L425.36,255.89ZM426.72,262.42L427.92,264.64L425.52,264.64ZM428.85,265.50L430.05,267.72L427.65,267.72ZM428.42,269.96L429.62,272.18L427.22,272.18ZM426.77,263.81L427.97,266.03L425.57,266.03ZM430.48,254.50L431.68,256.72L429.28,256.72ZM426.27,266.89L427.47,269.11L425.07,269.11ZM428.87,257.36L430.07,259.58L427.67,259.58ZM428.92,263.96L430.12,266.18L427.72,266.18ZM426.16,251.84L427.36,254.06L424.96,254.06ZM428.67,252.48L429.87,254.70L427.47,254.70ZM430.77,266.75L431.97,268.97L429.57,268.97ZM428.73,240.14L429.93,242.36L427.53,242.36Z" fill="none" stroke="#a2c4f4" stroke-width="0.62"/>
<path d="M441.38,245.60V263.10M439.58,245.60H443.18M439.58,263.10H443.18" stroke="#3c3c3c" stroke-width="0.75" fill="none"/>
<path d="M436.58,254.40H446.18" stroke="#5a5a5a" stroke-width="0.9" fill="none"/>
<path d="M441.41,236.84L442.61,239.06L440.21,239.06ZM441.42,268.84L442.62,271.06L440.22,271.06ZM441.39,265.22L442.59,267.44L440.19,267.44ZM441.43,256.17L442.63,258.39L440.23,258.39ZM441.66,253.93L442.86,256.15L440.46,256.15ZM441.41,257.89L442.61,260.11L440.21,260.11ZM439.06,252.16L440.26,254.38L437.86,254.38ZM443.64,256.61L444.84,258.83L442.44,258.83ZM440.00,257.43L441.20,259.65L438.80,259.65ZM444.36,243.34L445.56,245.56L443.16,245.56ZM441.23,243.89L442.43,246.11L440.03,246.11ZM441.82,250.70L443.02,252.92L440.62,252.92ZM440.91,256.48L442.11,258.70L439.71,258.70ZM443.73,246.73L444.93,248.95L442.53,248.95ZM443.35,251.51L444.55,253.73L442.15,253.73ZM439.00,265.45L440.20,267.67L437.80,267.67ZM441.84,249.83L443.04,252.05L440.64,252.05ZM441.50,247.46L442.70,249.68L440.30,249.68ZM442.07,242.15L443.27,244.37L440.87,244.37ZM439.47,243.24L440.67,245.46L438.27,245.46ZM443.49,266.11L444.69,268.33L442.29,268.33ZM441.27,260.39L442.47,262.61L440.07,262.61ZM443.51,254.52L444.71,256.74L442.31,256.74ZM443.53,250.57L444.73,252.79L442.33,252.79ZM441.35,251.65L442.55,253.87L440.15,253.87ZM441.99,257.02L443.19,259.24L440.79,259.24ZM441.23,231.64L442.43,233.86L440.03,233.86Z" fill="none" stroke="#c8c444" stroke-width="0.62"/>
<path d="M254.3,195.8V316H451" stroke="#8c8c8c" stroke-width="1" fill="none"/>
<path d="M251.9,195.8H254.3M251.9,225.9H254.3M251.9,256.0H254.3M251.9,286.0H254.3M251.9,316.0H254.3" stroke="#8c8c8c" stroke-width="0.8" fill="none"/>
<text x="251.45" y="198.08" text-anchor="end" font-size="6.5" fill="#262626" class="r">0.4</text>
<text x="251.45" y="228.18" text-anchor="end" font-size="6.5" fill="#262626" class="r">0.3</text>
<text x="251.45" y="258.27" text-anchor="end" font-size="6.5" fill="#262626" class="r">0.2</text>
<text x="251.45" y="288.27" text-anchor="end" font-size="6.5" fill="#262626" class="r">0.1</text>
<text x="251.45" y="318.27" text-anchor="end" font-size="6.5" fill="#262626" class="r">0.0</text>
<path d="M263.30,316v2.6M276.02,316v2.6M288.74,316v2.6M301.46,316v2.6M314.18,316v2.6M326.90,316v2.6M339.62,316v2.6M352.34,316v2.6M365.06,316v2.6M377.78,316v2.6M390.50,316v2.6M403.22,316v2.6M415.94,316v2.6M428.66,316v2.6M441.38,316v2.6" stroke="#8c8c8c" stroke-width="0.8" fill="none"/>
<text x="263.30" y="324.8" text-anchor="middle" font-size="6.6" fill="#262626" class="r">RO</text>
<text x="276.02" y="324.8" text-anchor="middle" font-size="6.6" fill="#262626" class="r">CE</text>
<text x="288.74" y="324.8" text-anchor="middle" font-size="6.6" fill="#262626" class="r">AY</text>
<text x="301.46" y="324.8" text-anchor="middle" font-size="6.6" fill="#262626" class="r">SH</text>
<text x="314.18" y="324.8" text-anchor="middle" font-size="6.6" fill="#262626" class="r">PR</text>
<text x="326.90" y="324.8" text-anchor="middle" font-size="6.6" fill="#262626" class="r">PN</text>
<text x="339.62" y="324.8" text-anchor="middle" font-size="6.6" fill="#262626" class="r">VA</text>
<text x="352.34" y="324.8" text-anchor="middle" font-size="6.6" fill="#262626" class="r">TA</text>
<text x="365.06" y="324.8" text-anchor="middle" font-size="6.6" fill="#262626" class="r">ML</text>
<text x="377.78" y="324.8" text-anchor="middle" font-size="6.6" fill="#262626" class="r">LO</text>
<text x="390.50" y="324.8" text-anchor="middle" font-size="6.6" fill="#262626" class="r">SB</text>
<text x="403.22" y="324.8" text-anchor="middle" font-size="6.6" fill="#262626" class="r">MT</text>
<text x="415.94" y="324.8" text-anchor="middle" font-size="6.6" fill="#262626" class="r">LC</text>
<text x="428.66" y="324.8" text-anchor="middle" font-size="6.6" fill="#262626" class="r">SS</text>
<text x="441.38" y="324.8" text-anchor="middle" font-size="6.6" fill="#262626" class="r">PL</text>
<text x="340.64" y="185.90" font-size="6.3" font-weight="bold" fill="#111" class="b" textLength="24.59" lengthAdjust="spacingAndGlyphs">(E) GST</text>
<text x="334.63" y="336.90" font-size="6.5" font-weight="bold" fill="#111" class="b" textLength="36.00" lengthAdjust="spacingAndGlyphs">Populations</text>
<text transform="rotate(-90)" x="-280.45" y="239.30" font-size="6.2" font-weight="bold" fill="#111" class="b" textLength="50.77" lengthAdjust="spacingAndGlyphs">nmol/mg ptn/min</text>
<line x1="494" y1="229.5" x2="685" y2="229.5" stroke="#8a8a8a" stroke-width="1" stroke-dasharray="1 1"/>
<path d="M502.00,232.00V245.00M500.20,232.00H503.80M500.20,245.00H503.80" stroke="#3c3c3c" stroke-width="0.75" fill="none"/>
<path d="M497.20,238.50H506.80" stroke="#5a5a5a" stroke-width="0.9" fill="none"/>
<path d="M501.13,226.44L502.33,228.66L499.93,228.66ZM501.84,248.44L503.04,250.66L500.64,250.66ZM503.45,237.41L504.65,239.63L502.25,239.63ZM499.08,232.17L500.28,234.39L497.88,234.39ZM503.82,237.23L505.02,239.45L502.62,239.45ZM500.00,232.13L501.20,234.35L498.80,234.35ZM499.98,241.06L501.18,243.28L498.78,243.28ZM501.16,233.53L502.36,235.75L499.96,235.75ZM499.75,236.80L500.95,239.02L498.55,239.02ZM502.23,230.88L503.43,233.10L501.03,233.10ZM499.96,240.18L501.16,242.40L498.76,242.40ZM502.66,238.26L503.86,240.48L501.46,240.48ZM501.55,239.44L502.75,241.66L500.35,241.66ZM504.85,233.29L506.05,235.51L503.65,235.51ZM498.46,236.70L499.66,238.92L497.26,238.92ZM503.66,231.16L504.86,233.38L502.46,233.38ZM502.22,236.42L503.42,238.64L501.02,238.64ZM503.30,226.74L504.50,228.96L502.10,228.96ZM501.97,236.78L503.17,239.00L500.77,239.00ZM504.01,237.26L505.21,239.48L502.81,239.48ZM499.64,233.36L500.84,235.58L498.44,235.58ZM503.49,240.23L504.69,242.45L502.29,242.45ZM504.15,234.32L505.35,236.54L502.95,236.54ZM502.13,241.87L503.33,244.09L500.93,244.09ZM505.10,232.90L506.30,235.12L503.90,235.12ZM499.34,231.74L500.54,233.96L498.14,233.96ZM504.45,234.25L505.65,236.47L503.25,236.47ZM504.22,248.32L505.42,250.54L503.02,250.54ZM502.18,228.29L503.38,230.51L500.98,230.51ZM502.22,233.33L503.42,235.55L501.02,235.55ZM502.91,253.54L504.11,255.76L501.71,255.76ZM501.89,255.34L503.09,257.56L500.69,257.56Z" fill="#1818ee" fill-opacity="0.42" stroke="#1818ee" stroke-width="0.6"/>
<path d="M514.40,219.20V241.40M512.60,219.20H516.20M512.60,241.40H516.20" stroke="#3c3c3c" stroke-width="0.75" fill="none"/>
<path d="M509.60,230.10H519.20" stroke="#5a5a5a" stroke-width="0.9" fill="none"/>
<path d="M514.16,204.04L515.36,206.26L512.96,206.26ZM514.50,242.14L515.70,244.36L513.30,244.36ZM512.31,228.63L513.51,230.85L511.11,230.85ZM514.44,237.63L515.64,239.85L513.24,239.85ZM516.48,221.14L517.68,223.36L515.28,223.36ZM516.59,230.77L517.79,232.99L515.39,232.99ZM514.69,221.89L515.89,224.11L513.49,224.11ZM514.41,227.41L515.61,229.63L513.21,229.63ZM513.11,235.35L514.31,237.57L511.91,237.57ZM514.54,233.90L515.74,236.12L513.34,236.12ZM516.26,238.76L517.46,240.98L515.06,240.98ZM514.69,224.94L515.89,227.16L513.49,227.16ZM514.29,240.00L515.49,242.22L513.09,242.22ZM511.50,231.27L512.70,233.49L510.30,233.49ZM516.54,235.40L517.74,237.62L515.34,237.62ZM516.26,234.92L517.46,237.14L515.06,237.14ZM517.07,233.23L518.27,235.45L515.87,235.45ZM514.54,232.69L515.74,234.91L513.34,234.91ZM514.35,219.71L515.55,221.93L513.15,221.93ZM513.65,232.13L514.85,234.35L512.45,234.35ZM514.52,229.94L515.72,232.16L513.32,232.16ZM516.49,227.68L517.69,229.90L515.29,229.90ZM516.00,223.66L517.20,225.88L514.80,225.88ZM512.19,222.40L513.39,224.62L510.99,224.62ZM512.68,228.59L513.88,230.81L511.48,230.81ZM513.10,226.00L514.30,228.22L511.90,228.22ZM511.46,233.89L512.66,236.11L510.26,236.11ZM517.49,225.07L518.69,227.29L516.29,227.29ZM514.38,247.44L515.58,249.66L513.18,249.66ZM514.35,250.64L515.55,252.86L513.15,252.86Z" fill="none" stroke="#3cc494" stroke-width="0.62"/>
<circle cx="514.40" cy="198.00" r="0.95" fill="#222"/>
<path d="M526.80,228.00V243.00M525.00,228.00H528.60M525.00,243.00H528.60" stroke="#3c3c3c" stroke-width="0.75" fill="none"/>
<path d="M522.00,235.40H531.60" stroke="#5a5a5a" stroke-width="0.9" fill="none"/>
<path d="M527.05,217.20L528.09,218.50L527.05,219.80L526.01,218.50ZM526.56,246.20L527.60,247.50L526.56,248.80L525.52,247.50ZM526.56,239.61L527.60,240.91L526.56,242.21L525.52,240.91ZM529.05,232.81L530.09,234.11L529.05,235.41L528.01,234.11ZM528.33,226.32L529.37,227.62L528.33,228.92L527.29,227.62ZM525.87,225.68L526.91,226.98L525.87,228.28L524.83,226.98ZM528.40,235.16L529.44,236.46L528.40,237.76L527.36,236.46ZM526.86,233.77L527.90,235.07L526.86,236.37L525.82,235.07ZM526.05,242.09L527.09,243.39L526.05,244.69L525.01,243.39ZM526.71,227.88L527.75,229.18L526.71,230.48L525.67,229.18ZM526.79,241.98L527.83,243.28L526.79,244.58L525.75,243.28ZM528.65,228.92L529.69,230.22L528.65,231.52L527.61,230.22ZM528.88,242.65L529.92,243.95L528.88,245.25L527.84,243.95ZM524.17,239.85L525.21,241.15L524.17,242.45L523.13,241.15ZM526.63,242.55L527.67,243.85L526.63,245.15L525.59,243.85ZM524.88,234.80L525.92,236.10L524.88,237.40L523.84,236.10ZM526.74,231.28L527.78,232.58L526.74,233.88L525.70,232.58ZM526.73,236.87L527.77,238.17L526.73,239.47L525.69,238.17ZM524.50,242.17L525.54,243.47L524.50,244.77L523.46,243.47ZM524.77,232.73L525.81,234.03L524.77,235.33L523.73,234.03ZM527.76,236.73L528.80,238.03L527.76,239.33L526.72,238.03ZM529.10,240.25L530.14,241.55L529.10,242.85L528.06,241.55ZM529.08,237.61L530.12,238.91L529.08,240.21L528.04,238.91ZM525.62,242.84L526.66,244.14L525.62,245.44L524.58,244.14ZM528.66,233.91L529.70,235.21L528.66,236.51L527.62,235.21ZM524.61,235.58L525.65,236.88L524.61,238.18L523.57,236.88ZM526.61,251.80L527.65,253.10L526.61,254.40L525.57,253.10ZM528.95,252.20L529.99,253.50L528.95,254.80L527.91,253.50Z" fill="none" stroke="#b03838" stroke-width="0.62"/>
<path d="M539.20,216.60V242.80M537.40,216.60H541.00M537.40,242.80H541.00" stroke="#3c3c3c" stroke-width="0.75" fill="none"/>
<path d="M534.40,229.70H544.00" stroke="#5a5a5a" stroke-width="0.9" fill="none"/>
<path d="M539.15,213.50L540.19,214.80L539.15,216.10L538.11,214.80ZM539.12,241.80L540.16,243.10L539.12,244.40L538.08,243.10ZM538.33,233.06L539.37,234.36L538.33,235.66L537.29,234.36ZM541.30,220.91L542.34,222.21L541.30,223.51L540.26,222.21ZM536.34,223.95L537.38,225.25L536.34,226.55L535.30,225.25ZM541.94,227.07L542.98,228.37L541.94,229.67L540.90,228.37ZM539.59,229.39L540.63,230.69L539.59,231.99L538.55,230.69ZM539.49,231.41L540.53,232.71L539.49,234.01L538.45,232.71ZM537.26,215.88L538.30,217.18L537.26,218.48L536.22,217.18ZM537.04,231.61L538.08,232.91L537.04,234.21L536.00,232.91ZM538.63,222.45L539.67,223.75L538.63,225.05L537.59,223.75ZM541.71,223.94L542.75,225.24L541.71,226.54L540.67,225.24ZM539.32,216.12L540.36,217.42L539.32,218.72L538.28,217.42ZM539.38,227.50L540.42,228.80L539.38,230.10L538.34,228.80ZM541.51,230.15L542.55,231.45L541.51,232.75L540.47,231.45ZM536.26,221.77L537.30,223.07L536.26,224.37L535.22,223.07ZM540.05,234.51L541.09,235.81L540.05,237.11L539.01,235.81ZM537.72,225.47L538.76,226.77L537.72,228.07L536.68,226.77ZM536.94,219.84L537.98,221.14L536.94,222.44L535.90,221.14ZM536.47,227.05L537.51,228.35L536.47,229.65L535.43,228.35ZM541.12,227.36L542.16,228.66L541.12,229.96L540.08,228.66ZM536.95,227.60L537.99,228.90L536.95,230.20L535.91,228.90ZM539.44,224.20L540.48,225.50L539.44,226.80L538.40,225.50ZM539.41,236.81L540.45,238.11L539.41,239.41L538.37,238.11ZM539.17,220.08L540.21,221.38L539.17,222.68L538.13,221.38ZM537.65,228.72L538.69,230.02L537.65,231.32L536.61,230.02ZM541.35,232.07L542.39,233.37L541.35,234.67L540.31,233.37ZM541.12,216.24L542.16,217.54L541.12,218.84L540.08,217.54ZM539.28,249.40L540.32,250.70L539.28,252.00L538.24,250.70ZM539.06,284.70L540.10,286.00L539.06,287.30L538.02,286.00Z" fill="#b23ee6" fill-opacity="0.42" stroke="#b23ee6" stroke-width="0.6"/>
<circle cx="539.20" cy="207.80" r="0.95" fill="#222"/>
<path d="M551.60,221.30V233.10M549.80,221.30H553.40M549.80,233.10H553.40" stroke="#3c3c3c" stroke-width="0.75" fill="none"/>
<path d="M546.80,227.20H556.40" stroke="#5a5a5a" stroke-width="0.9" fill="none"/>
<path d="M550.80,215.00L551.84,216.30L550.80,217.60L549.76,216.30ZM551.74,236.00L552.78,237.30L551.74,238.60L550.70,237.30ZM548.72,222.41L549.76,223.71L548.72,225.01L547.68,223.71ZM550.50,234.15L551.54,235.45L550.50,236.75L549.46,235.45ZM553.77,234.30L554.81,235.60L553.77,236.90L552.73,235.60ZM553.28,223.79L554.32,225.09L553.28,226.39L552.24,225.09ZM550.68,218.56L551.72,219.86L550.68,221.16L549.64,219.86ZM551.48,225.44L552.52,226.74L551.48,228.04L550.44,226.74ZM550.25,234.60L551.29,235.90L550.25,237.20L549.21,235.90ZM551.37,222.33L552.41,223.63L551.37,224.93L550.33,223.63ZM549.31,228.06L550.35,229.36L549.31,230.66L548.27,229.36ZM549.71,226.88L550.75,228.18L549.71,229.48L548.67,228.18ZM551.85,216.80L552.89,218.10L551.85,219.40L550.81,218.10ZM550.29,232.29L551.33,233.59L550.29,234.89L549.25,233.59ZM548.96,219.47L550.00,220.77L548.96,222.07L547.92,220.77ZM552.15,230.61L553.19,231.91L552.15,233.21L551.11,231.91ZM551.82,233.53L552.86,234.83L551.82,236.13L550.78,234.83ZM549.94,230.01L550.98,231.31L549.94,232.61L548.90,231.31ZM551.77,228.58L552.81,229.88L551.77,231.18L550.73,229.88ZM551.55,220.37L552.59,221.67L551.55,222.97L550.51,221.67ZM550.77,235.14L551.81,236.44L550.77,237.74L549.73,236.44ZM552.77,227.10L553.81,228.40L552.77,229.70L551.73,228.40ZM553.91,222.95L554.95,224.25L553.91,225.55L552.87,224.25ZM554.38,228.31L555.42,229.61L554.38,230.91L553.34,229.61ZM554.62,225.95L555.66,227.25L554.62,228.55L553.58,227.25ZM553.42,219.85L554.46,221.15L553.42,222.45L552.38,221.15ZM551.82,244.00L552.86,245.30L551.82,246.60L550.78,245.30Z" fill="#f29022" fill-opacity="0.42" stroke="#f29022" stroke-width="0.6"/>
<circle cx="551.60" cy="207.80" r="0.95" fill="#222"/>
<path d="M564.00,237.00V275.40M562.20,237.00H565.80M562.20,275.40H565.80" stroke="#3c3c3c" stroke-width="0.75" fill="none"/>
<path d="M559.20,256.30H568.80" stroke="#5a5a5a" stroke-width="0.9" fill="none"/>
<path d="M565.87,223.74L567.07,225.96L564.67,225.96ZM564.02,274.94L565.22,277.16L562.82,277.16ZM563.70,224.37L564.90,226.59L562.50,226.59ZM566.15,229.28L567.35,231.50L564.95,231.50ZM564.28,229.90L565.48,232.12L563.08,232.12ZM564.25,233.44L565.45,235.66L563.05,235.66ZM564.23,237.11L565.43,239.33L563.03,239.33ZM564.04,239.09L565.24,241.31L562.84,241.31ZM566.09,243.04L567.29,245.26L564.89,245.26ZM563.87,244.15L565.07,246.37L562.67,246.37ZM565.43,249.32L566.63,251.54L564.23,251.54ZM564.00,250.81L565.20,253.03L562.80,253.03ZM565.97,254.72L567.17,256.94L564.77,256.94ZM564.04,255.52L565.24,257.74L562.84,257.74ZM563.77,259.04L564.97,261.26L562.57,261.26ZM564.09,262.15L565.29,264.37L562.89,264.37ZM563.80,266.25L565.00,268.47L562.60,268.47ZM563.90,269.23L565.10,271.45L562.70,271.45ZM566.01,270.38L567.21,272.60L564.81,272.60ZM565.12,273.22L566.32,275.44L563.92,275.44ZM564.21,279.74L565.41,281.96L563.01,281.96ZM564.06,295.74L565.26,297.96L562.86,297.96ZM564.12,314.84L565.32,317.06L562.92,317.06Z" fill="#e6409e" fill-opacity="0.42" stroke="#e6409e" stroke-width="0.6"/>
<path d="M576.40,229.00V254.10M574.60,229.00H578.20M574.60,254.10H578.20" stroke="#3c3c3c" stroke-width="0.75" fill="none"/>
<path d="M571.60,241.40H581.20" stroke="#5a5a5a" stroke-width="0.9" fill="none"/>
<path d="M576.42,215.74L577.62,217.96L575.22,217.96ZM578.38,252.84L579.58,255.06L577.18,255.06ZM576.44,220.34L577.64,222.56L575.24,222.56ZM576.42,231.90L577.62,234.12L575.22,234.12ZM578.35,249.01L579.55,251.23L577.15,251.23ZM577.00,247.38L578.20,249.60L575.80,249.60ZM575.08,246.87L576.28,249.09L573.88,249.09ZM576.50,243.35L577.70,245.57L575.30,245.57ZM574.37,235.38L575.57,237.60L573.17,237.60ZM573.42,232.69L574.62,234.91L572.22,234.91ZM578.69,232.98L579.89,235.20L577.49,235.20ZM577.73,232.15L578.93,234.37L576.53,234.37ZM576.56,227.14L577.76,229.36L575.36,229.36ZM578.42,235.75L579.62,237.97L577.22,237.97ZM576.48,245.49L577.68,247.71L575.28,247.71ZM574.09,242.93L575.29,245.15L572.89,245.15ZM576.49,252.81L577.69,255.03L575.29,255.03ZM576.27,234.65L577.47,236.87L575.07,236.87ZM576.25,249.65L577.45,251.87L575.05,251.87ZM574.47,232.52L575.67,234.74L573.27,234.74ZM575.85,232.90L577.05,235.12L574.65,235.12ZM575.44,231.46L576.64,233.68L574.24,233.68ZM575.67,232.84L576.87,235.06L574.47,235.06ZM576.35,240.91L577.55,243.13L575.15,243.13ZM578.67,242.76L579.87,244.98L577.47,244.98ZM576.25,238.18L577.45,240.40L575.05,240.40ZM576.18,258.64L577.38,260.86L574.98,260.86ZM576.66,263.44L577.86,265.66L575.46,265.66Z" fill="none" stroke="#b48a48" stroke-width="0.62"/>
<path d="M588.80,217.00V239.50M587.00,217.00H590.60M587.00,239.50H590.60" stroke="#3c3c3c" stroke-width="0.75" fill="none"/>
<path d="M584.00,228.20H593.60" stroke="#5a5a5a" stroke-width="0.9" fill="none"/>
<path d="M588.88,203.34L590.08,205.56L587.68,205.56ZM588.51,245.94L589.71,248.16L587.31,248.16ZM588.03,218.90L589.23,221.12L586.83,221.12ZM586.16,230.10L587.36,232.32L584.96,232.32ZM590.25,217.84L591.45,220.06L589.05,220.06ZM589.12,233.76L590.32,235.98L587.92,235.98ZM587.62,233.32L588.82,235.54L586.42,235.54ZM586.90,223.15L588.10,225.37L585.70,225.37ZM588.79,224.93L589.99,227.15L587.59,227.15ZM588.93,238.19L590.13,240.41L587.73,240.41ZM590.43,221.35L591.63,223.57L589.23,223.57ZM588.54,214.15L589.74,216.37L587.34,216.37ZM588.52,230.17L589.72,232.39L587.32,232.39ZM589.63,234.00L590.83,236.22L588.43,236.22ZM588.90,216.16L590.10,218.38L587.70,218.38ZM588.89,234.63L590.09,236.85L587.69,236.85ZM590.62,229.82L591.82,232.04L589.42,232.04ZM588.64,227.52L589.84,229.74L587.44,229.74ZM590.89,226.84L592.09,229.06L589.69,229.06ZM588.55,209.82L589.75,212.04L587.35,212.04ZM590.04,213.20L591.24,215.42L588.84,215.42ZM586.61,217.39L587.81,219.61L585.41,219.61ZM590.67,235.29L591.87,237.51L589.47,237.51ZM588.94,222.90L590.14,225.12L587.74,225.12ZM586.77,226.91L587.97,229.13L585.57,229.13ZM589.25,205.20L590.45,207.42L588.05,207.42Z" fill="none" stroke="#8c90d0" stroke-width="0.62"/>
<circle cx="588.80" cy="198.00" r="0.95" fill="#222"/>
<path d="M601.20,219.20V238.30M599.40,219.20H603.00M599.40,238.30H603.00" stroke="#3c3c3c" stroke-width="0.75" fill="none"/>
<path d="M596.40,228.70H606.00" stroke="#5a5a5a" stroke-width="0.9" fill="none"/>
<path d="M601.09,203.34L602.29,205.56L599.89,205.56ZM602.76,244.04L603.96,246.26L601.56,246.26ZM599.70,236.02L600.90,238.24L598.50,238.24ZM603.29,230.46L604.49,232.68L602.09,232.68ZM598.94,228.79L600.14,231.01L597.74,231.01ZM602.14,215.24L603.34,217.46L600.94,217.46ZM599.39,231.49L600.59,233.71L598.19,233.71ZM601.20,223.57L602.40,225.79L600.00,225.79ZM600.99,226.31L602.19,228.53L599.79,228.53ZM602.00,207.26L603.20,209.48L600.80,209.48ZM601.34,230.89L602.54,233.11L600.14,233.11ZM599.62,243.86L600.82,246.08L598.42,246.08ZM601.31,242.40L602.51,244.62L600.11,244.62ZM600.30,205.61L601.50,207.83L599.10,207.83ZM603.15,217.48L604.35,219.70L601.95,219.70ZM602.78,232.45L603.98,234.67L601.58,234.67ZM603.31,235.88L604.51,238.10L602.11,238.10ZM601.32,228.83L602.52,231.05L600.12,231.05ZM601.21,238.81L602.41,241.03L600.01,241.03ZM603.56,230.42L604.76,232.64L602.36,232.64ZM603.09,219.89L604.29,222.11L601.89,222.11ZM600.99,208.96L602.19,211.18L599.79,211.18ZM601.24,217.09L602.44,219.31L600.04,219.31ZM601.33,220.65L602.53,222.87L600.13,222.87ZM599.68,219.29L600.88,221.51L598.48,221.51ZM601.34,234.77L602.54,236.99L600.14,236.99Z" fill="none" stroke="#f0a6d6" stroke-width="0.62"/>
<circle cx="601.20" cy="198.00" r="0.95" fill="#222"/>
<path d="M613.60,219.90V247.20M611.80,219.90H615.40M611.80,247.20H615.40" stroke="#3c3c3c" stroke-width="0.75" fill="none"/>
<path d="M608.80,233.20H618.40" stroke="#5a5a5a" stroke-width="0.9" fill="none"/>
<path d="M615.10,212.84L616.30,215.06L613.90,215.06ZM615.87,247.74L617.07,249.96L614.67,249.96ZM613.52,230.74L614.72,232.96L612.32,232.96ZM615.73,240.97L616.93,243.19L614.53,243.19ZM611.09,231.02L612.29,233.24L609.89,233.24ZM613.54,238.39L614.74,240.61L612.34,240.61ZM614.94,233.23L616.14,235.45L613.74,235.45ZM613.36,246.95L614.56,249.17L612.16,249.17ZM613.39,243.20L614.59,245.42L612.19,245.42ZM613.38,240.80L614.58,243.02L612.18,243.02ZM611.44,239.37L612.64,241.59L610.24,241.59ZM613.33,214.37L614.53,216.59L612.13,216.59ZM615.80,238.74L617.00,240.96L614.60,240.96ZM612.15,232.68L613.35,234.90L610.95,234.90ZM612.53,239.21L613.73,241.43L611.33,241.43ZM615.76,231.52L616.96,233.74L614.56,233.74ZM610.79,243.33L611.99,245.55L609.59,245.55ZM615.11,223.93L616.31,226.15L613.91,226.15ZM615.70,229.58L616.90,231.80L614.50,231.80ZM615.19,233.75L616.39,235.97L613.99,235.97ZM613.69,222.39L614.89,224.61L612.49,224.61ZM613.69,225.88L614.89,228.10L612.49,228.10ZM610.61,237.52L611.81,239.74L609.41,239.74ZM613.60,234.05L614.80,236.27L612.40,236.27ZM612.66,232.19L613.86,234.41L611.46,234.41ZM615.90,243.25L617.10,245.47L614.70,245.47ZM613.51,269.94L614.71,272.16L612.31,272.16ZM613.37,276.64L614.57,278.86L612.17,278.86Z" fill="none" stroke="#ea4a4e" stroke-width="0.62"/>
<path d="M626.00,229.10V269.10M624.20,229.10H627.80M624.20,269.10H627.80" stroke="#3c3c3c" stroke-width="0.75" fill="none"/>
<path d="M621.20,249.30H630.80" stroke="#5a5a5a" stroke-width="0.9" fill="none"/>
<path d="M626.25,223.44L627.45,225.66L625.05,225.66ZM626.16,270.34L627.36,272.56L624.96,272.56ZM628.39,238.53L629.59,240.75L627.19,240.75ZM625.93,237.74L627.13,239.96L624.73,239.96ZM626.25,239.92L627.45,242.14L625.05,242.14ZM628.67,260.29L629.87,262.51L627.47,262.51ZM625.97,242.28L627.17,244.50L624.77,244.50ZM628.36,224.68L629.56,226.90L627.16,226.90ZM628.05,247.04L629.25,249.26L626.85,249.26ZM628.22,256.55L629.42,258.77L627.02,258.77ZM623.91,246.66L625.11,248.88L622.71,248.88ZM624.48,261.54L625.68,263.76L623.28,263.76ZM623.95,243.15L625.15,245.37L622.75,245.37ZM626.23,251.92L627.43,254.14L625.03,254.14ZM626.26,260.37L627.46,262.59L625.06,262.59ZM624.75,253.13L625.95,255.35L623.55,255.35ZM626.82,249.38L628.02,251.60L625.62,251.60ZM624.79,250.69L625.99,252.91L623.59,252.91ZM625.79,245.37L626.99,247.59L624.59,247.59ZM628.06,244.50L629.26,246.72L626.86,246.72ZM626.08,257.62L627.28,259.84L624.88,259.84ZM624.39,224.85L625.59,227.07L623.19,227.07ZM625.83,226.23L627.03,228.45L624.63,228.45ZM628.15,270.34L629.35,272.56L626.95,272.56ZM625.72,263.95L626.92,266.17L624.52,266.17ZM625.84,247.57L627.04,249.79L624.64,249.79ZM625.81,302.84L627.01,305.06L624.61,305.06ZM626.19,312.14L627.39,314.36L624.99,314.36Z" fill="none" stroke="#287e5c" stroke-width="0.62"/>
<path d="M638.40,225.30V250.10M636.60,225.30H640.20M636.60,250.10H640.20" stroke="#3c3c3c" stroke-width="0.75" fill="none"/>
<path d="M633.60,237.20H643.20" stroke="#5a5a5a" stroke-width="0.9" fill="none"/>
<path d="M637.14,220.40a1.05,1.05 0 1,0 2.1,0a1.05,1.05 0 1,0 -2.1,0M637.21,264.30a1.05,1.05 0 1,0 2.1,0a1.05,1.05 0 1,0 -2.1,0M637.51,240.89a1.05,1.05 0 1,0 2.1,0a1.05,1.05 0 1,0 -2.1,0M639.66,240.13a1.05,1.05 0 1,0 2.1,0a1.05,1.05 0 1,0 -2.1,0M637.55,228.33a1.05,1.05 0 1,0 2.1,0a1.05,1.05 0 1,0 -2.1,0M639.86,245.11a1.05,1.05 0 1,0 2.1,0a1.05,1.05 0 1,0 -2.1,0M637.09,255.21a1.05,1.05 0 1,0 2.1,0a1.05,1.05 0 1,0 -2.1,0M634.75,244.64a1.05,1.05 0 1,0 2.1,0a1.05,1.05 0 1,0 -2.1,0M638.20,234.96a1.05,1.05 0 1,0 2.1,0a1.05,1.05 0 1,0 -2.1,0M637.13,252.11a1.05,1.05 0 1,0 2.1,0a1.05,1.05 0 1,0 -2.1,0M640.07,242.16a1.05,1.05 0 1,0 2.1,0a1.05,1.05 0 1,0 -2.1,0M637.11,236.65a1.05,1.05 0 1,0 2.1,0a1.05,1.05 0 1,0 -2.1,0M636.56,243.22a1.05,1.05 0 1,0 2.1,0a1.05,1.05 0 1,0 -2.1,0M635.01,244.82a1.05,1.05 0 1,0 2.1,0a1.05,1.05 0 1,0 -2.1,0M634.49,243.65a1.05,1.05 0 1,0 2.1,0a1.05,1.05 0 1,0 -2.1,0M639.63,236.35a1.05,1.05 0 1,0 2.1,0a1.05,1.05 0 1,0 -2.1,0M637.61,245.01a1.05,1.05 0 1,0 2.1,0a1.05,1.05 0 1,0 -2.1,0M635.52,228.65a1.05,1.05 0 1,0 2.1,0a1.05,1.05 0 1,0 -2.1,0M639.24,251.68a1.05,1.05 0 1,0 2.1,0a1.05,1.05 0 1,0 -2.1,0M638.96,243.98a1.05,1.05 0 1,0 2.1,0a1.05,1.05 0 1,0 -2.1,0M639.74,255.75a1.05,1.05 0 1,0 2.1,0a1.05,1.05 0 1,0 -2.1,0M637.61,242.92a1.05,1.05 0 1,0 2.1,0a1.05,1.05 0 1,0 -2.1,0M639.51,228.63a1.05,1.05 0 1,0 2.1,0a1.05,1.05 0 1,0 -2.1,0M637.60,245.33a1.05,1.05 0 1,0 2.1,0a1.05,1.05 0 1,0 -2.1,0M634.99,254.63a1.05,1.05 0 1,0 2.1,0a1.05,1.05 0 1,0 -2.1,0M639.62,229.11a1.05,1.05 0 1,0 2.1,0a1.05,1.05 0 1,0 -2.1,0M637.50,206.80a1.05,1.05 0 1,0 2.1,0a1.05,1.05 0 1,0 -2.1,0" fill="none" stroke="#f2c290" stroke-width="0.62"/>
<path d="M650.80,213.40V232.30M649.00,213.40H652.60M649.00,232.30H652.60" stroke="#3c3c3c" stroke-width="0.75" fill="none"/>
<path d="M646.00,222.80H655.60" stroke="#5a5a5a" stroke-width="0.9" fill="none"/>
<path d="M649.65,210.20h2.0v2.0h-2.0ZM649.76,240.40h2.0v2.0h-2.0ZM649.14,212.12h2.0v2.0h-2.0ZM648.20,218.99h2.0v2.0h-2.0ZM648.90,219.07h2.0v2.0h-2.0ZM647.54,227.36h2.0v2.0h-2.0ZM649.59,226.29h2.0v2.0h-2.0ZM649.78,216.69h2.0v2.0h-2.0ZM647.55,234.32h2.0v2.0h-2.0ZM649.88,223.86h2.0v2.0h-2.0ZM649.72,214.24h2.0v2.0h-2.0ZM649.68,228.31h2.0v2.0h-2.0ZM651.21,212.64h2.0v2.0h-2.0ZM651.76,216.84h2.0v2.0h-2.0ZM651.89,227.03h2.0v2.0h-2.0ZM651.76,234.73h2.0v2.0h-2.0ZM650.44,227.03h2.0v2.0h-2.0ZM652.17,223.78h2.0v2.0h-2.0ZM652.47,218.51h2.0v2.0h-2.0ZM649.57,221.93h2.0v2.0h-2.0ZM649.67,230.65h2.0v2.0h-2.0ZM649.62,218.59h2.0v2.0h-2.0ZM651.10,219.65h2.0v2.0h-2.0ZM647.42,220.71h2.0v2.0h-2.0ZM647.90,216.20h2.0v2.0h-2.0ZM650.02,234.48h2.0v2.0h-2.0ZM649.80,259.70h2.0v2.0h-2.0Z" fill="#22e02a" fill-opacity="0.42" stroke="#22e02a" stroke-width="0.6"/>
<circle cx="650.80" cy="202.00" r="0.95" fill="#222"/>
<path d="M663.20,213.00V233.50M661.40,213.00H665.00M661.40,233.50H665.00" stroke="#3c3c3c" stroke-width="0.75" fill="none"/>
<path d="M658.40,223.30H668.00" stroke="#5a5a5a" stroke-width="0.9" fill="none"/>
<path d="M665.51,210.64L666.71,212.86L664.31,212.86ZM663.23,240.44L664.43,242.66L662.03,242.66ZM664.51,218.56L665.71,220.78L663.31,220.78ZM664.43,229.47L665.63,231.69L663.23,231.69ZM660.88,217.84L662.08,220.06L659.68,220.06ZM663.13,222.58L664.33,224.80L661.93,224.80ZM661.27,226.03L662.47,228.25L660.07,228.25ZM663.09,220.49L664.29,222.71L661.89,222.71ZM660.98,222.15L662.18,224.37L659.78,224.37ZM663.41,238.11L664.61,240.33L662.21,240.33ZM662.51,212.64L663.71,214.86L661.31,214.86ZM662.66,222.21L663.86,224.43L661.46,224.43ZM665.58,215.95L666.78,218.17L664.38,218.17ZM662.90,210.84L664.10,213.06L661.70,213.06ZM661.32,210.76L662.52,212.98L660.12,212.98ZM663.11,231.09L664.31,233.31L661.91,233.31ZM666.01,224.89L667.21,227.11L664.81,227.11ZM663.19,216.80L664.39,219.02L661.99,219.02ZM660.49,211.37L661.69,213.59L659.29,213.59ZM660.84,220.22L662.04,222.44L659.64,222.44ZM661.72,222.14L662.92,224.36L660.52,224.36ZM665.34,211.65L666.54,213.87L664.14,213.87ZM663.24,214.24L664.44,216.46L662.04,216.46ZM665.25,222.09L666.45,224.31L664.05,224.31ZM662.96,227.39L664.16,229.61L661.76,229.61ZM664.09,225.59L665.29,227.81L662.89,227.81ZM663.27,251.34L664.47,253.56L662.07,253.56Z" fill="none" stroke="#a2c4f4" stroke-width="0.62"/>
<circle cx="663.20" cy="202.00" r="0.95" fill="#222"/>
<path d="M675.60,215.50V232.30M673.80,215.50H677.40M673.80,232.30H677.40" stroke="#3c3c3c" stroke-width="0.75" fill="none"/>
<path d="M670.80,224.30H680.40" stroke="#5a5a5a" stroke-width="0.9" fill="none"/>
<path d="M675.47,211.34L676.67,213.56L674.27,213.56ZM675.73,240.44L676.93,242.66L674.53,242.66ZM675.65,214.87L676.85,217.09L674.45,217.09ZM675.20,221.29L676.40,223.51L674.00,223.51ZM675.84,232.97L677.04,235.19L674.64,235.19ZM675.36,222.62L676.56,224.84L674.16,224.84ZM675.46,222.56L676.66,224.78L674.26,224.78ZM677.49,235.86L678.69,238.08L676.29,238.08ZM677.37,220.68L678.57,222.90L676.17,222.90ZM676.39,236.36L677.59,238.58L675.19,238.58ZM673.56,235.30L674.76,237.52L672.36,237.52ZM673.43,232.63L674.63,234.85L672.23,234.85ZM676.91,216.25L678.11,218.47L675.71,218.47ZM674.05,218.26L675.25,220.48L672.85,220.48ZM677.80,221.64L679.00,223.86L676.60,223.86ZM675.80,225.38L677.00,227.60L674.60,227.60ZM674.92,234.72L676.12,236.94L673.72,236.94ZM677.98,218.17L679.18,220.39L676.78,220.39ZM675.42,236.30L676.62,238.52L674.22,238.52ZM672.62,221.88L673.82,224.10L671.42,224.10ZM673.45,221.02L674.65,223.24L672.25,223.24ZM677.53,225.74L678.73,227.96L676.33,227.96ZM676.11,228.43L677.31,230.65L674.91,230.65ZM675.75,219.56L676.95,221.78L674.55,221.78ZM674.36,227.03L675.56,229.25L673.16,229.25ZM675.47,230.21L676.67,232.43L674.27,232.43ZM675.43,248.44L676.63,250.66L674.23,250.66Z" fill="none" stroke="#c8c444" stroke-width="0.62"/>
<circle cx="675.60" cy="202.00" r="0.95" fill="#222"/>
<path d="M493.1,192.6V319.2H685" stroke="#8c8c8c" stroke-width="1" fill="none"/>
<path d="M490.70000000000005,192.6H493.1M490.70000000000005,213.7H493.1M490.70000000000005,234.8H493.1M490.70000000000005,255.9H493.1M490.70000000000005,277.0H493.1M490.70000000000005,298.1H493.1M490.70000000000005,319.2H493.1" stroke="#8c8c8c" stroke-width="0.8" fill="none"/>
<text x="490.75" y="194.84" text-anchor="end" font-size="6.4" fill="#262626" class="r">105</text>
<text x="490.75" y="215.94" text-anchor="end" font-size="6.4" fill="#262626" class="r">95</text>
<text x="490.75" y="237.04" text-anchor="end" font-size="6.4" fill="#262626" class="r">85</text>
<text x="490.75" y="258.14" text-anchor="end" font-size="6.4" fill="#262626" class="r">75</text>
<text x="490.75" y="279.24" text-anchor="end" font-size="6.4" fill="#262626" class="r">65</text>
<text x="490.75" y="300.34" text-anchor="end" font-size="6.4" fill="#262626" class="r">55</text>
<text x="490.75" y="321.44" text-anchor="end" font-size="6.4" fill="#262626" class="r">45</text>
<path d="M502.00,319.2v2.6M514.40,319.2v2.6M526.80,319.2v2.6M539.20,319.2v2.6M551.60,319.2v2.6M564.00,319.2v2.6M576.40,319.2v2.6M588.80,319.2v2.6M601.20,319.2v2.6M613.60,319.2v2.6M626.00,319.2v2.6M638.40,319.2v2.6M650.80,319.2v2.6M663.20,319.2v2.6M675.60,319.2v2.6" stroke="#8c8c8c" stroke-width="0.8" fill="none"/>
<text x="502.00" y="328.5" text-anchor="middle" font-size="7.0" fill="#262626" class="r">RO</text>
<text x="514.40" y="328.5" text-anchor="middle" font-size="7.0" fill="#262626" class="r">CE</text>
<text x="526.80" y="328.5" text-anchor="middle" font-size="7.0" fill="#262626" class="r">AY</text>
<text x="539.20" y="328.5" text-anchor="middle" font-size="7.0" fill="#262626" class="r">SH</text>
<text x="551.60" y="328.5" text-anchor="middle" font-size="7.0" fill="#262626" class="r">PR</text>
<text x="564.00" y="328.5" text-anchor="middle" font-size="7.0" fill="#262626" class="r">PN</text>
<text x="576.40" y="328.5" text-anchor="middle" font-size="7.0" fill="#262626" class="r">VA</text>
<text x="588.80" y="328.5" text-anchor="middle" font-size="7.0" fill="#262626" class="r">TA</text>
<text x="601.20" y="328.5" text-anchor="middle" font-size="7.0" fill="#262626" class="r">ML</text>
<text x="613.60" y="328.5" text-anchor="middle" font-size="7.0" fill="#262626" class="r">LO</text>
<text x="626.00" y="328.5" text-anchor="middle" font-size="7.0" fill="#262626" class="r">SB</text>
<text x="638.40" y="328.5" text-anchor="middle" font-size="7.0" fill="#262626" class="r">MT</text>
<text x="650.80" y="328.5" text-anchor="middle" font-size="7.0" fill="#262626" class="r">LC</text>
<text x="663.20" y="328.5" text-anchor="middle" font-size="7.0" fill="#262626" class="r">SS</text>
<text x="675.60" y="328.5" text-anchor="middle" font-size="7.0" fill="#262626" class="r">PL</text>
<text x="574.83" y="182.40" font-size="6.3" font-weight="bold" fill="#111" class="b" textLength="28.33" lengthAdjust="spacingAndGlyphs">(F) iAChE</text>
<text x="570.93" y="340.00" font-size="6.5" font-weight="bold" fill="#111" class="b" textLength="36.00" lengthAdjust="spacingAndGlyphs">Populations</text>
<text transform="rotate(-90)" x="-272.60" y="476.50" font-size="6.2" font-weight="bold" fill="#111" class="b" textLength="36.13" lengthAdjust="spacingAndGlyphs">% Inhibition</text>
</svg>
</body></html>
